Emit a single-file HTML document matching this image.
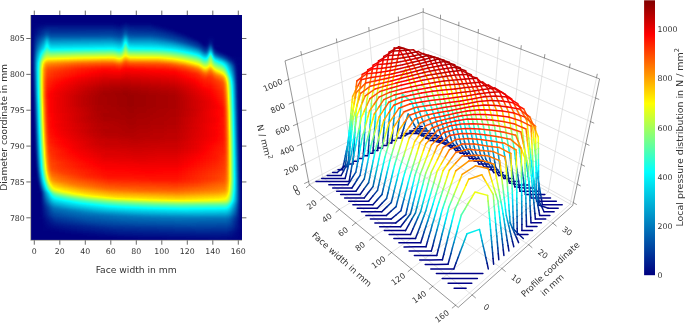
<!DOCTYPE html><html><head><meta charset="utf-8"><title>Local pressure distribution</title><style>html,body{margin:0;padding:0;background:#fff}svg{display:block}</style></head><body><svg width="685" height="324" viewBox="0 0 685 324" font-family="'DejaVu Sans','Liberation Sans',sans-serif"><defs><filter id="jet" filterUnits="userSpaceOnUse" x="25" y="9" width="223" height="237" color-interpolation-filters="sRGB"><feGaussianBlur stdDeviation="0.8 1.1"/><feComponentTransfer><feFuncR type="table" tableValues="0 0 0 0 .5 1 1 1 .5"/><feFuncG type="table" tableValues="0 .3333 .6667 1 1 1 .5 0 0"/><feFuncB type="table" tableValues=".5 .6667 .8333 1 .5 0 0 0 0"/><feFuncA type="linear" slope="0" intercept="1"/></feComponentTransfer></filter><clipPath id="hc"><rect x="31" y="15" width="211" height="225"/></clipPath><linearGradient id="h5"><stop offset="0" stop-color="#000000"/><stop offset="1" stop-color="#000000"/></linearGradient><linearGradient id="h6"><stop offset="0" stop-color="#000000"/><stop offset="0.09132" stop-color="#020202"/><stop offset="0.3881" stop-color="#020202"/><stop offset="0.4292" stop-color="#000000"/><stop offset="0.4521" stop-color="#060606"/><stop offset="0.4703" stop-color="#020202"/><stop offset="0.5616" stop-color="#020202"/><stop offset="0.5845" stop-color="#000000"/><stop offset="1" stop-color="#000000"/></linearGradient><linearGradient id="h7"><stop offset="0" stop-color="#000000"/><stop offset="0.02283" stop-color="#000000"/><stop offset="0.09132" stop-color="#070707"/><stop offset="0.3881" stop-color="#070707"/><stop offset="0.4247" stop-color="#040404"/><stop offset="0.4521" stop-color="#0b0b0b"/><stop offset="0.4703" stop-color="#070707"/><stop offset="0.5616" stop-color="#070707"/><stop offset="0.6164" stop-color="#000000"/><stop offset="1" stop-color="#000000"/></linearGradient><linearGradient id="h8"><stop offset="0" stop-color="#000000"/><stop offset="0.02283" stop-color="#000000"/><stop offset="0.09132" stop-color="#0c0c0c"/><stop offset="0.3881" stop-color="#0b0b0b"/><stop offset="0.4247" stop-color="#080808"/><stop offset="0.4521" stop-color="#101010"/><stop offset="0.4703" stop-color="#0c0c0c"/><stop offset="0.5616" stop-color="#0b0b0b"/><stop offset="0.6484" stop-color="#000000"/><stop offset="1" stop-color="#000000"/></linearGradient><linearGradient id="h9"><stop offset="0" stop-color="#000000"/><stop offset="0.02283" stop-color="#000000"/><stop offset="0.09132" stop-color="#121212"/><stop offset="0.1096" stop-color="#0f0f0f"/><stop offset="0.3881" stop-color="#101010"/><stop offset="0.4247" stop-color="#0d0d0d"/><stop offset="0.4521" stop-color="#161616"/><stop offset="0.4703" stop-color="#101010"/><stop offset="0.5799" stop-color="#0e0e0e"/><stop offset="0.6758" stop-color="#000000"/><stop offset="1" stop-color="#000000"/></linearGradient><linearGradient id="h10"><stop offset="0" stop-color="#000000"/><stop offset="0.02283" stop-color="#000000"/><stop offset="0.09132" stop-color="#181818"/><stop offset="0.1096" stop-color="#131313"/><stop offset="0.3881" stop-color="#151515"/><stop offset="0.4247" stop-color="#111111"/><stop offset="0.4338" stop-color="#131313"/><stop offset="0.4475" stop-color="#1d1d1d"/><stop offset="0.4521" stop-color="#1e1e1e"/><stop offset="0.4658" stop-color="#151515"/><stop offset="0.5799" stop-color="#131313"/><stop offset="0.6393" stop-color="#0c0c0c"/><stop offset="0.6986" stop-color="#000000"/><stop offset="1" stop-color="#000000"/></linearGradient><linearGradient id="h11"><stop offset="0" stop-color="#000000"/><stop offset="0.02283" stop-color="#000000"/><stop offset="0.07763" stop-color="#171717"/><stop offset="0.09132" stop-color="#202020"/><stop offset="0.1005" stop-color="#1a1a1a"/><stop offset="0.1096" stop-color="#181818"/><stop offset="0.3881" stop-color="#191919"/><stop offset="0.4247" stop-color="#161616"/><stop offset="0.4338" stop-color="#181818"/><stop offset="0.4384" stop-color="#1b1b1b"/><stop offset="0.4475" stop-color="#262626"/><stop offset="0.4521" stop-color="#262626"/><stop offset="0.4612" stop-color="#1c1c1c"/><stop offset="0.4658" stop-color="#1a1a1a"/><stop offset="0.5616" stop-color="#191919"/><stop offset="0.6027" stop-color="#161616"/><stop offset="0.6667" stop-color="#0d0d0d"/><stop offset="0.7215" stop-color="#000000"/><stop offset="1" stop-color="#000000"/></linearGradient><linearGradient id="h12"><stop offset="0" stop-color="#000000"/><stop offset="0.02283" stop-color="#000000"/><stop offset="0.04566" stop-color="#0e0e0e"/><stop offset="0.07763" stop-color="#1d1d1d"/><stop offset="0.09132" stop-color="#2b2b2b"/><stop offset="0.1005" stop-color="#212121"/><stop offset="0.1096" stop-color="#1e1e1e"/><stop offset="0.3836" stop-color="#1f1f1f"/><stop offset="0.4247" stop-color="#1a1a1a"/><stop offset="0.4338" stop-color="#1d1d1d"/><stop offset="0.4384" stop-color="#222222"/><stop offset="0.4475" stop-color="#353535"/><stop offset="0.4521" stop-color="#363636"/><stop offset="0.4612" stop-color="#252525"/><stop offset="0.4703" stop-color="#202020"/><stop offset="0.5616" stop-color="#1f1f1f"/><stop offset="0.6256" stop-color="#181818"/><stop offset="0.6849" stop-color="#0f0f0f"/><stop offset="0.7443" stop-color="#000000"/><stop offset="1" stop-color="#000000"/></linearGradient><linearGradient id="h13"><stop offset="0" stop-color="#000000"/><stop offset="0.02283" stop-color="#000000"/><stop offset="0.04566" stop-color="#121212"/><stop offset="0.07763" stop-color="#262626"/><stop offset="0.09132" stop-color="#3a3a3a"/><stop offset="0.09589" stop-color="#353535"/><stop offset="0.1005" stop-color="#2d2d2d"/><stop offset="0.105" stop-color="#282828"/><stop offset="0.1096" stop-color="#272727"/><stop offset="0.3881" stop-color="#292929"/><stop offset="0.4247" stop-color="#222222"/><stop offset="0.4338" stop-color="#272727"/><stop offset="0.4384" stop-color="#2d2d2d"/><stop offset="0.4475" stop-color="#464646"/><stop offset="0.4521" stop-color="#464646"/><stop offset="0.4612" stop-color="#303030"/><stop offset="0.4658" stop-color="#2b2b2b"/><stop offset="0.4703" stop-color="#2a2a2a"/><stop offset="0.5616" stop-color="#2a2a2a"/><stop offset="0.5845" stop-color="#272727"/><stop offset="0.6986" stop-color="#121212"/><stop offset="0.7626" stop-color="#000000"/><stop offset="0.8219" stop-color="#000000"/><stop offset="0.8402" stop-color="#030303"/><stop offset="0.8584" stop-color="#000000"/><stop offset="1" stop-color="#000000"/></linearGradient><linearGradient id="h14"><stop offset="0" stop-color="#000000"/><stop offset="0.02283" stop-color="#000000"/><stop offset="0.0274" stop-color="#040404"/><stop offset="0.04566" stop-color="#161616"/><stop offset="0.07763" stop-color="#2f2f2f"/><stop offset="0.08219" stop-color="#363636"/><stop offset="0.08676" stop-color="#424242"/><stop offset="0.09132" stop-color="#494949"/><stop offset="0.09589" stop-color="#424242"/><stop offset="0.1005" stop-color="#383838"/><stop offset="0.105" stop-color="#323232"/><stop offset="0.1096" stop-color="#313131"/><stop offset="0.3881" stop-color="#343434"/><stop offset="0.4247" stop-color="#2c2c2c"/><stop offset="0.4338" stop-color="#313131"/><stop offset="0.4384" stop-color="#383838"/><stop offset="0.4475" stop-color="#565656"/><stop offset="0.4521" stop-color="#565656"/><stop offset="0.4612" stop-color="#3b3b3b"/><stop offset="0.4658" stop-color="#353535"/><stop offset="0.4703" stop-color="#343434"/><stop offset="0.5616" stop-color="#343434"/><stop offset="0.6073" stop-color="#2e2e2e"/><stop offset="0.7306" stop-color="#111111"/><stop offset="0.7808" stop-color="#000000"/><stop offset="0.8219" stop-color="#000000"/><stop offset="0.8402" stop-color="#050505"/><stop offset="0.8584" stop-color="#000000"/><stop offset="1" stop-color="#000000"/></linearGradient><linearGradient id="h15"><stop offset="0" stop-color="#000000"/><stop offset="0.02283" stop-color="#000000"/><stop offset="0.0274" stop-color="#040404"/><stop offset="0.04566" stop-color="#1a1a1a"/><stop offset="0.07763" stop-color="#383838"/><stop offset="0.08219" stop-color="#404040"/><stop offset="0.08676" stop-color="#4e4e4e"/><stop offset="0.09132" stop-color="#565656"/><stop offset="0.09589" stop-color="#4f4f4f"/><stop offset="0.1005" stop-color="#424242"/><stop offset="0.105" stop-color="#3c3c3c"/><stop offset="0.1096" stop-color="#3a3a3a"/><stop offset="0.3881" stop-color="#3e3e3e"/><stop offset="0.4247" stop-color="#363636"/><stop offset="0.4338" stop-color="#3b3b3b"/><stop offset="0.4384" stop-color="#434343"/><stop offset="0.4475" stop-color="#656565"/><stop offset="0.4521" stop-color="#656565"/><stop offset="0.4612" stop-color="#464646"/><stop offset="0.4658" stop-color="#404040"/><stop offset="0.4703" stop-color="#3e3e3e"/><stop offset="0.5616" stop-color="#3e3e3e"/><stop offset="0.6301" stop-color="#353535"/><stop offset="0.6667" stop-color="#2d2d2d"/><stop offset="0.7123" stop-color="#1c1c1c"/><stop offset="0.7626" stop-color="#0f0f0f"/><stop offset="0.7808" stop-color="#080808"/><stop offset="0.7945" stop-color="#000000"/><stop offset="0.8265" stop-color="#010101"/><stop offset="0.8356" stop-color="#080808"/><stop offset="0.8402" stop-color="#0a0a0a"/><stop offset="0.8493" stop-color="#020202"/><stop offset="0.8584" stop-color="#000000"/><stop offset="1" stop-color="#000000"/></linearGradient><linearGradient id="h16"><stop offset="0" stop-color="#000000"/><stop offset="0.02283" stop-color="#000000"/><stop offset="0.0274" stop-color="#040404"/><stop offset="0.04566" stop-color="#1e1e1e"/><stop offset="0.07763" stop-color="#414141"/><stop offset="0.08219" stop-color="#494949"/><stop offset="0.08676" stop-color="#595959"/><stop offset="0.09132" stop-color="#616161"/><stop offset="0.09589" stop-color="#595959"/><stop offset="0.1005" stop-color="#4c4c4c"/><stop offset="0.105" stop-color="#454545"/><stop offset="0.1096" stop-color="#444444"/><stop offset="0.3836" stop-color="#484848"/><stop offset="0.4018" stop-color="#464646"/><stop offset="0.4247" stop-color="#404040"/><stop offset="0.4338" stop-color="#454545"/><stop offset="0.4384" stop-color="#4d4d4d"/><stop offset="0.4475" stop-color="#707070"/><stop offset="0.4521" stop-color="#717171"/><stop offset="0.4612" stop-color="#505050"/><stop offset="0.4658" stop-color="#4a4a4a"/><stop offset="0.4703" stop-color="#484848"/><stop offset="0.5753" stop-color="#474747"/><stop offset="0.653" stop-color="#3d3d3d"/><stop offset="0.6941" stop-color="#313131"/><stop offset="0.7397" stop-color="#1d1d1d"/><stop offset="0.7808" stop-color="#101010"/><stop offset="0.79" stop-color="#0b0b0b"/><stop offset="0.8037" stop-color="#000000"/><stop offset="0.8265" stop-color="#020202"/><stop offset="0.8356" stop-color="#0e0e0e"/><stop offset="0.8402" stop-color="#101010"/><stop offset="0.8493" stop-color="#030303"/><stop offset="0.8584" stop-color="#000000"/><stop offset="1" stop-color="#000000"/></linearGradient><linearGradient id="h17"><stop offset="0" stop-color="#000000"/><stop offset="0.02283" stop-color="#000000"/><stop offset="0.0274" stop-color="#040404"/><stop offset="0.04566" stop-color="#222222"/><stop offset="0.06393" stop-color="#3a3a3a"/><stop offset="0.07763" stop-color="#4a4a4a"/><stop offset="0.08219" stop-color="#525252"/><stop offset="0.08676" stop-color="#616161"/><stop offset="0.09132" stop-color="#696969"/><stop offset="0.09589" stop-color="#616161"/><stop offset="0.1005" stop-color="#555555"/><stop offset="0.105" stop-color="#4f4f4f"/><stop offset="0.1096" stop-color="#4d4d4d"/><stop offset="0.3836" stop-color="#525252"/><stop offset="0.4018" stop-color="#515151"/><stop offset="0.4247" stop-color="#4b4b4b"/><stop offset="0.4338" stop-color="#4f4f4f"/><stop offset="0.4384" stop-color="#575757"/><stop offset="0.4475" stop-color="#797979"/><stop offset="0.4521" stop-color="#797979"/><stop offset="0.4612" stop-color="#5a5a5a"/><stop offset="0.4658" stop-color="#545454"/><stop offset="0.5936" stop-color="#515151"/><stop offset="0.6667" stop-color="#464646"/><stop offset="0.6986" stop-color="#3d3d3d"/><stop offset="0.7306" stop-color="#303030"/><stop offset="0.7671" stop-color="#1c1c1c"/><stop offset="0.79" stop-color="#131313"/><stop offset="0.8128" stop-color="#030303"/><stop offset="0.8219" stop-color="#030303"/><stop offset="0.8265" stop-color="#080808"/><stop offset="0.8356" stop-color="#1f1f1f"/><stop offset="0.8402" stop-color="#202020"/><stop offset="0.8493" stop-color="#050505"/><stop offset="0.8539" stop-color="#010101"/><stop offset="1" stop-color="#000000"/></linearGradient><linearGradient id="h18"><stop offset="0" stop-color="#000000"/><stop offset="0.02283" stop-color="#000000"/><stop offset="0.0274" stop-color="#040404"/><stop offset="0.04566" stop-color="#262626"/><stop offset="0.06393" stop-color="#414141"/><stop offset="0.07763" stop-color="#525252"/><stop offset="0.08219" stop-color="#5a5a5a"/><stop offset="0.08676" stop-color="#676767"/><stop offset="0.09132" stop-color="#6e6e6e"/><stop offset="0.09589" stop-color="#686868"/><stop offset="0.1005" stop-color="#5d5d5d"/><stop offset="0.105" stop-color="#585858"/><stop offset="0.1096" stop-color="#575757"/><stop offset="0.3836" stop-color="#5c5c5c"/><stop offset="0.4018" stop-color="#5b5b5b"/><stop offset="0.4247" stop-color="#555555"/><stop offset="0.4338" stop-color="#595959"/><stop offset="0.4384" stop-color="#606060"/><stop offset="0.4475" stop-color="#818181"/><stop offset="0.4521" stop-color="#828282"/><stop offset="0.4612" stop-color="#646464"/><stop offset="0.4658" stop-color="#5e5e5e"/><stop offset="0.6027" stop-color="#5b5b5b"/><stop offset="0.6758" stop-color="#515151"/><stop offset="0.7123" stop-color="#464646"/><stop offset="0.7489" stop-color="#373737"/><stop offset="0.7763" stop-color="#272727"/><stop offset="0.8037" stop-color="#111111"/><stop offset="0.8128" stop-color="#0c0c0c"/><stop offset="0.8219" stop-color="#0c0c0c"/><stop offset="0.8265" stop-color="#111111"/><stop offset="0.8311" stop-color="#1e1e1e"/><stop offset="0.8356" stop-color="#2f2f2f"/><stop offset="0.8402" stop-color="#313131"/><stop offset="0.8493" stop-color="#0d0d0d"/><stop offset="0.8539" stop-color="#020202"/><stop offset="0.8584" stop-color="#000000"/><stop offset="1" stop-color="#000000"/></linearGradient><linearGradient id="h19"><stop offset="0" stop-color="#000000"/><stop offset="0.02283" stop-color="#000000"/><stop offset="0.0274" stop-color="#040404"/><stop offset="0.04566" stop-color="#2b2b2b"/><stop offset="0.06393" stop-color="#4b4b4b"/><stop offset="0.08219" stop-color="#656565"/><stop offset="0.08676" stop-color="#717171"/><stop offset="0.09132" stop-color="#767676"/><stop offset="0.09589" stop-color="#727272"/><stop offset="0.1005" stop-color="#696969"/><stop offset="0.105" stop-color="#656565"/><stop offset="0.1096" stop-color="#646464"/><stop offset="0.3836" stop-color="#6b6b6b"/><stop offset="0.4018" stop-color="#686868"/><stop offset="0.4155" stop-color="#616161"/><stop offset="0.4247" stop-color="#606060"/><stop offset="0.4338" stop-color="#666666"/><stop offset="0.4384" stop-color="#6e6e6e"/><stop offset="0.4475" stop-color="#8a8a8a"/><stop offset="0.4521" stop-color="#8b8b8b"/><stop offset="0.4612" stop-color="#727272"/><stop offset="0.4658" stop-color="#6d6d6d"/><stop offset="0.4703" stop-color="#6b6b6b"/><stop offset="0.6119" stop-color="#686868"/><stop offset="0.6667" stop-color="#606060"/><stop offset="0.7169" stop-color="#535353"/><stop offset="0.7489" stop-color="#464646"/><stop offset="0.7763" stop-color="#383838"/><stop offset="0.79" stop-color="#2c2c2c"/><stop offset="0.8037" stop-color="#191919"/><stop offset="0.8128" stop-color="#141414"/><stop offset="0.8219" stop-color="#151515"/><stop offset="0.8265" stop-color="#1b1b1b"/><stop offset="0.8311" stop-color="#2a2a2a"/><stop offset="0.8356" stop-color="#404040"/><stop offset="0.8402" stop-color="#434343"/><stop offset="0.8493" stop-color="#181818"/><stop offset="0.8539" stop-color="#0d0d0d"/><stop offset="0.8676" stop-color="#000000"/><stop offset="1" stop-color="#000000"/></linearGradient><linearGradient id="h20"><stop offset="0" stop-color="#000000"/><stop offset="0.02283" stop-color="#000000"/><stop offset="0.0274" stop-color="#040404"/><stop offset="0.04566" stop-color="#313131"/><stop offset="0.06393" stop-color="#555555"/><stop offset="0.07306" stop-color="#656565"/><stop offset="0.08219" stop-color="#717171"/><stop offset="0.08676" stop-color="#7a7a7a"/><stop offset="0.09132" stop-color="#7f7f7f"/><stop offset="0.1005" stop-color="#767676"/><stop offset="0.1096" stop-color="#737373"/><stop offset="0.3836" stop-color="#7a7a7a"/><stop offset="0.4018" stop-color="#787878"/><stop offset="0.4155" stop-color="#707070"/><stop offset="0.4247" stop-color="#6f6f6f"/><stop offset="0.4338" stop-color="#757575"/><stop offset="0.4384" stop-color="#7c7c7c"/><stop offset="0.4475" stop-color="#939393"/><stop offset="0.4521" stop-color="#939393"/><stop offset="0.4612" stop-color="#808080"/><stop offset="0.4703" stop-color="#7a7a7a"/><stop offset="0.5753" stop-color="#7a7a7a"/><stop offset="0.6164" stop-color="#777777"/><stop offset="0.6667" stop-color="#6f6f6f"/><stop offset="0.7215" stop-color="#606060"/><stop offset="0.7534" stop-color="#545454"/><stop offset="0.7808" stop-color="#464646"/><stop offset="0.79" stop-color="#3e3e3e"/><stop offset="0.8082" stop-color="#222222"/><stop offset="0.8128" stop-color="#1f1f1f"/><stop offset="0.8174" stop-color="#1e1e1e"/><stop offset="0.8219" stop-color="#212121"/><stop offset="0.8265" stop-color="#2b2b2b"/><stop offset="0.8311" stop-color="#3f3f3f"/><stop offset="0.8356" stop-color="#585858"/><stop offset="0.8402" stop-color="#5c5c5c"/><stop offset="0.8447" stop-color="#414141"/><stop offset="0.8493" stop-color="#232323"/><stop offset="0.8539" stop-color="#171717"/><stop offset="0.8584" stop-color="#111111"/><stop offset="0.8813" stop-color="#020202"/><stop offset="0.8858" stop-color="#000000"/><stop offset="1" stop-color="#000000"/></linearGradient><linearGradient id="h21"><stop offset="0" stop-color="#000000"/><stop offset="0.02283" stop-color="#000000"/><stop offset="0.0274" stop-color="#040404"/><stop offset="0.04566" stop-color="#363636"/><stop offset="0.06393" stop-color="#5e5e5e"/><stop offset="0.07306" stop-color="#707070"/><stop offset="0.08676" stop-color="#848484"/><stop offset="0.09132" stop-color="#878787"/><stop offset="0.1005" stop-color="#828282"/><stop offset="0.1096" stop-color="#808080"/><stop offset="0.2329" stop-color="#858585"/><stop offset="0.3881" stop-color="#888888"/><stop offset="0.4018" stop-color="#868686"/><stop offset="0.4201" stop-color="#7e7e7e"/><stop offset="0.4247" stop-color="#7e7e7e"/><stop offset="0.4338" stop-color="#848484"/><stop offset="0.4384" stop-color="#8a8a8a"/><stop offset="0.4475" stop-color="#9b9b9b"/><stop offset="0.4521" stop-color="#9b9b9b"/><stop offset="0.4612" stop-color="#8d8d8d"/><stop offset="0.4703" stop-color="#898989"/><stop offset="0.6073" stop-color="#868686"/><stop offset="0.653" stop-color="#818181"/><stop offset="0.6986" stop-color="#767676"/><stop offset="0.7489" stop-color="#656565"/><stop offset="0.7808" stop-color="#575757"/><stop offset="0.79" stop-color="#4f4f4f"/><stop offset="0.8082" stop-color="#353535"/><stop offset="0.8128" stop-color="#323232"/><stop offset="0.8174" stop-color="#323232"/><stop offset="0.8219" stop-color="#353535"/><stop offset="0.8265" stop-color="#3f3f3f"/><stop offset="0.8311" stop-color="#545454"/><stop offset="0.8356" stop-color="#6d6d6d"/><stop offset="0.8402" stop-color="#717171"/><stop offset="0.8447" stop-color="#575757"/><stop offset="0.8493" stop-color="#393939"/><stop offset="0.8539" stop-color="#262626"/><stop offset="0.8584" stop-color="#1c1c1c"/><stop offset="0.863" stop-color="#181818"/><stop offset="0.8813" stop-color="#0d0d0d"/><stop offset="0.9087" stop-color="#000000"/><stop offset="1" stop-color="#000000"/></linearGradient><linearGradient id="h22"><stop offset="0" stop-color="#000000"/><stop offset="0.02283" stop-color="#000000"/><stop offset="0.0274" stop-color="#040404"/><stop offset="0.04566" stop-color="#3b3b3b"/><stop offset="0.06849" stop-color="#717171"/><stop offset="0.07763" stop-color="#828282"/><stop offset="0.08676" stop-color="#8d8d8d"/><stop offset="0.09132" stop-color="#909090"/><stop offset="0.105" stop-color="#8c8c8c"/><stop offset="0.2329" stop-color="#929292"/><stop offset="0.3836" stop-color="#969696"/><stop offset="0.4018" stop-color="#949494"/><stop offset="0.4155" stop-color="#8d8d8d"/><stop offset="0.4247" stop-color="#8c8c8c"/><stop offset="0.4338" stop-color="#919191"/><stop offset="0.4475" stop-color="#a4a4a4"/><stop offset="0.4521" stop-color="#a4a4a4"/><stop offset="0.4612" stop-color="#9a9a9a"/><stop offset="0.4703" stop-color="#969696"/><stop offset="0.6073" stop-color="#949494"/><stop offset="0.6621" stop-color="#8d8d8d"/><stop offset="0.7032" stop-color="#848484"/><stop offset="0.7443" stop-color="#767676"/><stop offset="0.7808" stop-color="#676767"/><stop offset="0.7945" stop-color="#5b5b5b"/><stop offset="0.8082" stop-color="#484848"/><stop offset="0.8128" stop-color="#454545"/><stop offset="0.8174" stop-color="#454545"/><stop offset="0.8219" stop-color="#494949"/><stop offset="0.8265" stop-color="#525252"/><stop offset="0.8356" stop-color="#7d7d7d"/><stop offset="0.8402" stop-color="#818181"/><stop offset="0.8447" stop-color="#6a6a6a"/><stop offset="0.8493" stop-color="#4e4e4e"/><stop offset="0.8539" stop-color="#3c3c3c"/><stop offset="0.8584" stop-color="#333333"/><stop offset="0.8767" stop-color="#1c1c1c"/><stop offset="0.9178" stop-color="#050505"/><stop offset="0.9315" stop-color="#000000"/><stop offset="1" stop-color="#000000"/></linearGradient><linearGradient id="h23"><stop offset="0" stop-color="#000000"/><stop offset="0.02283" stop-color="#000000"/><stop offset="0.0274" stop-color="#030303"/><stop offset="0.04566" stop-color="#3f3f3f"/><stop offset="0.06849" stop-color="#7a7a7a"/><stop offset="0.07763" stop-color="#8d8d8d"/><stop offset="0.08676" stop-color="#979797"/><stop offset="0.09132" stop-color="#9a9a9a"/><stop offset="0.105" stop-color="#999999"/><stop offset="0.2329" stop-color="#9f9f9f"/><stop offset="0.379" stop-color="#a3a3a3"/><stop offset="0.3973" stop-color="#a2a2a2"/><stop offset="0.4247" stop-color="#999999"/><stop offset="0.4338" stop-color="#9f9f9f"/><stop offset="0.4475" stop-color="#afafaf"/><stop offset="0.4521" stop-color="#b0b0b0"/><stop offset="0.4612" stop-color="#a7a7a7"/><stop offset="0.4703" stop-color="#a3a3a3"/><stop offset="0.5982" stop-color="#a2a2a2"/><stop offset="0.6438" stop-color="#9d9d9d"/><stop offset="0.6849" stop-color="#959595"/><stop offset="0.7397" stop-color="#868686"/><stop offset="0.7763" stop-color="#787878"/><stop offset="0.79" stop-color="#6f6f6f"/><stop offset="0.8037" stop-color="#5f5f5f"/><stop offset="0.8128" stop-color="#585858"/><stop offset="0.8219" stop-color="#5c5c5c"/><stop offset="0.8265" stop-color="#636363"/><stop offset="0.8356" stop-color="#868686"/><stop offset="0.8402" stop-color="#898989"/><stop offset="0.8493" stop-color="#616161"/><stop offset="0.8539" stop-color="#525252"/><stop offset="0.8584" stop-color="#494949"/><stop offset="0.8995" stop-color="#1a1a1a"/><stop offset="0.9224" stop-color="#0a0a0a"/><stop offset="0.9406" stop-color="#020202"/><stop offset="1" stop-color="#000000"/></linearGradient><linearGradient id="h24"><stop offset="0" stop-color="#000000"/><stop offset="0.02283" stop-color="#000000"/><stop offset="0.0274" stop-color="#020202"/><stop offset="0.04566" stop-color="#444444"/><stop offset="0.06849" stop-color="#858585"/><stop offset="0.07763" stop-color="#999999"/><stop offset="0.09132" stop-color="#a6a6a6"/><stop offset="0.3516" stop-color="#b2b2b2"/><stop offset="0.3973" stop-color="#b1b1b1"/><stop offset="0.4155" stop-color="#a9a9a9"/><stop offset="0.4247" stop-color="#a7a7a7"/><stop offset="0.4338" stop-color="#adadad"/><stop offset="0.4475" stop-color="#bdbdbd"/><stop offset="0.4521" stop-color="#bebebe"/><stop offset="0.4612" stop-color="#b6b6b6"/><stop offset="0.4703" stop-color="#b2b2b2"/><stop offset="0.5982" stop-color="#b1b1b1"/><stop offset="0.6393" stop-color="#acacac"/><stop offset="0.6804" stop-color="#a4a4a4"/><stop offset="0.7306" stop-color="#969696"/><stop offset="0.7763" stop-color="#868686"/><stop offset="0.79" stop-color="#7e7e7e"/><stop offset="0.8037" stop-color="#6e6e6e"/><stop offset="0.8128" stop-color="#676767"/><stop offset="0.8219" stop-color="#6a6a6a"/><stop offset="0.8265" stop-color="#717171"/><stop offset="0.8356" stop-color="#8e8e8e"/><stop offset="0.8402" stop-color="#909090"/><stop offset="0.8493" stop-color="#6e6e6e"/><stop offset="0.8539" stop-color="#636363"/><stop offset="0.8904" stop-color="#3e3e3e"/><stop offset="0.9224" stop-color="#111111"/><stop offset="0.9406" stop-color="#060606"/><stop offset="0.9543" stop-color="#010101"/><stop offset="1" stop-color="#000000"/></linearGradient><linearGradient id="h25"><stop offset="0" stop-color="#000000"/><stop offset="0.0274" stop-color="#020202"/><stop offset="0.04566" stop-color="#484848"/><stop offset="0.06849" stop-color="#8f8f8f"/><stop offset="0.07763" stop-color="#a6a6a6"/><stop offset="0.09132" stop-color="#b3b3b3"/><stop offset="0.2329" stop-color="#bdbdbd"/><stop offset="0.3516" stop-color="#c1c1c1"/><stop offset="0.3973" stop-color="#c0c0c0"/><stop offset="0.4155" stop-color="#b8b8b8"/><stop offset="0.4247" stop-color="#b6b6b6"/><stop offset="0.4338" stop-color="#bcbcbc"/><stop offset="0.4429" stop-color="#c8c8c8"/><stop offset="0.4521" stop-color="#cbcbcb"/><stop offset="0.4703" stop-color="#c2c2c2"/><stop offset="0.5936" stop-color="#c0c0c0"/><stop offset="0.6712" stop-color="#b5b5b5"/><stop offset="0.7123" stop-color="#aaaaaa"/><stop offset="0.7763" stop-color="#939393"/><stop offset="0.79" stop-color="#8b8b8b"/><stop offset="0.8082" stop-color="#787878"/><stop offset="0.8128" stop-color="#767676"/><stop offset="0.8219" stop-color="#797979"/><stop offset="0.8265" stop-color="#7f7f7f"/><stop offset="0.8356" stop-color="#949494"/><stop offset="0.8402" stop-color="#959595"/><stop offset="0.8493" stop-color="#7b7b7b"/><stop offset="0.8539" stop-color="#727272"/><stop offset="0.863" stop-color="#696969"/><stop offset="0.8904" stop-color="#575757"/><stop offset="0.9041" stop-color="#434343"/><stop offset="0.9224" stop-color="#222222"/><stop offset="0.9406" stop-color="#0b0b0b"/><stop offset="0.9498" stop-color="#040404"/><stop offset="0.9589" stop-color="#000000"/><stop offset="1" stop-color="#000000"/></linearGradient><linearGradient id="h26"><stop offset="0" stop-color="#000000"/><stop offset="0.0274" stop-color="#010101"/><stop offset="0.04566" stop-color="#4b4b4b"/><stop offset="0.06849" stop-color="#969696"/><stop offset="0.07763" stop-color="#afafaf"/><stop offset="0.09132" stop-color="#bdbdbd"/><stop offset="0.2329" stop-color="#c8c8c8"/><stop offset="0.347" stop-color="#cccccc"/><stop offset="0.3973" stop-color="#cccccc"/><stop offset="0.4247" stop-color="#c6c6c6"/><stop offset="0.4429" stop-color="#cfcfcf"/><stop offset="0.4521" stop-color="#d1d1d1"/><stop offset="0.4703" stop-color="#cdcdcd"/><stop offset="0.6027" stop-color="#cccccc"/><stop offset="0.6484" stop-color="#c9c9c9"/><stop offset="0.6667" stop-color="#c6c6c6"/><stop offset="0.7215" stop-color="#b6b6b6"/><stop offset="0.7763" stop-color="#a0a0a0"/><stop offset="0.79" stop-color="#989898"/><stop offset="0.8037" stop-color="#8a8a8a"/><stop offset="0.8128" stop-color="#848484"/><stop offset="0.8219" stop-color="#868686"/><stop offset="0.8265" stop-color="#8b8b8b"/><stop offset="0.8356" stop-color="#9b9b9b"/><stop offset="0.8402" stop-color="#9c9c9c"/><stop offset="0.8493" stop-color="#878787"/><stop offset="0.8539" stop-color="#7f7f7f"/><stop offset="0.863" stop-color="#777777"/><stop offset="0.8904" stop-color="#656565"/><stop offset="0.9041" stop-color="#565656"/><stop offset="0.9132" stop-color="#464646"/><stop offset="0.9269" stop-color="#292929"/><stop offset="0.9498" stop-color="#070707"/><stop offset="0.9589" stop-color="#010101"/><stop offset="1" stop-color="#000000"/></linearGradient><linearGradient id="h27"><stop offset="0" stop-color="#000000"/><stop offset="0.0274" stop-color="#000000"/><stop offset="0.04566" stop-color="#4c4c4c"/><stop offset="0.05936" stop-color="#797979"/><stop offset="0.06849" stop-color="#9a9a9a"/><stop offset="0.07763" stop-color="#b4b4b4"/><stop offset="0.09132" stop-color="#c3c3c3"/><stop offset="0.2329" stop-color="#cecece"/><stop offset="0.347" stop-color="#d3d3d3"/><stop offset="0.3973" stop-color="#d3d3d3"/><stop offset="0.4247" stop-color="#cfcfcf"/><stop offset="0.4521" stop-color="#d8d8d8"/><stop offset="0.4703" stop-color="#d4d4d4"/><stop offset="0.6347" stop-color="#d1d1d1"/><stop offset="0.7123" stop-color="#c8c8c8"/><stop offset="0.7489" stop-color="#bbbbbb"/><stop offset="0.7808" stop-color="#acacac"/><stop offset="0.79" stop-color="#a5a5a5"/><stop offset="0.8082" stop-color="#939393"/><stop offset="0.8128" stop-color="#919191"/><stop offset="0.8219" stop-color="#939393"/><stop offset="0.8356" stop-color="#a5a5a5"/><stop offset="0.8402" stop-color="#a4a4a4"/><stop offset="0.8539" stop-color="#8c8c8c"/><stop offset="0.863" stop-color="#848484"/><stop offset="0.8904" stop-color="#747474"/><stop offset="0.9041" stop-color="#646464"/><stop offset="0.9269" stop-color="#363636"/><stop offset="0.9498" stop-color="#0c0c0c"/><stop offset="0.9543" stop-color="#060606"/><stop offset="0.9589" stop-color="#010101"/><stop offset="0.9635" stop-color="#000000"/><stop offset="1" stop-color="#000000"/></linearGradient><linearGradient id="h28"><stop offset="0" stop-color="#000000"/><stop offset="0.0274" stop-color="#000000"/><stop offset="0.04566" stop-color="#4d4d4d"/><stop offset="0.05936" stop-color="#7c7c7c"/><stop offset="0.06849" stop-color="#9e9e9e"/><stop offset="0.07763" stop-color="#b9b9b9"/><stop offset="0.09132" stop-color="#c9c9c9"/><stop offset="0.2329" stop-color="#d5d5d5"/><stop offset="0.347" stop-color="#dadada"/><stop offset="0.3973" stop-color="#dadada"/><stop offset="0.4247" stop-color="#d6d6d6"/><stop offset="0.4429" stop-color="#dddddd"/><stop offset="0.4521" stop-color="#dddddd"/><stop offset="0.4749" stop-color="#dbdbdb"/><stop offset="0.6256" stop-color="#d8d8d8"/><stop offset="0.6712" stop-color="#d5d5d5"/><stop offset="0.7169" stop-color="#cecece"/><stop offset="0.758" stop-color="#c6c6c6"/><stop offset="0.7763" stop-color="#bebebe"/><stop offset="0.79" stop-color="#b4b4b4"/><stop offset="0.8037" stop-color="#a4a4a4"/><stop offset="0.8128" stop-color="#9e9e9e"/><stop offset="0.8219" stop-color="#a0a0a0"/><stop offset="0.8356" stop-color="#b1b1b1"/><stop offset="0.8402" stop-color="#b0b0b0"/><stop offset="0.8539" stop-color="#999999"/><stop offset="0.863" stop-color="#919191"/><stop offset="0.8904" stop-color="#818181"/><stop offset="0.9041" stop-color="#717171"/><stop offset="0.9269" stop-color="#3e3e3e"/><stop offset="0.9361" stop-color="#2d2d2d"/><stop offset="0.9498" stop-color="#101010"/><stop offset="0.9589" stop-color="#020202"/><stop offset="0.9635" stop-color="#000000"/><stop offset="1" stop-color="#000000"/></linearGradient><linearGradient id="h29"><stop offset="0" stop-color="#000000"/><stop offset="0.0274" stop-color="#000000"/><stop offset="0.03196" stop-color="#111111"/><stop offset="0.04566" stop-color="#4d4d4d"/><stop offset="0.05023" stop-color="#5f5f5f"/><stop offset="0.05936" stop-color="#7d7d7d"/><stop offset="0.06849" stop-color="#a0a0a0"/><stop offset="0.07763" stop-color="#bcbcbc"/><stop offset="0.09132" stop-color="#cccccc"/><stop offset="0.2374" stop-color="#d9d9d9"/><stop offset="0.3516" stop-color="#dedede"/><stop offset="0.4247" stop-color="#dddddd"/><stop offset="0.4521" stop-color="#e0e0e0"/><stop offset="0.6712" stop-color="#dcdcdc"/><stop offset="0.7397" stop-color="#d0d0d0"/><stop offset="0.7854" stop-color="#c5c5c5"/><stop offset="0.79" stop-color="#c4c4c4"/><stop offset="0.8037" stop-color="#b3b3b3"/><stop offset="0.8128" stop-color="#acacac"/><stop offset="0.8219" stop-color="#afafaf"/><stop offset="0.8356" stop-color="#bebebe"/><stop offset="0.8402" stop-color="#bebebe"/><stop offset="0.8539" stop-color="#a6a6a6"/><stop offset="0.8584" stop-color="#a1a1a1"/><stop offset="0.8904" stop-color="#8d8d8d"/><stop offset="0.9041" stop-color="#7d7d7d"/><stop offset="0.9269" stop-color="#474747"/><stop offset="0.9361" stop-color="#343434"/><stop offset="0.9498" stop-color="#131313"/><stop offset="0.9589" stop-color="#030303"/><stop offset="0.9635" stop-color="#000000"/><stop offset="1" stop-color="#000000"/></linearGradient><linearGradient id="h30"><stop offset="0" stop-color="#000000"/><stop offset="0.0274" stop-color="#000000"/><stop offset="0.03196" stop-color="#101010"/><stop offset="0.05023" stop-color="#5f5f5f"/><stop offset="0.05936" stop-color="#7d7d7d"/><stop offset="0.06849" stop-color="#a0a0a0"/><stop offset="0.07763" stop-color="#bcbcbc"/><stop offset="0.09132" stop-color="#cecece"/><stop offset="0.1279" stop-color="#d3d3d3"/><stop offset="0.2374" stop-color="#dbdbdb"/><stop offset="0.3516" stop-color="#e1e1e1"/><stop offset="0.4247" stop-color="#e0e0e0"/><stop offset="0.4521" stop-color="#e2e2e2"/><stop offset="0.6712" stop-color="#dfdfdf"/><stop offset="0.7215" stop-color="#dadada"/><stop offset="0.7717" stop-color="#d0d0d0"/><stop offset="0.7945" stop-color="#c8c8c8"/><stop offset="0.8128" stop-color="#bbbbbb"/><stop offset="0.8174" stop-color="#bbbbbb"/><stop offset="0.8356" stop-color="#c6c6c6"/><stop offset="0.8402" stop-color="#c5c5c5"/><stop offset="0.8447" stop-color="#c2c2c2"/><stop offset="0.8584" stop-color="#b0b0b0"/><stop offset="0.895" stop-color="#969696"/><stop offset="0.9041" stop-color="#898989"/><stop offset="0.9132" stop-color="#737373"/><stop offset="0.9269" stop-color="#4f4f4f"/><stop offset="0.9361" stop-color="#3b3b3b"/><stop offset="0.9498" stop-color="#161616"/><stop offset="0.9589" stop-color="#030303"/><stop offset="0.9635" stop-color="#000000"/><stop offset="1" stop-color="#000000"/></linearGradient><linearGradient id="h31"><stop offset="0" stop-color="#000000"/><stop offset="0.0274" stop-color="#000000"/><stop offset="0.03196" stop-color="#0f0f0f"/><stop offset="0.05023" stop-color="#5f5f5f"/><stop offset="0.05936" stop-color="#7d7d7d"/><stop offset="0.06849" stop-color="#a1a1a1"/><stop offset="0.07763" stop-color="#bdbdbd"/><stop offset="0.09132" stop-color="#cfcfcf"/><stop offset="0.1279" stop-color="#d4d4d4"/><stop offset="0.2374" stop-color="#dddddd"/><stop offset="0.3516" stop-color="#e3e3e3"/><stop offset="0.4247" stop-color="#e3e3e3"/><stop offset="0.4521" stop-color="#e5e5e5"/><stop offset="0.6712" stop-color="#e1e1e1"/><stop offset="0.7671" stop-color="#d8d8d8"/><stop offset="0.7854" stop-color="#d3d3d3"/><stop offset="0.8128" stop-color="#c6c6c6"/><stop offset="0.8402" stop-color="#cbcbcb"/><stop offset="0.8904" stop-color="#a8a8a8"/><stop offset="0.895" stop-color="#a3a3a3"/><stop offset="0.9041" stop-color="#959595"/><stop offset="0.9178" stop-color="#727272"/><stop offset="0.9269" stop-color="#575757"/><stop offset="0.9361" stop-color="#414141"/><stop offset="0.9498" stop-color="#191919"/><stop offset="0.9589" stop-color="#040404"/><stop offset="0.9635" stop-color="#000000"/><stop offset="1" stop-color="#000000"/></linearGradient><linearGradient id="h32"><stop offset="0" stop-color="#000000"/><stop offset="0.0274" stop-color="#000000"/><stop offset="0.03196" stop-color="#0e0e0e"/><stop offset="0.05023" stop-color="#5f5f5f"/><stop offset="0.05936" stop-color="#7d7d7d"/><stop offset="0.06849" stop-color="#a1a1a1"/><stop offset="0.07763" stop-color="#bebebe"/><stop offset="0.09132" stop-color="#d1d1d1"/><stop offset="0.1279" stop-color="#d6d6d6"/><stop offset="0.2374" stop-color="#dfdfdf"/><stop offset="0.3516" stop-color="#e6e6e6"/><stop offset="0.4247" stop-color="#e5e5e5"/><stop offset="0.4521" stop-color="#e8e8e8"/><stop offset="0.6712" stop-color="#e3e3e3"/><stop offset="0.7854" stop-color="#d7d7d7"/><stop offset="0.8128" stop-color="#cdcdcd"/><stop offset="0.8402" stop-color="#d2d2d2"/><stop offset="0.8539" stop-color="#c8c8c8"/><stop offset="0.8813" stop-color="#bdbdbd"/><stop offset="0.8904" stop-color="#b6b6b6"/><stop offset="0.895" stop-color="#b2b2b2"/><stop offset="0.9041" stop-color="#a3a3a3"/><stop offset="0.9087" stop-color="#989898"/><stop offset="0.9178" stop-color="#7d7d7d"/><stop offset="0.9269" stop-color="#5f5f5f"/><stop offset="0.9361" stop-color="#474747"/><stop offset="0.9498" stop-color="#1c1c1c"/><stop offset="0.9589" stop-color="#050505"/><stop offset="0.9635" stop-color="#000000"/><stop offset="1" stop-color="#000000"/></linearGradient><linearGradient id="h33"><stop offset="0" stop-color="#000000"/><stop offset="0.0274" stop-color="#000000"/><stop offset="0.03196" stop-color="#0d0d0d"/><stop offset="0.05023" stop-color="#5f5f5f"/><stop offset="0.05936" stop-color="#7d7d7d"/><stop offset="0.06849" stop-color="#a2a2a2"/><stop offset="0.07763" stop-color="#bfbfbf"/><stop offset="0.08219" stop-color="#c7c7c7"/><stop offset="0.09132" stop-color="#d3d3d3"/><stop offset="0.1279" stop-color="#d8d8d8"/><stop offset="0.2374" stop-color="#e1e1e1"/><stop offset="0.3516" stop-color="#e8e8e8"/><stop offset="0.4247" stop-color="#e8e8e8"/><stop offset="0.4521" stop-color="#eaeaea"/><stop offset="0.6712" stop-color="#e6e6e6"/><stop offset="0.7717" stop-color="#dbdbdb"/><stop offset="0.8128" stop-color="#d3d3d3"/><stop offset="0.8356" stop-color="#d4d4d4"/><stop offset="0.8493" stop-color="#d1d1d1"/><stop offset="0.8584" stop-color="#cccccc"/><stop offset="0.8904" stop-color="#c0c0c0"/><stop offset="0.895" stop-color="#bdbdbd"/><stop offset="0.9041" stop-color="#b0b0b0"/><stop offset="0.9087" stop-color="#a5a5a5"/><stop offset="0.9178" stop-color="#888888"/><stop offset="0.9269" stop-color="#686868"/><stop offset="0.9361" stop-color="#4e4e4e"/><stop offset="0.9498" stop-color="#1f1f1f"/><stop offset="0.9589" stop-color="#060606"/><stop offset="0.9635" stop-color="#000000"/><stop offset="1" stop-color="#000000"/></linearGradient><linearGradient id="h34"><stop offset="0" stop-color="#000000"/><stop offset="0.0274" stop-color="#000000"/><stop offset="0.03196" stop-color="#0b0b0b"/><stop offset="0.05023" stop-color="#5f5f5f"/><stop offset="0.05936" stop-color="#7d7d7d"/><stop offset="0.06849" stop-color="#a2a2a2"/><stop offset="0.07763" stop-color="#bfbfbf"/><stop offset="0.08219" stop-color="#c8c8c8"/><stop offset="0.09132" stop-color="#d4d4d4"/><stop offset="0.1279" stop-color="#dadada"/><stop offset="0.2374" stop-color="#e4e4e4"/><stop offset="0.3516" stop-color="#ebebeb"/><stop offset="0.4521" stop-color="#ededed"/><stop offset="0.6712" stop-color="#e8e8e8"/><stop offset="0.7626" stop-color="#dfdfdf"/><stop offset="0.8128" stop-color="#d7d7d7"/><stop offset="0.8402" stop-color="#d6d6d6"/><stop offset="0.8584" stop-color="#d2d2d2"/><stop offset="0.8904" stop-color="#c6c6c6"/><stop offset="0.895" stop-color="#c3c3c3"/><stop offset="0.9041" stop-color="#b6b6b6"/><stop offset="0.9087" stop-color="#acacac"/><stop offset="0.9178" stop-color="#919191"/><stop offset="0.9269" stop-color="#717171"/><stop offset="0.9361" stop-color="#555555"/><stop offset="0.9498" stop-color="#232323"/><stop offset="0.9543" stop-color="#131313"/><stop offset="0.9589" stop-color="#070707"/><stop offset="0.9635" stop-color="#000000"/><stop offset="1" stop-color="#000000"/></linearGradient><linearGradient id="h35"><stop offset="0" stop-color="#000000"/><stop offset="0.0274" stop-color="#000000"/><stop offset="0.03196" stop-color="#0a0a0a"/><stop offset="0.05023" stop-color="#5e5e5e"/><stop offset="0.05936" stop-color="#7d7d7d"/><stop offset="0.06849" stop-color="#a2a2a2"/><stop offset="0.07763" stop-color="#c0c0c0"/><stop offset="0.08219" stop-color="#c9c9c9"/><stop offset="0.09132" stop-color="#d5d5d5"/><stop offset="0.1279" stop-color="#dbdbdb"/><stop offset="0.2374" stop-color="#e5e5e5"/><stop offset="0.3516" stop-color="#ededed"/><stop offset="0.4521" stop-color="#efefef"/><stop offset="0.6712" stop-color="#eaeaea"/><stop offset="0.7626" stop-color="#e1e1e1"/><stop offset="0.8128" stop-color="#d9d9d9"/><stop offset="0.8402" stop-color="#d8d8d8"/><stop offset="0.8904" stop-color="#cccccc"/><stop offset="0.895" stop-color="#cacaca"/><stop offset="0.9041" stop-color="#bcbcbc"/><stop offset="0.9087" stop-color="#b2b2b2"/><stop offset="0.9178" stop-color="#969696"/><stop offset="0.9269" stop-color="#757575"/><stop offset="0.9361" stop-color="#5a5a5a"/><stop offset="0.9406" stop-color="#4b4b4b"/><stop offset="0.9543" stop-color="#151515"/><stop offset="0.9589" stop-color="#080808"/><stop offset="0.9635" stop-color="#000000"/><stop offset="1" stop-color="#000000"/></linearGradient><linearGradient id="h36"><stop offset="0" stop-color="#000000"/><stop offset="0.0274" stop-color="#000000"/><stop offset="0.03196" stop-color="#090909"/><stop offset="0.05023" stop-color="#5e5e5e"/><stop offset="0.05936" stop-color="#7d7d7d"/><stop offset="0.06849" stop-color="#a2a2a2"/><stop offset="0.07763" stop-color="#c0c0c0"/><stop offset="0.08219" stop-color="#cacaca"/><stop offset="0.09132" stop-color="#d6d6d6"/><stop offset="0.1279" stop-color="#dddddd"/><stop offset="0.2374" stop-color="#e7e7e7"/><stop offset="0.3516" stop-color="#efefef"/><stop offset="0.4521" stop-color="#f1f1f1"/><stop offset="0.6712" stop-color="#ececec"/><stop offset="0.7626" stop-color="#e3e3e3"/><stop offset="0.8128" stop-color="#dadada"/><stop offset="0.8402" stop-color="#dadada"/><stop offset="0.895" stop-color="#cdcdcd"/><stop offset="0.9041" stop-color="#c1c1c1"/><stop offset="0.9087" stop-color="#b8b8b8"/><stop offset="0.9178" stop-color="#9c9c9c"/><stop offset="0.9269" stop-color="#7a7a7a"/><stop offset="0.9406" stop-color="#4e4e4e"/><stop offset="0.9543" stop-color="#171717"/><stop offset="0.9589" stop-color="#0a0a0a"/><stop offset="0.9635" stop-color="#000000"/><stop offset="1" stop-color="#000000"/></linearGradient><linearGradient id="h37"><stop offset="0" stop-color="#000000"/><stop offset="0.0274" stop-color="#000000"/><stop offset="0.03196" stop-color="#080808"/><stop offset="0.05023" stop-color="#5d5d5d"/><stop offset="0.05936" stop-color="#7c7c7c"/><stop offset="0.06849" stop-color="#a2a2a2"/><stop offset="0.07763" stop-color="#c0c0c0"/><stop offset="0.08219" stop-color="#cbcbcb"/><stop offset="0.09132" stop-color="#d7d7d7"/><stop offset="0.1279" stop-color="#dedede"/><stop offset="0.2374" stop-color="#e9e9e9"/><stop offset="0.3516" stop-color="#f1f1f1"/><stop offset="0.4521" stop-color="#f3f3f3"/><stop offset="0.6712" stop-color="#eeeeee"/><stop offset="0.7671" stop-color="#e4e4e4"/><stop offset="0.8128" stop-color="#dcdcdc"/><stop offset="0.8402" stop-color="#dbdbdb"/><stop offset="0.895" stop-color="#cfcfcf"/><stop offset="0.9041" stop-color="#c3c3c3"/><stop offset="0.9087" stop-color="#bababa"/><stop offset="0.9178" stop-color="#9f9f9f"/><stop offset="0.9269" stop-color="#7e7e7e"/><stop offset="0.9406" stop-color="#525252"/><stop offset="0.9543" stop-color="#181818"/><stop offset="0.9589" stop-color="#0b0b0b"/><stop offset="0.9635" stop-color="#000000"/><stop offset="1" stop-color="#000000"/></linearGradient><linearGradient id="h38"><stop offset="0" stop-color="#000000"/><stop offset="0.0274" stop-color="#000000"/><stop offset="0.03196" stop-color="#070707"/><stop offset="0.05023" stop-color="#5c5c5c"/><stop offset="0.05936" stop-color="#7c7c7c"/><stop offset="0.06849" stop-color="#a1a1a1"/><stop offset="0.07306" stop-color="#b1b1b1"/><stop offset="0.07763" stop-color="#c0c0c0"/><stop offset="0.08219" stop-color="#cccccc"/><stop offset="0.09132" stop-color="#d8d8d8"/><stop offset="0.1279" stop-color="#dfdfdf"/><stop offset="0.242" stop-color="#eaeaea"/><stop offset="0.3516" stop-color="#f2f2f2"/><stop offset="0.4521" stop-color="#f4f4f4"/><stop offset="0.6712" stop-color="#efefef"/><stop offset="0.7626" stop-color="#e6e6e6"/><stop offset="0.8128" stop-color="#dedede"/><stop offset="0.8402" stop-color="#dddddd"/><stop offset="0.895" stop-color="#d1d1d1"/><stop offset="0.9087" stop-color="#bcbcbc"/><stop offset="0.9178" stop-color="#a1a1a1"/><stop offset="0.9269" stop-color="#808080"/><stop offset="0.9406" stop-color="#545454"/><stop offset="0.9543" stop-color="#1a1a1a"/><stop offset="0.9635" stop-color="#000000"/><stop offset="1" stop-color="#000000"/></linearGradient><linearGradient id="h39"><stop offset="0" stop-color="#000000"/><stop offset="0.0274" stop-color="#000000"/><stop offset="0.03196" stop-color="#050505"/><stop offset="0.05023" stop-color="#5b5b5b"/><stop offset="0.05936" stop-color="#7c7c7c"/><stop offset="0.07306" stop-color="#b1b1b1"/><stop offset="0.08219" stop-color="#cccccc"/><stop offset="0.09132" stop-color="#d9d9d9"/><stop offset="0.09589" stop-color="#dbdbdb"/><stop offset="0.1324" stop-color="#e1e1e1"/><stop offset="0.2694" stop-color="#eeeeee"/><stop offset="0.3516" stop-color="#f4f4f4"/><stop offset="0.4521" stop-color="#f6f6f6"/><stop offset="0.6758" stop-color="#f1f1f1"/><stop offset="0.8402" stop-color="#dedede"/><stop offset="0.895" stop-color="#d3d3d3"/><stop offset="0.9087" stop-color="#bfbfbf"/><stop offset="0.9178" stop-color="#a3a3a3"/><stop offset="0.9269" stop-color="#818181"/><stop offset="0.9406" stop-color="#565656"/><stop offset="0.9543" stop-color="#1b1b1b"/><stop offset="0.9635" stop-color="#000000"/><stop offset="1" stop-color="#000000"/></linearGradient><linearGradient id="h40"><stop offset="0" stop-color="#000000"/><stop offset="0.0274" stop-color="#000000"/><stop offset="0.03196" stop-color="#040404"/><stop offset="0.05023" stop-color="#5b5b5b"/><stop offset="0.05936" stop-color="#7b7b7b"/><stop offset="0.07306" stop-color="#b1b1b1"/><stop offset="0.08219" stop-color="#cdcdcd"/><stop offset="0.09132" stop-color="#d9d9d9"/><stop offset="0.09589" stop-color="#dcdcdc"/><stop offset="0.1324" stop-color="#e2e2e2"/><stop offset="0.2694" stop-color="#efefef"/><stop offset="0.3516" stop-color="#f5f5f5"/><stop offset="0.4521" stop-color="#f7f7f7"/><stop offset="0.6758" stop-color="#f2f2f2"/><stop offset="0.8402" stop-color="#dfdfdf"/><stop offset="0.895" stop-color="#d4d4d4"/><stop offset="0.9087" stop-color="#c1c1c1"/><stop offset="0.9178" stop-color="#a5a5a5"/><stop offset="0.9269" stop-color="#838383"/><stop offset="0.9406" stop-color="#575757"/><stop offset="0.9543" stop-color="#1c1c1c"/><stop offset="0.9635" stop-color="#000000"/><stop offset="1" stop-color="#000000"/></linearGradient><linearGradient id="h41"><stop offset="0" stop-color="#000000"/><stop offset="0.0274" stop-color="#000000"/><stop offset="0.03196" stop-color="#030303"/><stop offset="0.05023" stop-color="#5a5a5a"/><stop offset="0.06393" stop-color="#8c8c8c"/><stop offset="0.07306" stop-color="#b1b1b1"/><stop offset="0.08219" stop-color="#cdcdcd"/><stop offset="0.09132" stop-color="#dadada"/><stop offset="0.09589" stop-color="#dddddd"/><stop offset="0.1324" stop-color="#e3e3e3"/><stop offset="0.2877" stop-color="#f1f1f1"/><stop offset="0.3562" stop-color="#f6f6f6"/><stop offset="0.4566" stop-color="#f8f8f8"/><stop offset="0.6758" stop-color="#f3f3f3"/><stop offset="0.8402" stop-color="#e0e0e0"/><stop offset="0.895" stop-color="#d5d5d5"/><stop offset="0.9087" stop-color="#c3c3c3"/><stop offset="0.9178" stop-color="#a6a6a6"/><stop offset="0.9269" stop-color="#858585"/><stop offset="0.9406" stop-color="#595959"/><stop offset="0.9543" stop-color="#1d1d1d"/><stop offset="0.9635" stop-color="#000000"/><stop offset="1" stop-color="#000000"/></linearGradient><linearGradient id="h42"><stop offset="0" stop-color="#000000"/><stop offset="0.03196" stop-color="#010101"/><stop offset="0.05023" stop-color="#595959"/><stop offset="0.06393" stop-color="#8c8c8c"/><stop offset="0.07306" stop-color="#b1b1b1"/><stop offset="0.08219" stop-color="#cdcdcd"/><stop offset="0.09132" stop-color="#dadada"/><stop offset="0.09589" stop-color="#dedede"/><stop offset="0.2374" stop-color="#eeeeee"/><stop offset="0.3333" stop-color="#f5f5f5"/><stop offset="0.4749" stop-color="#f8f8f8"/><stop offset="0.6758" stop-color="#f4f4f4"/><stop offset="0.8402" stop-color="#e1e1e1"/><stop offset="0.895" stop-color="#d6d6d6"/><stop offset="0.9087" stop-color="#c4c4c4"/><stop offset="0.9178" stop-color="#a8a8a8"/><stop offset="0.9269" stop-color="#878787"/><stop offset="0.9406" stop-color="#5a5a5a"/><stop offset="0.9543" stop-color="#1e1e1e"/><stop offset="0.9635" stop-color="#000000"/><stop offset="1" stop-color="#000000"/></linearGradient><linearGradient id="h43"><stop offset="0" stop-color="#000000"/><stop offset="0.03196" stop-color="#000000"/><stop offset="0.05023" stop-color="#575757"/><stop offset="0.06393" stop-color="#8a8a8a"/><stop offset="0.07306" stop-color="#b0b0b0"/><stop offset="0.08219" stop-color="#cdcdcd"/><stop offset="0.09589" stop-color="#dedede"/><stop offset="0.1324" stop-color="#e3e3e3"/><stop offset="0.2374" stop-color="#eeeeee"/><stop offset="0.3288" stop-color="#f5f5f5"/><stop offset="0.4749" stop-color="#f8f8f8"/><stop offset="0.6758" stop-color="#f4f4f4"/><stop offset="0.8402" stop-color="#e2e2e2"/><stop offset="0.895" stop-color="#d7d7d7"/><stop offset="0.9087" stop-color="#c6c6c6"/><stop offset="0.9178" stop-color="#a9a9a9"/><stop offset="0.9315" stop-color="#787878"/><stop offset="0.9406" stop-color="#5c5c5c"/><stop offset="0.9543" stop-color="#1f1f1f"/><stop offset="0.9635" stop-color="#010101"/><stop offset="1" stop-color="#000000"/></linearGradient><linearGradient id="h44"><stop offset="0" stop-color="#000000"/><stop offset="0.03196" stop-color="#000000"/><stop offset="0.05023" stop-color="#565656"/><stop offset="0.06393" stop-color="#898989"/><stop offset="0.07306" stop-color="#afafaf"/><stop offset="0.08219" stop-color="#cccccc"/><stop offset="0.09589" stop-color="#dddddd"/><stop offset="0.1324" stop-color="#e3e3e3"/><stop offset="0.2374" stop-color="#eeeeee"/><stop offset="0.3288" stop-color="#f5f5f5"/><stop offset="0.4749" stop-color="#f8f8f8"/><stop offset="0.6758" stop-color="#f4f4f4"/><stop offset="0.8402" stop-color="#e3e3e3"/><stop offset="0.895" stop-color="#d8d8d8"/><stop offset="0.9087" stop-color="#c7c7c7"/><stop offset="0.9178" stop-color="#ababab"/><stop offset="0.9315" stop-color="#7a7a7a"/><stop offset="0.9406" stop-color="#5d5d5d"/><stop offset="0.9543" stop-color="#212121"/><stop offset="0.9635" stop-color="#020202"/><stop offset="0.968" stop-color="#000000"/><stop offset="1" stop-color="#000000"/></linearGradient><linearGradient id="h45"><stop offset="0" stop-color="#000000"/><stop offset="0.03196" stop-color="#000000"/><stop offset="0.03653" stop-color="#131313"/><stop offset="0.05023" stop-color="#555555"/><stop offset="0.05479" stop-color="#676767"/><stop offset="0.06393" stop-color="#888888"/><stop offset="0.07306" stop-color="#aeaeae"/><stop offset="0.08219" stop-color="#cccccc"/><stop offset="0.09589" stop-color="#dddddd"/><stop offset="0.1324" stop-color="#e3e3e3"/><stop offset="0.2374" stop-color="#eeeeee"/><stop offset="0.3288" stop-color="#f5f5f5"/><stop offset="0.4749" stop-color="#f8f8f8"/><stop offset="0.6758" stop-color="#f4f4f4"/><stop offset="0.8402" stop-color="#e4e4e4"/><stop offset="0.895" stop-color="#d9d9d9"/><stop offset="0.9087" stop-color="#c8c8c8"/><stop offset="0.9178" stop-color="#acacac"/><stop offset="0.9315" stop-color="#7b7b7b"/><stop offset="0.9406" stop-color="#5e5e5e"/><stop offset="0.9543" stop-color="#222222"/><stop offset="0.9635" stop-color="#030303"/><stop offset="0.968" stop-color="#000000"/><stop offset="1" stop-color="#000000"/></linearGradient><linearGradient id="h46"><stop offset="0" stop-color="#000000"/><stop offset="0.03196" stop-color="#000000"/><stop offset="0.03653" stop-color="#121212"/><stop offset="0.05023" stop-color="#535353"/><stop offset="0.05479" stop-color="#666666"/><stop offset="0.06393" stop-color="#878787"/><stop offset="0.07306" stop-color="#adadad"/><stop offset="0.08219" stop-color="#cbcbcb"/><stop offset="0.09589" stop-color="#dddddd"/><stop offset="0.1324" stop-color="#e3e3e3"/><stop offset="0.2374" stop-color="#eeeeee"/><stop offset="0.3288" stop-color="#f5f5f5"/><stop offset="0.4749" stop-color="#f8f8f8"/><stop offset="0.6758" stop-color="#f4f4f4"/><stop offset="0.8447" stop-color="#e3e3e3"/><stop offset="0.895" stop-color="#dadada"/><stop offset="0.9087" stop-color="#c9c9c9"/><stop offset="0.9178" stop-color="#aeaeae"/><stop offset="0.9315" stop-color="#7c7c7c"/><stop offset="0.9406" stop-color="#5f5f5f"/><stop offset="0.9543" stop-color="#232323"/><stop offset="0.9635" stop-color="#030303"/><stop offset="0.968" stop-color="#000000"/><stop offset="1" stop-color="#000000"/></linearGradient><linearGradient id="h47"><stop offset="0" stop-color="#000000"/><stop offset="0.03196" stop-color="#000000"/><stop offset="0.03653" stop-color="#111111"/><stop offset="0.05479" stop-color="#656565"/><stop offset="0.06393" stop-color="#858585"/><stop offset="0.07306" stop-color="#acacac"/><stop offset="0.08219" stop-color="#cacaca"/><stop offset="0.09589" stop-color="#dddddd"/><stop offset="0.1324" stop-color="#e3e3e3"/><stop offset="0.2374" stop-color="#eeeeee"/><stop offset="0.3288" stop-color="#f4f4f4"/><stop offset="0.4749" stop-color="#f8f8f8"/><stop offset="0.6758" stop-color="#f4f4f4"/><stop offset="0.8584" stop-color="#e2e2e2"/><stop offset="0.895" stop-color="#dbdbdb"/><stop offset="0.8995" stop-color="#d7d7d7"/><stop offset="0.9087" stop-color="#cacaca"/><stop offset="0.9132" stop-color="#bdbdbd"/><stop offset="0.9224" stop-color="#9f9f9f"/><stop offset="0.9315" stop-color="#7d7d7d"/><stop offset="0.9406" stop-color="#606060"/><stop offset="0.9543" stop-color="#242424"/><stop offset="0.9635" stop-color="#040404"/><stop offset="0.968" stop-color="#000000"/><stop offset="1" stop-color="#000000"/></linearGradient><linearGradient id="h48"><stop offset="0" stop-color="#000000"/><stop offset="0.03196" stop-color="#000000"/><stop offset="0.03653" stop-color="#0f0f0f"/><stop offset="0.05479" stop-color="#646464"/><stop offset="0.06393" stop-color="#848484"/><stop offset="0.07306" stop-color="#ababab"/><stop offset="0.08219" stop-color="#c9c9c9"/><stop offset="0.09589" stop-color="#dddddd"/><stop offset="0.1324" stop-color="#e3e3e3"/><stop offset="0.3242" stop-color="#f4f4f4"/><stop offset="0.4749" stop-color="#f7f7f7"/><stop offset="0.6758" stop-color="#f4f4f4"/><stop offset="0.8584" stop-color="#e2e2e2"/><stop offset="0.895" stop-color="#dcdcdc"/><stop offset="0.8995" stop-color="#d8d8d8"/><stop offset="0.9087" stop-color="#cbcbcb"/><stop offset="0.9132" stop-color="#bfbfbf"/><stop offset="0.9224" stop-color="#a1a1a1"/><stop offset="0.9315" stop-color="#7e7e7e"/><stop offset="0.9406" stop-color="#616161"/><stop offset="0.9543" stop-color="#252525"/><stop offset="0.9635" stop-color="#050505"/><stop offset="0.968" stop-color="#000000"/><stop offset="1" stop-color="#000000"/></linearGradient><linearGradient id="h49"><stop offset="0" stop-color="#000000"/><stop offset="0.03196" stop-color="#000000"/><stop offset="0.03653" stop-color="#0e0e0e"/><stop offset="0.05479" stop-color="#636363"/><stop offset="0.06393" stop-color="#838383"/><stop offset="0.07306" stop-color="#aaaaaa"/><stop offset="0.08219" stop-color="#c8c8c8"/><stop offset="0.09589" stop-color="#dddddd"/><stop offset="0.1324" stop-color="#e3e3e3"/><stop offset="0.3242" stop-color="#f4f4f4"/><stop offset="0.4749" stop-color="#f7f7f7"/><stop offset="0.6758" stop-color="#f3f3f3"/><stop offset="0.7671" stop-color="#ececec"/><stop offset="0.895" stop-color="#dcdcdc"/><stop offset="0.8995" stop-color="#d9d9d9"/><stop offset="0.9087" stop-color="#cccccc"/><stop offset="0.9132" stop-color="#c0c0c0"/><stop offset="0.9224" stop-color="#a2a2a2"/><stop offset="0.9315" stop-color="#808080"/><stop offset="0.9406" stop-color="#636363"/><stop offset="0.9543" stop-color="#262626"/><stop offset="0.9635" stop-color="#060606"/><stop offset="0.968" stop-color="#000000"/><stop offset="1" stop-color="#000000"/></linearGradient><linearGradient id="h50"><stop offset="0" stop-color="#000000"/><stop offset="0.03196" stop-color="#000000"/><stop offset="0.03653" stop-color="#0d0d0d"/><stop offset="0.05479" stop-color="#626262"/><stop offset="0.06393" stop-color="#828282"/><stop offset="0.07306" stop-color="#a9a9a9"/><stop offset="0.08219" stop-color="#c7c7c7"/><stop offset="0.08676" stop-color="#d0d0d0"/><stop offset="0.09589" stop-color="#dddddd"/><stop offset="0.1324" stop-color="#e3e3e3"/><stop offset="0.3196" stop-color="#f3f3f3"/><stop offset="0.4749" stop-color="#f7f7f7"/><stop offset="0.6758" stop-color="#f3f3f3"/><stop offset="0.7671" stop-color="#ebebeb"/><stop offset="0.895" stop-color="#dcdcdc"/><stop offset="0.8995" stop-color="#d9d9d9"/><stop offset="0.9087" stop-color="#cdcdcd"/><stop offset="0.9132" stop-color="#c1c1c1"/><stop offset="0.9224" stop-color="#a4a4a4"/><stop offset="0.9315" stop-color="#818181"/><stop offset="0.9406" stop-color="#646464"/><stop offset="0.9543" stop-color="#282828"/><stop offset="0.9635" stop-color="#060606"/><stop offset="0.968" stop-color="#000000"/><stop offset="1" stop-color="#000000"/></linearGradient><linearGradient id="h51"><stop offset="0" stop-color="#000000"/><stop offset="0.03196" stop-color="#000000"/><stop offset="0.03653" stop-color="#0b0b0b"/><stop offset="0.05479" stop-color="#616161"/><stop offset="0.06393" stop-color="#818181"/><stop offset="0.07306" stop-color="#a7a7a7"/><stop offset="0.08219" stop-color="#c6c6c6"/><stop offset="0.08676" stop-color="#d0d0d0"/><stop offset="0.09589" stop-color="#dcdcdc"/><stop offset="0.1324" stop-color="#e2e2e2"/><stop offset="0.3105" stop-color="#f2f2f2"/><stop offset="0.3562" stop-color="#f5f5f5"/><stop offset="0.4749" stop-color="#f6f6f6"/><stop offset="0.6758" stop-color="#f3f3f3"/><stop offset="0.7671" stop-color="#ebebeb"/><stop offset="0.895" stop-color="#dcdcdc"/><stop offset="0.8995" stop-color="#d9d9d9"/><stop offset="0.9087" stop-color="#cdcdcd"/><stop offset="0.9132" stop-color="#c2c2c2"/><stop offset="0.9224" stop-color="#a4a4a4"/><stop offset="0.9315" stop-color="#828282"/><stop offset="0.9406" stop-color="#656565"/><stop offset="0.9543" stop-color="#292929"/><stop offset="0.9635" stop-color="#070707"/><stop offset="0.968" stop-color="#000000"/><stop offset="1" stop-color="#000000"/></linearGradient><linearGradient id="h52"><stop offset="0" stop-color="#000000"/><stop offset="0.03196" stop-color="#000000"/><stop offset="0.03653" stop-color="#0a0a0a"/><stop offset="0.05479" stop-color="#606060"/><stop offset="0.06393" stop-color="#808080"/><stop offset="0.07306" stop-color="#a6a6a6"/><stop offset="0.08219" stop-color="#c5c5c5"/><stop offset="0.08676" stop-color="#cfcfcf"/><stop offset="0.09589" stop-color="#dcdcdc"/><stop offset="0.1324" stop-color="#e2e2e2"/><stop offset="0.2968" stop-color="#f1f1f1"/><stop offset="0.3562" stop-color="#f5f5f5"/><stop offset="0.4749" stop-color="#f6f6f6"/><stop offset="0.6758" stop-color="#f3f3f3"/><stop offset="0.7671" stop-color="#ebebeb"/><stop offset="0.895" stop-color="#dcdcdc"/><stop offset="0.8995" stop-color="#dadada"/><stop offset="0.9087" stop-color="#cdcdcd"/><stop offset="0.9132" stop-color="#c2c2c2"/><stop offset="0.9224" stop-color="#a5a5a5"/><stop offset="0.9315" stop-color="#828282"/><stop offset="0.9406" stop-color="#656565"/><stop offset="0.9452" stop-color="#535353"/><stop offset="0.9543" stop-color="#2a2a2a"/><stop offset="0.9589" stop-color="#171717"/><stop offset="0.9635" stop-color="#080808"/><stop offset="0.968" stop-color="#000000"/><stop offset="1" stop-color="#000000"/></linearGradient><linearGradient id="h53"><stop offset="0" stop-color="#000000"/><stop offset="0.03196" stop-color="#000000"/><stop offset="0.03653" stop-color="#080808"/><stop offset="0.05479" stop-color="#5f5f5f"/><stop offset="0.06393" stop-color="#7f7f7f"/><stop offset="0.07306" stop-color="#a5a5a5"/><stop offset="0.08219" stop-color="#c4c4c4"/><stop offset="0.08676" stop-color="#cfcfcf"/><stop offset="0.09589" stop-color="#dbdbdb"/><stop offset="0.1324" stop-color="#e2e2e2"/><stop offset="0.2831" stop-color="#f0f0f0"/><stop offset="0.3562" stop-color="#f4f4f4"/><stop offset="0.4749" stop-color="#f6f6f6"/><stop offset="0.6758" stop-color="#f2f2f2"/><stop offset="0.863" stop-color="#e1e1e1"/><stop offset="0.8995" stop-color="#dadada"/><stop offset="0.9087" stop-color="#cdcdcd"/><stop offset="0.9132" stop-color="#c3c3c3"/><stop offset="0.9224" stop-color="#a6a6a6"/><stop offset="0.9315" stop-color="#838383"/><stop offset="0.9406" stop-color="#666666"/><stop offset="0.9452" stop-color="#545454"/><stop offset="0.9589" stop-color="#181818"/><stop offset="0.9635" stop-color="#090909"/><stop offset="0.968" stop-color="#000000"/><stop offset="1" stop-color="#000000"/></linearGradient><linearGradient id="h54"><stop offset="0" stop-color="#000000"/><stop offset="0.03196" stop-color="#000000"/><stop offset="0.03653" stop-color="#070707"/><stop offset="0.05479" stop-color="#5e5e5e"/><stop offset="0.06393" stop-color="#7e7e7e"/><stop offset="0.07306" stop-color="#a4a4a4"/><stop offset="0.08219" stop-color="#c3c3c3"/><stop offset="0.08676" stop-color="#cecece"/><stop offset="0.09589" stop-color="#dbdbdb"/><stop offset="0.1324" stop-color="#e2e2e2"/><stop offset="0.2648" stop-color="#eeeeee"/><stop offset="0.3562" stop-color="#f4f4f4"/><stop offset="0.4749" stop-color="#f5f5f5"/><stop offset="0.6758" stop-color="#f2f2f2"/><stop offset="0.863" stop-color="#e1e1e1"/><stop offset="0.8995" stop-color="#dadada"/><stop offset="0.9087" stop-color="#cecece"/><stop offset="0.9132" stop-color="#c4c4c4"/><stop offset="0.9224" stop-color="#a7a7a7"/><stop offset="0.9315" stop-color="#848484"/><stop offset="0.9406" stop-color="#676767"/><stop offset="0.9452" stop-color="#555555"/><stop offset="0.9589" stop-color="#191919"/><stop offset="0.9635" stop-color="#090909"/><stop offset="0.968" stop-color="#000000"/><stop offset="1" stop-color="#000000"/></linearGradient><linearGradient id="h55"><stop offset="0" stop-color="#000000"/><stop offset="0.03196" stop-color="#000000"/><stop offset="0.03653" stop-color="#060606"/><stop offset="0.05479" stop-color="#5c5c5c"/><stop offset="0.06393" stop-color="#7d7d7d"/><stop offset="0.07763" stop-color="#b3b3b3"/><stop offset="0.08676" stop-color="#cecece"/><stop offset="0.09589" stop-color="#dadada"/><stop offset="0.1005" stop-color="#dddddd"/><stop offset="0.242" stop-color="#ececec"/><stop offset="0.3288" stop-color="#f2f2f2"/><stop offset="0.4749" stop-color="#f5f5f5"/><stop offset="0.6758" stop-color="#f2f2f2"/><stop offset="0.863" stop-color="#e1e1e1"/><stop offset="0.8995" stop-color="#dadada"/><stop offset="0.9087" stop-color="#cecece"/><stop offset="0.9132" stop-color="#c4c4c4"/><stop offset="0.9224" stop-color="#a8a8a8"/><stop offset="0.9315" stop-color="#858585"/><stop offset="0.9406" stop-color="#676767"/><stop offset="0.9452" stop-color="#565656"/><stop offset="0.9589" stop-color="#191919"/><stop offset="0.9635" stop-color="#0a0a0a"/><stop offset="0.968" stop-color="#000000"/><stop offset="1" stop-color="#000000"/></linearGradient><linearGradient id="h56"><stop offset="0" stop-color="#000000"/><stop offset="0.03196" stop-color="#000000"/><stop offset="0.03653" stop-color="#040404"/><stop offset="0.05479" stop-color="#5b5b5b"/><stop offset="0.06393" stop-color="#7c7c7c"/><stop offset="0.07763" stop-color="#b2b2b2"/><stop offset="0.08676" stop-color="#cdcdcd"/><stop offset="0.09589" stop-color="#d9d9d9"/><stop offset="0.1005" stop-color="#dcdcdc"/><stop offset="0.137" stop-color="#e2e2e2"/><stop offset="0.3242" stop-color="#f1f1f1"/><stop offset="0.4749" stop-color="#f5f5f5"/><stop offset="0.6758" stop-color="#f2f2f2"/><stop offset="0.863" stop-color="#e0e0e0"/><stop offset="0.8995" stop-color="#dadada"/><stop offset="0.9087" stop-color="#cecece"/><stop offset="0.9132" stop-color="#c5c5c5"/><stop offset="0.9224" stop-color="#a8a8a8"/><stop offset="0.9315" stop-color="#858585"/><stop offset="0.9452" stop-color="#575757"/><stop offset="0.9589" stop-color="#1a1a1a"/><stop offset="0.9635" stop-color="#0b0b0b"/><stop offset="0.968" stop-color="#000000"/><stop offset="1" stop-color="#000000"/></linearGradient><linearGradient id="h57"><stop offset="0" stop-color="#000000"/><stop offset="0.03196" stop-color="#000000"/><stop offset="0.03653" stop-color="#030303"/><stop offset="0.05479" stop-color="#5a5a5a"/><stop offset="0.06849" stop-color="#8c8c8c"/><stop offset="0.07763" stop-color="#b1b1b1"/><stop offset="0.08676" stop-color="#cccccc"/><stop offset="0.09589" stop-color="#d9d9d9"/><stop offset="0.1005" stop-color="#dcdcdc"/><stop offset="0.137" stop-color="#e2e2e2"/><stop offset="0.3242" stop-color="#f1f1f1"/><stop offset="0.4749" stop-color="#f4f4f4"/><stop offset="0.6758" stop-color="#f1f1f1"/><stop offset="0.863" stop-color="#e0e0e0"/><stop offset="0.8995" stop-color="#dbdbdb"/><stop offset="0.9087" stop-color="#cecece"/><stop offset="0.9132" stop-color="#c5c5c5"/><stop offset="0.9224" stop-color="#a9a9a9"/><stop offset="0.9315" stop-color="#868686"/><stop offset="0.9452" stop-color="#585858"/><stop offset="0.9589" stop-color="#1b1b1b"/><stop offset="0.9635" stop-color="#0c0c0c"/><stop offset="0.968" stop-color="#000000"/><stop offset="1" stop-color="#000000"/></linearGradient><linearGradient id="h58"><stop offset="0" stop-color="#000000"/><stop offset="0.03653" stop-color="#010101"/><stop offset="0.05479" stop-color="#585858"/><stop offset="0.06849" stop-color="#8b8b8b"/><stop offset="0.07763" stop-color="#afafaf"/><stop offset="0.08676" stop-color="#cccccc"/><stop offset="0.09589" stop-color="#d8d8d8"/><stop offset="0.1005" stop-color="#dcdcdc"/><stop offset="0.137" stop-color="#e1e1e1"/><stop offset="0.3196" stop-color="#f0f0f0"/><stop offset="0.4749" stop-color="#f4f4f4"/><stop offset="0.6758" stop-color="#f1f1f1"/><stop offset="0.7717" stop-color="#e9e9e9"/><stop offset="0.8995" stop-color="#dbdbdb"/><stop offset="0.9132" stop-color="#c6c6c6"/><stop offset="0.9224" stop-color="#a9a9a9"/><stop offset="0.9315" stop-color="#878787"/><stop offset="0.9452" stop-color="#595959"/><stop offset="0.9589" stop-color="#1c1c1c"/><stop offset="0.968" stop-color="#000000"/><stop offset="1" stop-color="#000000"/></linearGradient><linearGradient id="h59"><stop offset="0" stop-color="#000000"/><stop offset="0.03653" stop-color="#000000"/><stop offset="0.05479" stop-color="#565656"/><stop offset="0.06849" stop-color="#898989"/><stop offset="0.07763" stop-color="#aeaeae"/><stop offset="0.08676" stop-color="#cbcbcb"/><stop offset="0.1005" stop-color="#dbdbdb"/><stop offset="0.1553" stop-color="#e3e3e3"/><stop offset="0.3014" stop-color="#efefef"/><stop offset="0.3607" stop-color="#f2f2f2"/><stop offset="0.4749" stop-color="#f3f3f3"/><stop offset="0.6804" stop-color="#f0f0f0"/><stop offset="0.863" stop-color="#e0e0e0"/><stop offset="0.8995" stop-color="#dadada"/><stop offset="0.9132" stop-color="#c7c7c7"/><stop offset="0.9224" stop-color="#aaaaaa"/><stop offset="0.9315" stop-color="#888888"/><stop offset="0.9452" stop-color="#5a5a5a"/><stop offset="0.9589" stop-color="#1c1c1c"/><stop offset="0.968" stop-color="#000000"/><stop offset="1" stop-color="#000000"/></linearGradient><linearGradient id="h60"><stop offset="0" stop-color="#000000"/><stop offset="0.03653" stop-color="#000000"/><stop offset="0.05479" stop-color="#555555"/><stop offset="0.06849" stop-color="#878787"/><stop offset="0.07763" stop-color="#acacac"/><stop offset="0.08676" stop-color="#cacaca"/><stop offset="0.1005" stop-color="#dbdbdb"/><stop offset="0.137" stop-color="#e0e0e0"/><stop offset="0.2785" stop-color="#ededed"/><stop offset="0.3607" stop-color="#f2f2f2"/><stop offset="0.4749" stop-color="#f3f3f3"/><stop offset="0.6804" stop-color="#f0f0f0"/><stop offset="0.863" stop-color="#e0e0e0"/><stop offset="0.8995" stop-color="#dadada"/><stop offset="0.9132" stop-color="#c7c7c7"/><stop offset="0.9224" stop-color="#ababab"/><stop offset="0.9315" stop-color="#898989"/><stop offset="0.9452" stop-color="#5b5b5b"/><stop offset="0.9589" stop-color="#1d1d1d"/><stop offset="0.968" stop-color="#000000"/><stop offset="1" stop-color="#000000"/></linearGradient><linearGradient id="h61"><stop offset="0" stop-color="#000000"/><stop offset="0.03653" stop-color="#000000"/><stop offset="0.0411" stop-color="#131313"/><stop offset="0.05479" stop-color="#535353"/><stop offset="0.05936" stop-color="#666666"/><stop offset="0.06849" stop-color="#868686"/><stop offset="0.07763" stop-color="#ababab"/><stop offset="0.08676" stop-color="#c9c9c9"/><stop offset="0.1005" stop-color="#dadada"/><stop offset="0.137" stop-color="#e0e0e0"/><stop offset="0.2922" stop-color="#ededed"/><stop offset="0.3607" stop-color="#f1f1f1"/><stop offset="0.4749" stop-color="#f2f2f2"/><stop offset="0.6804" stop-color="#efefef"/><stop offset="0.863" stop-color="#e0e0e0"/><stop offset="0.8995" stop-color="#dadada"/><stop offset="0.9132" stop-color="#c8c8c8"/><stop offset="0.9224" stop-color="#ababab"/><stop offset="0.9315" stop-color="#898989"/><stop offset="0.9452" stop-color="#5c5c5c"/><stop offset="0.9589" stop-color="#1e1e1e"/><stop offset="0.968" stop-color="#000000"/><stop offset="1" stop-color="#000000"/></linearGradient><linearGradient id="h62"><stop offset="0" stop-color="#000000"/><stop offset="0.03653" stop-color="#000000"/><stop offset="0.0411" stop-color="#111111"/><stop offset="0.05479" stop-color="#515151"/><stop offset="0.05936" stop-color="#646464"/><stop offset="0.06849" stop-color="#848484"/><stop offset="0.07763" stop-color="#a9a9a9"/><stop offset="0.08676" stop-color="#c7c7c7"/><stop offset="0.1005" stop-color="#d9d9d9"/><stop offset="0.137" stop-color="#dfdfdf"/><stop offset="0.3105" stop-color="#eeeeee"/><stop offset="0.3607" stop-color="#f1f1f1"/><stop offset="0.4749" stop-color="#f2f2f2"/><stop offset="0.6804" stop-color="#efefef"/><stop offset="0.863" stop-color="#e0e0e0"/><stop offset="0.8995" stop-color="#dadada"/><stop offset="0.9132" stop-color="#c8c8c8"/><stop offset="0.9224" stop-color="#acacac"/><stop offset="0.9315" stop-color="#8a8a8a"/><stop offset="0.9452" stop-color="#5d5d5d"/><stop offset="0.9589" stop-color="#1f1f1f"/><stop offset="0.968" stop-color="#000000"/><stop offset="1" stop-color="#000000"/></linearGradient><linearGradient id="h63"><stop offset="0" stop-color="#000000"/><stop offset="0.03653" stop-color="#000000"/><stop offset="0.0411" stop-color="#0f0f0f"/><stop offset="0.05936" stop-color="#636363"/><stop offset="0.06849" stop-color="#828282"/><stop offset="0.07763" stop-color="#a8a8a8"/><stop offset="0.08676" stop-color="#c5c5c5"/><stop offset="0.1005" stop-color="#d9d9d9"/><stop offset="0.137" stop-color="#dedede"/><stop offset="0.2237" stop-color="#e6e6e6"/><stop offset="0.3333" stop-color="#eeeeee"/><stop offset="0.4932" stop-color="#f1f1f1"/><stop offset="0.6804" stop-color="#efefef"/><stop offset="0.863" stop-color="#dfdfdf"/><stop offset="0.8995" stop-color="#dadada"/><stop offset="0.9132" stop-color="#c9c9c9"/><stop offset="0.9224" stop-color="#adadad"/><stop offset="0.9361" stop-color="#7b7b7b"/><stop offset="0.9452" stop-color="#5e5e5e"/><stop offset="0.9589" stop-color="#202020"/><stop offset="0.968" stop-color="#010101"/><stop offset="1" stop-color="#000000"/></linearGradient><linearGradient id="h64"><stop offset="0" stop-color="#000000"/><stop offset="0.03653" stop-color="#000000"/><stop offset="0.0411" stop-color="#0e0e0e"/><stop offset="0.05936" stop-color="#626262"/><stop offset="0.06849" stop-color="#818181"/><stop offset="0.07763" stop-color="#a6a6a6"/><stop offset="0.08676" stop-color="#c4c4c4"/><stop offset="0.1005" stop-color="#d8d8d8"/><stop offset="0.2192" stop-color="#e5e5e5"/><stop offset="0.3333" stop-color="#ededed"/><stop offset="0.4932" stop-color="#f0f0f0"/><stop offset="0.6804" stop-color="#eeeeee"/><stop offset="0.863" stop-color="#dfdfdf"/><stop offset="0.8995" stop-color="#dadada"/><stop offset="0.9132" stop-color="#c9c9c9"/><stop offset="0.9224" stop-color="#adadad"/><stop offset="0.9361" stop-color="#7c7c7c"/><stop offset="0.9452" stop-color="#5f5f5f"/><stop offset="0.9589" stop-color="#212121"/><stop offset="0.968" stop-color="#020202"/><stop offset="0.9726" stop-color="#000000"/><stop offset="1" stop-color="#000000"/></linearGradient><linearGradient id="h65"><stop offset="0" stop-color="#000000"/><stop offset="0.03653" stop-color="#000000"/><stop offset="0.0411" stop-color="#0c0c0c"/><stop offset="0.05936" stop-color="#606060"/><stop offset="0.06849" stop-color="#7f7f7f"/><stop offset="0.07763" stop-color="#a5a5a5"/><stop offset="0.08676" stop-color="#c2c2c2"/><stop offset="0.09132" stop-color="#cbcbcb"/><stop offset="0.1005" stop-color="#d7d7d7"/><stop offset="0.137" stop-color="#dddddd"/><stop offset="0.3242" stop-color="#ececec"/><stop offset="0.4932" stop-color="#efefef"/><stop offset="0.6804" stop-color="#ededed"/><stop offset="0.863" stop-color="#dedede"/><stop offset="0.8995" stop-color="#d9d9d9"/><stop offset="0.9132" stop-color="#c9c9c9"/><stop offset="0.9224" stop-color="#adadad"/><stop offset="0.9361" stop-color="#7c7c7c"/><stop offset="0.9452" stop-color="#5f5f5f"/><stop offset="0.9589" stop-color="#222222"/><stop offset="0.968" stop-color="#030303"/><stop offset="0.9726" stop-color="#000000"/><stop offset="1" stop-color="#000000"/></linearGradient><linearGradient id="h66"><stop offset="0" stop-color="#000000"/><stop offset="0.03653" stop-color="#000000"/><stop offset="0.0411" stop-color="#0a0a0a"/><stop offset="0.05936" stop-color="#5f5f5f"/><stop offset="0.06849" stop-color="#7d7d7d"/><stop offset="0.07763" stop-color="#a3a3a3"/><stop offset="0.08676" stop-color="#c0c0c0"/><stop offset="0.09132" stop-color="#cacaca"/><stop offset="0.1005" stop-color="#d6d6d6"/><stop offset="0.137" stop-color="#dcdcdc"/><stop offset="0.3014" stop-color="#eaeaea"/><stop offset="0.3607" stop-color="#ededed"/><stop offset="0.4932" stop-color="#eeeeee"/><stop offset="0.6804" stop-color="#ececec"/><stop offset="0.7717" stop-color="#e6e6e6"/><stop offset="0.8995" stop-color="#d9d9d9"/><stop offset="0.9132" stop-color="#c9c9c9"/><stop offset="0.9224" stop-color="#adadad"/><stop offset="0.9361" stop-color="#7c7c7c"/><stop offset="0.9452" stop-color="#606060"/><stop offset="0.9589" stop-color="#232323"/><stop offset="0.968" stop-color="#030303"/><stop offset="0.9726" stop-color="#000000"/><stop offset="1" stop-color="#000000"/></linearGradient><linearGradient id="h67"><stop offset="0" stop-color="#000000"/><stop offset="0.03653" stop-color="#000000"/><stop offset="0.0411" stop-color="#090909"/><stop offset="0.05936" stop-color="#5d5d5d"/><stop offset="0.06849" stop-color="#7c7c7c"/><stop offset="0.07763" stop-color="#a0a0a0"/><stop offset="0.08676" stop-color="#bebebe"/><stop offset="0.09132" stop-color="#c8c8c8"/><stop offset="0.1005" stop-color="#d4d4d4"/><stop offset="0.137" stop-color="#dbdbdb"/><stop offset="0.2831" stop-color="#e8e8e8"/><stop offset="0.3607" stop-color="#ececec"/><stop offset="0.4977" stop-color="#ededed"/><stop offset="0.6804" stop-color="#ececec"/><stop offset="0.7717" stop-color="#e5e5e5"/><stop offset="0.8995" stop-color="#d8d8d8"/><stop offset="0.9041" stop-color="#d4d4d4"/><stop offset="0.9132" stop-color="#c8c8c8"/><stop offset="0.9224" stop-color="#aeaeae"/><stop offset="0.9361" stop-color="#7d7d7d"/><stop offset="0.9452" stop-color="#606060"/><stop offset="0.9589" stop-color="#242424"/><stop offset="0.968" stop-color="#040404"/><stop offset="0.9726" stop-color="#000000"/><stop offset="1" stop-color="#000000"/></linearGradient><linearGradient id="h68"><stop offset="0" stop-color="#000000"/><stop offset="0.03653" stop-color="#000000"/><stop offset="0.0411" stop-color="#070707"/><stop offset="0.05936" stop-color="#5b5b5b"/><stop offset="0.06849" stop-color="#7a7a7a"/><stop offset="0.07763" stop-color="#9e9e9e"/><stop offset="0.08676" stop-color="#bcbcbc"/><stop offset="0.09132" stop-color="#c7c7c7"/><stop offset="0.1005" stop-color="#d3d3d3"/><stop offset="0.137" stop-color="#dadada"/><stop offset="0.2511" stop-color="#e5e5e5"/><stop offset="0.3607" stop-color="#ebebeb"/><stop offset="0.4977" stop-color="#ececec"/><stop offset="0.6804" stop-color="#ebebeb"/><stop offset="0.7717" stop-color="#e5e5e5"/><stop offset="0.8995" stop-color="#d7d7d7"/><stop offset="0.9041" stop-color="#d4d4d4"/><stop offset="0.9132" stop-color="#c8c8c8"/><stop offset="0.9224" stop-color="#aeaeae"/><stop offset="0.9361" stop-color="#7d7d7d"/><stop offset="0.9452" stop-color="#616161"/><stop offset="0.9589" stop-color="#252525"/><stop offset="0.968" stop-color="#050505"/><stop offset="0.9726" stop-color="#000000"/><stop offset="1" stop-color="#000000"/></linearGradient><linearGradient id="h69"><stop offset="0" stop-color="#000000"/><stop offset="0.03653" stop-color="#000000"/><stop offset="0.0411" stop-color="#050505"/><stop offset="0.05936" stop-color="#595959"/><stop offset="0.06849" stop-color="#787878"/><stop offset="0.08219" stop-color="#acacac"/><stop offset="0.09132" stop-color="#c6c6c6"/><stop offset="0.1005" stop-color="#d2d2d2"/><stop offset="0.105" stop-color="#d4d4d4"/><stop offset="0.2283" stop-color="#e2e2e2"/><stop offset="0.3379" stop-color="#e9e9e9"/><stop offset="0.4977" stop-color="#ebebeb"/><stop offset="0.6804" stop-color="#eaeaea"/><stop offset="0.7717" stop-color="#e4e4e4"/><stop offset="0.8995" stop-color="#d7d7d7"/><stop offset="0.9041" stop-color="#d4d4d4"/><stop offset="0.9132" stop-color="#c8c8c8"/><stop offset="0.9178" stop-color="#bcbcbc"/><stop offset="0.9269" stop-color="#9f9f9f"/><stop offset="0.9361" stop-color="#7e7e7e"/><stop offset="0.9452" stop-color="#616161"/><stop offset="0.9589" stop-color="#262626"/><stop offset="0.968" stop-color="#060606"/><stop offset="0.9726" stop-color="#000000"/><stop offset="1" stop-color="#000000"/></linearGradient><linearGradient id="h70"><stop offset="0" stop-color="#000000"/><stop offset="0.03653" stop-color="#000000"/><stop offset="0.0411" stop-color="#030303"/><stop offset="0.05936" stop-color="#565656"/><stop offset="0.08219" stop-color="#aaaaaa"/><stop offset="0.09132" stop-color="#c4c4c4"/><stop offset="0.1005" stop-color="#d0d0d0"/><stop offset="0.105" stop-color="#d3d3d3"/><stop offset="0.1963" stop-color="#dedede"/><stop offset="0.3288" stop-color="#e7e7e7"/><stop offset="0.4977" stop-color="#eaeaea"/><stop offset="0.6804" stop-color="#e9e9e9"/><stop offset="0.7717" stop-color="#e3e3e3"/><stop offset="0.8995" stop-color="#d6d6d6"/><stop offset="0.9041" stop-color="#d4d4d4"/><stop offset="0.9132" stop-color="#c8c8c8"/><stop offset="0.9178" stop-color="#bcbcbc"/><stop offset="0.9269" stop-color="#a0a0a0"/><stop offset="0.9361" stop-color="#7e7e7e"/><stop offset="0.9452" stop-color="#626262"/><stop offset="0.9589" stop-color="#272727"/><stop offset="0.968" stop-color="#060606"/><stop offset="0.9726" stop-color="#000000"/><stop offset="1" stop-color="#000000"/></linearGradient><linearGradient id="h71"><stop offset="0" stop-color="#000000"/><stop offset="0.0411" stop-color="#010101"/><stop offset="0.05936" stop-color="#545454"/><stop offset="0.07306" stop-color="#858585"/><stop offset="0.08219" stop-color="#a8a8a8"/><stop offset="0.09132" stop-color="#c3c3c3"/><stop offset="0.1005" stop-color="#cfcfcf"/><stop offset="0.105" stop-color="#d2d2d2"/><stop offset="0.1416" stop-color="#d8d8d8"/><stop offset="0.2466" stop-color="#e1e1e1"/><stop offset="0.3607" stop-color="#e8e8e8"/><stop offset="0.516" stop-color="#e9e9e9"/><stop offset="0.6804" stop-color="#e8e8e8"/><stop offset="0.7717" stop-color="#e2e2e2"/><stop offset="0.8995" stop-color="#d6d6d6"/><stop offset="0.9041" stop-color="#d3d3d3"/><stop offset="0.9132" stop-color="#c7c7c7"/><stop offset="0.9178" stop-color="#bdbdbd"/><stop offset="0.9269" stop-color="#a0a0a0"/><stop offset="0.9361" stop-color="#7e7e7e"/><stop offset="0.9452" stop-color="#626262"/><stop offset="0.9589" stop-color="#282828"/><stop offset="0.968" stop-color="#070707"/><stop offset="0.9726" stop-color="#000000"/><stop offset="1" stop-color="#000000"/></linearGradient><linearGradient id="h72"><stop offset="0" stop-color="#000000"/><stop offset="0.0411" stop-color="#000000"/><stop offset="0.05936" stop-color="#525252"/><stop offset="0.07306" stop-color="#828282"/><stop offset="0.08219" stop-color="#a6a6a6"/><stop offset="0.09132" stop-color="#c2c2c2"/><stop offset="0.105" stop-color="#d1d1d1"/><stop offset="0.1416" stop-color="#d7d7d7"/><stop offset="0.2466" stop-color="#e0e0e0"/><stop offset="0.3562" stop-color="#e7e7e7"/><stop offset="0.516" stop-color="#e8e8e8"/><stop offset="0.6804" stop-color="#e7e7e7"/><stop offset="0.8676" stop-color="#d9d9d9"/><stop offset="0.9041" stop-color="#d3d3d3"/><stop offset="0.9132" stop-color="#c7c7c7"/><stop offset="0.9178" stop-color="#bcbcbc"/><stop offset="0.9269" stop-color="#a0a0a0"/><stop offset="0.9361" stop-color="#7f7f7f"/><stop offset="0.9452" stop-color="#626262"/><stop offset="0.9498" stop-color="#515151"/><stop offset="0.9589" stop-color="#292929"/><stop offset="0.9635" stop-color="#171717"/><stop offset="0.968" stop-color="#080808"/><stop offset="0.9726" stop-color="#000000"/><stop offset="1" stop-color="#000000"/></linearGradient><linearGradient id="h73"><stop offset="0" stop-color="#000000"/><stop offset="0.0411" stop-color="#000000"/><stop offset="0.04566" stop-color="#111111"/><stop offset="0.05936" stop-color="#4f4f4f"/><stop offset="0.06393" stop-color="#616161"/><stop offset="0.07306" stop-color="#808080"/><stop offset="0.08219" stop-color="#a3a3a3"/><stop offset="0.09132" stop-color="#c0c0c0"/><stop offset="0.105" stop-color="#d0d0d0"/><stop offset="0.1416" stop-color="#d6d6d6"/><stop offset="0.2466" stop-color="#dfdfdf"/><stop offset="0.3607" stop-color="#e6e6e6"/><stop offset="0.5205" stop-color="#e7e7e7"/><stop offset="0.6804" stop-color="#e6e6e6"/><stop offset="0.8676" stop-color="#d9d9d9"/><stop offset="0.9041" stop-color="#d2d2d2"/><stop offset="0.9132" stop-color="#c6c6c6"/><stop offset="0.9178" stop-color="#bcbcbc"/><stop offset="0.9269" stop-color="#a0a0a0"/><stop offset="0.9361" stop-color="#7f7f7f"/><stop offset="0.9452" stop-color="#636363"/><stop offset="0.9498" stop-color="#525252"/><stop offset="0.9635" stop-color="#171717"/><stop offset="0.968" stop-color="#080808"/><stop offset="0.9726" stop-color="#000000"/><stop offset="1" stop-color="#000000"/></linearGradient><linearGradient id="h74"><stop offset="0" stop-color="#000000"/><stop offset="0.0411" stop-color="#000000"/><stop offset="0.04566" stop-color="#0f0f0f"/><stop offset="0.06393" stop-color="#5f5f5f"/><stop offset="0.07306" stop-color="#7d7d7d"/><stop offset="0.08219" stop-color="#a1a1a1"/><stop offset="0.09132" stop-color="#bdbdbd"/><stop offset="0.105" stop-color="#cfcfcf"/><stop offset="0.1416" stop-color="#d5d5d5"/><stop offset="0.2283" stop-color="#dcdcdc"/><stop offset="0.3516" stop-color="#e4e4e4"/><stop offset="0.5205" stop-color="#e6e6e6"/><stop offset="0.6804" stop-color="#e5e5e5"/><stop offset="0.8676" stop-color="#d8d8d8"/><stop offset="0.9041" stop-color="#d2d2d2"/><stop offset="0.9132" stop-color="#c6c6c6"/><stop offset="0.9178" stop-color="#bcbcbc"/><stop offset="0.9269" stop-color="#a1a1a1"/><stop offset="0.9361" stop-color="#7f7f7f"/><stop offset="0.9452" stop-color="#636363"/><stop offset="0.9498" stop-color="#525252"/><stop offset="0.9635" stop-color="#181818"/><stop offset="0.968" stop-color="#090909"/><stop offset="0.9726" stop-color="#000000"/><stop offset="1" stop-color="#000000"/></linearGradient><linearGradient id="h75"><stop offset="0" stop-color="#000000"/><stop offset="0.0411" stop-color="#000000"/><stop offset="0.04566" stop-color="#0c0c0c"/><stop offset="0.06393" stop-color="#5d5d5d"/><stop offset="0.07306" stop-color="#7a7a7a"/><stop offset="0.08219" stop-color="#9e9e9e"/><stop offset="0.09132" stop-color="#bababa"/><stop offset="0.09589" stop-color="#c3c3c3"/><stop offset="0.105" stop-color="#cecece"/><stop offset="0.2146" stop-color="#dadada"/><stop offset="0.3516" stop-color="#e3e3e3"/><stop offset="0.5251" stop-color="#e5e5e5"/><stop offset="0.6849" stop-color="#e4e4e4"/><stop offset="0.8676" stop-color="#d7d7d7"/><stop offset="0.9041" stop-color="#d1d1d1"/><stop offset="0.9132" stop-color="#c5c5c5"/><stop offset="0.9178" stop-color="#bcbcbc"/><stop offset="0.9269" stop-color="#a1a1a1"/><stop offset="0.9361" stop-color="#7f7f7f"/><stop offset="0.9452" stop-color="#636363"/><stop offset="0.9498" stop-color="#535353"/><stop offset="0.9635" stop-color="#181818"/><stop offset="0.968" stop-color="#0a0a0a"/><stop offset="0.9726" stop-color="#000000"/><stop offset="1" stop-color="#000000"/></linearGradient><linearGradient id="h76"><stop offset="0" stop-color="#000000"/><stop offset="0.0411" stop-color="#000000"/><stop offset="0.04566" stop-color="#0a0a0a"/><stop offset="0.06393" stop-color="#5a5a5a"/><stop offset="0.07306" stop-color="#787878"/><stop offset="0.08219" stop-color="#9b9b9b"/><stop offset="0.09132" stop-color="#b8b8b8"/><stop offset="0.09589" stop-color="#c1c1c1"/><stop offset="0.105" stop-color="#cccccc"/><stop offset="0.1461" stop-color="#d3d3d3"/><stop offset="0.3288" stop-color="#e1e1e1"/><stop offset="0.5297" stop-color="#e3e3e3"/><stop offset="0.6849" stop-color="#e3e3e3"/><stop offset="0.8676" stop-color="#d6d6d6"/><stop offset="0.9041" stop-color="#d1d1d1"/><stop offset="0.9132" stop-color="#c5c5c5"/><stop offset="0.9178" stop-color="#bcbcbc"/><stop offset="0.9269" stop-color="#a1a1a1"/><stop offset="0.9361" stop-color="#808080"/><stop offset="0.9498" stop-color="#545454"/><stop offset="0.9635" stop-color="#191919"/><stop offset="0.968" stop-color="#0b0b0b"/><stop offset="0.9726" stop-color="#000000"/><stop offset="1" stop-color="#000000"/></linearGradient><linearGradient id="h77"><stop offset="0" stop-color="#000000"/><stop offset="0.0411" stop-color="#000000"/><stop offset="0.04566" stop-color="#070707"/><stop offset="0.06393" stop-color="#575757"/><stop offset="0.07306" stop-color="#757575"/><stop offset="0.08219" stop-color="#989898"/><stop offset="0.08676" stop-color="#a7a7a7"/><stop offset="0.09132" stop-color="#b5b5b5"/><stop offset="0.09589" stop-color="#bfbfbf"/><stop offset="0.105" stop-color="#cbcbcb"/><stop offset="0.1096" stop-color="#cdcdcd"/><stop offset="0.1416" stop-color="#d2d2d2"/><stop offset="0.2511" stop-color="#dbdbdb"/><stop offset="0.3653" stop-color="#e1e1e1"/><stop offset="0.5342" stop-color="#e2e2e2"/><stop offset="0.6849" stop-color="#e2e2e2"/><stop offset="0.8676" stop-color="#d5d5d5"/><stop offset="0.9041" stop-color="#d0d0d0"/><stop offset="0.9132" stop-color="#c5c5c5"/><stop offset="0.9178" stop-color="#bcbcbc"/><stop offset="0.9269" stop-color="#a1a1a1"/><stop offset="0.9361" stop-color="#808080"/><stop offset="0.9498" stop-color="#545454"/><stop offset="0.9635" stop-color="#1a1a1a"/><stop offset="0.968" stop-color="#0b0b0b"/><stop offset="0.9726" stop-color="#000000"/><stop offset="1" stop-color="#000000"/></linearGradient><linearGradient id="h78"><stop offset="0" stop-color="#000000"/><stop offset="0.0411" stop-color="#000000"/><stop offset="0.04566" stop-color="#030303"/><stop offset="0.06393" stop-color="#545454"/><stop offset="0.08676" stop-color="#a4a4a4"/><stop offset="0.09589" stop-color="#bdbdbd"/><stop offset="0.105" stop-color="#c9c9c9"/><stop offset="0.1096" stop-color="#cccccc"/><stop offset="0.1461" stop-color="#d1d1d1"/><stop offset="0.2511" stop-color="#dadada"/><stop offset="0.3653" stop-color="#e0e0e0"/><stop offset="0.5479" stop-color="#e1e1e1"/><stop offset="0.6849" stop-color="#e1e1e1"/><stop offset="0.8676" stop-color="#d4d4d4"/><stop offset="0.9041" stop-color="#d0d0d0"/><stop offset="0.9178" stop-color="#bcbcbc"/><stop offset="0.9269" stop-color="#a1a1a1"/><stop offset="0.9361" stop-color="#808080"/><stop offset="0.9498" stop-color="#555555"/><stop offset="0.9635" stop-color="#1a1a1a"/><stop offset="0.9726" stop-color="#000000"/><stop offset="1" stop-color="#000000"/></linearGradient><linearGradient id="h79"><stop offset="0" stop-color="#000000"/><stop offset="0.04566" stop-color="#000000"/><stop offset="0.06393" stop-color="#505050"/><stop offset="0.07763" stop-color="#7f7f7f"/><stop offset="0.08676" stop-color="#a1a1a1"/><stop offset="0.09589" stop-color="#bbbbbb"/><stop offset="0.1096" stop-color="#cbcbcb"/><stop offset="0.1461" stop-color="#d0d0d0"/><stop offset="0.2511" stop-color="#d8d8d8"/><stop offset="0.3653" stop-color="#dfdfdf"/><stop offset="0.5525" stop-color="#e0e0e0"/><stop offset="0.6849" stop-color="#dfdfdf"/><stop offset="0.8676" stop-color="#d3d3d3"/><stop offset="0.9041" stop-color="#cfcfcf"/><stop offset="0.9178" stop-color="#bcbcbc"/><stop offset="0.9269" stop-color="#a1a1a1"/><stop offset="0.9361" stop-color="#818181"/><stop offset="0.9498" stop-color="#555555"/><stop offset="0.9635" stop-color="#1b1b1b"/><stop offset="0.9726" stop-color="#000000"/><stop offset="1" stop-color="#000000"/></linearGradient><linearGradient id="h80"><stop offset="0" stop-color="#000000"/><stop offset="0.04566" stop-color="#000000"/><stop offset="0.05023" stop-color="#101010"/><stop offset="0.06393" stop-color="#4b4b4b"/><stop offset="0.06849" stop-color="#5c5c5c"/><stop offset="0.07763" stop-color="#797979"/><stop offset="0.08676" stop-color="#9c9c9c"/><stop offset="0.09589" stop-color="#b7b7b7"/><stop offset="0.1096" stop-color="#c7c7c7"/><stop offset="0.1507" stop-color="#cfcfcf"/><stop offset="0.3425" stop-color="#dcdcdc"/><stop offset="0.5571" stop-color="#dfdfdf"/><stop offset="0.6849" stop-color="#dedede"/><stop offset="0.8676" stop-color="#d2d2d2"/><stop offset="0.9041" stop-color="#cecece"/><stop offset="0.9178" stop-color="#bcbcbc"/><stop offset="0.9269" stop-color="#a1a1a1"/><stop offset="0.9361" stop-color="#818181"/><stop offset="0.9498" stop-color="#565656"/><stop offset="0.9635" stop-color="#1c1c1c"/><stop offset="0.9726" stop-color="#000000"/><stop offset="1" stop-color="#000000"/></linearGradient><linearGradient id="h81"><stop offset="0" stop-color="#000000"/><stop offset="0.04566" stop-color="#000000"/><stop offset="0.05023" stop-color="#0b0b0b"/><stop offset="0.06849" stop-color="#585858"/><stop offset="0.07763" stop-color="#747474"/><stop offset="0.08676" stop-color="#969696"/><stop offset="0.09589" stop-color="#b1b1b1"/><stop offset="0.1096" stop-color="#c4c4c4"/><stop offset="0.1735" stop-color="#cfcfcf"/><stop offset="0.2557" stop-color="#d6d6d6"/><stop offset="0.3699" stop-color="#dddddd"/><stop offset="0.5616" stop-color="#dedede"/><stop offset="0.6849" stop-color="#dddddd"/><stop offset="0.8676" stop-color="#d1d1d1"/><stop offset="0.9041" stop-color="#cdcdcd"/><stop offset="0.9178" stop-color="#bcbcbc"/><stop offset="0.9269" stop-color="#a1a1a1"/><stop offset="0.9361" stop-color="#818181"/><stop offset="0.9498" stop-color="#575757"/><stop offset="0.9635" stop-color="#1d1d1d"/><stop offset="0.9726" stop-color="#000000"/><stop offset="1" stop-color="#000000"/></linearGradient><linearGradient id="h82"><stop offset="0" stop-color="#000000"/><stop offset="0.04566" stop-color="#000000"/><stop offset="0.05023" stop-color="#070707"/><stop offset="0.06849" stop-color="#535353"/><stop offset="0.07763" stop-color="#6f6f6f"/><stop offset="0.08676" stop-color="#909090"/><stop offset="0.09132" stop-color="#9e9e9e"/><stop offset="0.09589" stop-color="#ababab"/><stop offset="0.1005" stop-color="#b4b4b4"/><stop offset="0.1096" stop-color="#bfbfbf"/><stop offset="0.1142" stop-color="#c2c2c2"/><stop offset="0.1507" stop-color="#c8c8c8"/><stop offset="0.274" stop-color="#d6d6d6"/><stop offset="0.3699" stop-color="#dbdbdb"/><stop offset="0.5662" stop-color="#dcdcdc"/><stop offset="0.6849" stop-color="#dcdcdc"/><stop offset="0.8676" stop-color="#d0d0d0"/><stop offset="0.9041" stop-color="#cccccc"/><stop offset="0.9178" stop-color="#bbbbbb"/><stop offset="0.9269" stop-color="#a1a1a1"/><stop offset="0.9361" stop-color="#818181"/><stop offset="0.9498" stop-color="#575757"/><stop offset="0.9635" stop-color="#1d1d1d"/><stop offset="0.9726" stop-color="#000000"/><stop offset="1" stop-color="#000000"/></linearGradient><linearGradient id="h83"><stop offset="0" stop-color="#000000"/><stop offset="0.05023" stop-color="#020202"/><stop offset="0.06849" stop-color="#4d4d4d"/><stop offset="0.09132" stop-color="#989898"/><stop offset="0.1005" stop-color="#b0b0b0"/><stop offset="0.1142" stop-color="#bebebe"/><stop offset="0.1507" stop-color="#c5c5c5"/><stop offset="0.242" stop-color="#d0d0d0"/><stop offset="0.3699" stop-color="#dadada"/><stop offset="0.5753" stop-color="#dbdbdb"/><stop offset="0.6849" stop-color="#dbdbdb"/><stop offset="0.8676" stop-color="#d0d0d0"/><stop offset="0.9041" stop-color="#cbcbcb"/><stop offset="0.9178" stop-color="#bbbbbb"/><stop offset="0.9269" stop-color="#a1a1a1"/><stop offset="0.9406" stop-color="#737373"/><stop offset="0.9498" stop-color="#585858"/><stop offset="0.9635" stop-color="#1e1e1e"/><stop offset="0.9726" stop-color="#010101"/><stop offset="1" stop-color="#000000"/></linearGradient><linearGradient id="h84"><stop offset="0" stop-color="#000000"/><stop offset="0.05023" stop-color="#000000"/><stop offset="0.05479" stop-color="#0f0f0f"/><stop offset="0.07306" stop-color="#565656"/><stop offset="0.08219" stop-color="#717171"/><stop offset="0.09132" stop-color="#919191"/><stop offset="0.1005" stop-color="#ababab"/><stop offset="0.1142" stop-color="#bbbbbb"/><stop offset="0.1507" stop-color="#c2c2c2"/><stop offset="0.242" stop-color="#cccccc"/><stop offset="0.3699" stop-color="#d6d6d6"/><stop offset="0.5799" stop-color="#dadada"/><stop offset="0.6849" stop-color="#dadada"/><stop offset="0.8676" stop-color="#cfcfcf"/><stop offset="0.9041" stop-color="#cacaca"/><stop offset="0.9178" stop-color="#bbbbbb"/><stop offset="0.9269" stop-color="#a1a1a1"/><stop offset="0.9406" stop-color="#737373"/><stop offset="0.9498" stop-color="#585858"/><stop offset="0.9635" stop-color="#1f1f1f"/><stop offset="0.9726" stop-color="#020202"/><stop offset="1" stop-color="#000000"/></linearGradient><linearGradient id="h85"><stop offset="0" stop-color="#000000"/><stop offset="0.05023" stop-color="#000000"/><stop offset="0.05479" stop-color="#080808"/><stop offset="0.07306" stop-color="#4f4f4f"/><stop offset="0.08219" stop-color="#696969"/><stop offset="0.09132" stop-color="#888888"/><stop offset="0.1005" stop-color="#a1a1a1"/><stop offset="0.1142" stop-color="#b4b4b4"/><stop offset="0.1187" stop-color="#b6b6b6"/><stop offset="0.1507" stop-color="#bebebe"/><stop offset="0.21" stop-color="#c5c5c5"/><stop offset="0.3744" stop-color="#d3d3d3"/><stop offset="0.6804" stop-color="#d7d7d7"/><stop offset="0.7763" stop-color="#d3d3d3"/><stop offset="0.9041" stop-color="#c8c8c8"/><stop offset="0.9178" stop-color="#b9b9b9"/><stop offset="0.9269" stop-color="#a0a0a0"/><stop offset="0.9406" stop-color="#737373"/><stop offset="0.9498" stop-color="#585858"/><stop offset="0.9635" stop-color="#202020"/><stop offset="0.9726" stop-color="#020202"/><stop offset="0.9772" stop-color="#000000"/><stop offset="1" stop-color="#000000"/></linearGradient><linearGradient id="h86"><stop offset="0" stop-color="#000000"/><stop offset="0.05023" stop-color="#000000"/><stop offset="0.05479" stop-color="#020202"/><stop offset="0.07306" stop-color="#464646"/><stop offset="0.09589" stop-color="#8b8b8b"/><stop offset="0.105" stop-color="#a1a1a1"/><stop offset="0.1187" stop-color="#afafaf"/><stop offset="0.1963" stop-color="#c0c0c0"/><stop offset="0.3744" stop-color="#cfcfcf"/><stop offset="0.6804" stop-color="#d3d3d3"/><stop offset="0.7763" stop-color="#cfcfcf"/><stop offset="0.9041" stop-color="#c5c5c5"/><stop offset="0.9178" stop-color="#b7b7b7"/><stop offset="0.9269" stop-color="#9e9e9e"/><stop offset="0.9406" stop-color="#717171"/><stop offset="0.9498" stop-color="#575757"/><stop offset="0.9635" stop-color="#202020"/><stop offset="0.9726" stop-color="#030303"/><stop offset="0.9772" stop-color="#000000"/><stop offset="1" stop-color="#000000"/></linearGradient><linearGradient id="h87"><stop offset="0" stop-color="#000000"/><stop offset="0.05479" stop-color="#000000"/><stop offset="0.05936" stop-color="#0b0b0b"/><stop offset="0.07763" stop-color="#4c4c4c"/><stop offset="0.08676" stop-color="#646464"/><stop offset="0.09589" stop-color="#818181"/><stop offset="0.105" stop-color="#979797"/><stop offset="0.1187" stop-color="#a8a8a8"/><stop offset="0.1553" stop-color="#b2b2b2"/><stop offset="0.2374" stop-color="#c0c0c0"/><stop offset="0.3242" stop-color="#c8c8c8"/><stop offset="0.4292" stop-color="#cdcdcd"/><stop offset="0.6804" stop-color="#d0d0d0"/><stop offset="0.7763" stop-color="#cccccc"/><stop offset="0.9041" stop-color="#c2c2c2"/><stop offset="0.9178" stop-color="#b4b4b4"/><stop offset="0.9269" stop-color="#9c9c9c"/><stop offset="0.9406" stop-color="#707070"/><stop offset="0.9498" stop-color="#575757"/><stop offset="0.9635" stop-color="#202020"/><stop offset="0.9726" stop-color="#040404"/><stop offset="0.9772" stop-color="#000000"/><stop offset="1" stop-color="#000000"/></linearGradient><linearGradient id="h88"><stop offset="0" stop-color="#000000"/><stop offset="0.05479" stop-color="#000000"/><stop offset="0.05936" stop-color="#030303"/><stop offset="0.07763" stop-color="#424242"/><stop offset="0.1005" stop-color="#818181"/><stop offset="0.1096" stop-color="#959595"/><stop offset="0.1187" stop-color="#a0a0a0"/><stop offset="0.1233" stop-color="#a2a2a2"/><stop offset="0.1598" stop-color="#ababab"/><stop offset="0.2374" stop-color="#b8b8b8"/><stop offset="0.3653" stop-color="#c7c7c7"/><stop offset="0.6804" stop-color="#cccccc"/><stop offset="0.8676" stop-color="#c3c3c3"/><stop offset="0.9041" stop-color="#bfbfbf"/><stop offset="0.9087" stop-color="#bcbcbc"/><stop offset="0.9178" stop-color="#b1b1b1"/><stop offset="0.9269" stop-color="#9a9a9a"/><stop offset="0.9406" stop-color="#6f6f6f"/><stop offset="0.9498" stop-color="#565656"/><stop offset="0.9635" stop-color="#212121"/><stop offset="0.9726" stop-color="#040404"/><stop offset="0.9772" stop-color="#000000"/><stop offset="1" stop-color="#000000"/></linearGradient><linearGradient id="h89"><stop offset="0" stop-color="#000000"/><stop offset="0.05936" stop-color="#000000"/><stop offset="0.06393" stop-color="#0a0a0a"/><stop offset="0.08219" stop-color="#444444"/><stop offset="0.09132" stop-color="#5a5a5a"/><stop offset="0.1005" stop-color="#747474"/><stop offset="0.1096" stop-color="#8a8a8a"/><stop offset="0.1142" stop-color="#929292"/><stop offset="0.1233" stop-color="#9b9b9b"/><stop offset="0.1598" stop-color="#a4a4a4"/><stop offset="0.2466" stop-color="#b3b3b3"/><stop offset="0.3836" stop-color="#c2c2c2"/><stop offset="0.5388" stop-color="#c8c8c8"/><stop offset="0.6804" stop-color="#c9c9c9"/><stop offset="0.8721" stop-color="#bfbfbf"/><stop offset="0.9041" stop-color="#bbbbbb"/><stop offset="0.9087" stop-color="#b9b9b9"/><stop offset="0.9178" stop-color="#afafaf"/><stop offset="0.9269" stop-color="#989898"/><stop offset="0.9406" stop-color="#6e6e6e"/><stop offset="0.9498" stop-color="#555555"/><stop offset="0.9635" stop-color="#212121"/><stop offset="0.9726" stop-color="#050505"/><stop offset="0.9772" stop-color="#000000"/><stop offset="1" stop-color="#000000"/></linearGradient><linearGradient id="h90"><stop offset="0" stop-color="#000000"/><stop offset="0.06393" stop-color="#010101"/><stop offset="0.08219" stop-color="#353535"/><stop offset="0.1142" stop-color="#7e7e7e"/><stop offset="0.1279" stop-color="#8d8d8d"/><stop offset="0.1598" stop-color="#9d9d9d"/><stop offset="0.2694" stop-color="#afafaf"/><stop offset="0.3836" stop-color="#bababa"/><stop offset="0.516" stop-color="#c0c0c0"/><stop offset="0.6849" stop-color="#c3c3c3"/><stop offset="0.8721" stop-color="#bbbbbb"/><stop offset="0.9087" stop-color="#b5b5b5"/><stop offset="0.9178" stop-color="#ababab"/><stop offset="0.9269" stop-color="#959595"/><stop offset="0.9406" stop-color="#6c6c6c"/><stop offset="0.9498" stop-color="#545454"/><stop offset="0.9635" stop-color="#212121"/><stop offset="0.9726" stop-color="#050505"/><stop offset="0.9772" stop-color="#000000"/><stop offset="1" stop-color="#000000"/></linearGradient><linearGradient id="h91"><stop offset="0" stop-color="#000000"/><stop offset="0.06393" stop-color="#000000"/><stop offset="0.08219" stop-color="#2e2e2e"/><stop offset="0.1142" stop-color="#6d6d6d"/><stop offset="0.1279" stop-color="#7b7b7b"/><stop offset="0.1324" stop-color="#7d7d7d"/><stop offset="0.1644" stop-color="#8c8c8c"/><stop offset="0.2146" stop-color="#9f9f9f"/><stop offset="0.274" stop-color="#a8a8a8"/><stop offset="0.3881" stop-color="#b3b3b3"/><stop offset="0.6849" stop-color="#bcbcbc"/><stop offset="0.8721" stop-color="#b4b4b4"/><stop offset="0.9087" stop-color="#aeaeae"/><stop offset="0.9178" stop-color="#a5a5a5"/><stop offset="0.9224" stop-color="#9c9c9c"/><stop offset="0.9315" stop-color="#848484"/><stop offset="0.9406" stop-color="#686868"/><stop offset="0.9498" stop-color="#515151"/><stop offset="0.9635" stop-color="#212121"/><stop offset="0.9726" stop-color="#060606"/><stop offset="0.9772" stop-color="#000000"/><stop offset="1" stop-color="#000000"/></linearGradient><linearGradient id="h92"><stop offset="0" stop-color="#000000"/><stop offset="0.06393" stop-color="#000000"/><stop offset="0.08676" stop-color="#313131"/><stop offset="0.1142" stop-color="#626262"/><stop offset="0.1233" stop-color="#6a6a6a"/><stop offset="0.1279" stop-color="#6e6e6e"/><stop offset="0.2146" stop-color="#8c8c8c"/><stop offset="0.274" stop-color="#9e9e9e"/><stop offset="0.2968" stop-color="#a3a3a3"/><stop offset="0.3881" stop-color="#acacac"/><stop offset="0.6849" stop-color="#b4b4b4"/><stop offset="0.8721" stop-color="#adadad"/><stop offset="0.9087" stop-color="#a8a8a8"/><stop offset="0.9178" stop-color="#9f9f9f"/><stop offset="0.9224" stop-color="#969696"/><stop offset="0.9315" stop-color="#808080"/><stop offset="0.9406" stop-color="#656565"/><stop offset="0.9498" stop-color="#4f4f4f"/><stop offset="0.9635" stop-color="#202020"/><stop offset="0.9726" stop-color="#060606"/><stop offset="0.9772" stop-color="#000000"/><stop offset="1" stop-color="#000000"/></linearGradient><linearGradient id="h93"><stop offset="0" stop-color="#000000"/><stop offset="0.06393" stop-color="#000000"/><stop offset="0.08219" stop-color="#232323"/><stop offset="0.1142" stop-color="#575757"/><stop offset="0.1279" stop-color="#626262"/><stop offset="0.2831" stop-color="#8d8d8d"/><stop offset="0.3516" stop-color="#9c9c9c"/><stop offset="0.411" stop-color="#a6a6a6"/><stop offset="0.6849" stop-color="#adadad"/><stop offset="0.8721" stop-color="#a6a6a6"/><stop offset="0.9087" stop-color="#a2a2a2"/><stop offset="0.9178" stop-color="#999999"/><stop offset="0.9224" stop-color="#919191"/><stop offset="0.9315" stop-color="#7b7b7b"/><stop offset="0.9406" stop-color="#626262"/><stop offset="0.9498" stop-color="#4c4c4c"/><stop offset="0.968" stop-color="#121212"/><stop offset="0.9726" stop-color="#070707"/><stop offset="0.9772" stop-color="#000000"/><stop offset="1" stop-color="#000000"/></linearGradient><linearGradient id="h94"><stop offset="0" stop-color="#000000"/><stop offset="0.06393" stop-color="#000000"/><stop offset="0.08676" stop-color="#252525"/><stop offset="0.1142" stop-color="#4c4c4c"/><stop offset="0.1279" stop-color="#565656"/><stop offset="0.1918" stop-color="#686868"/><stop offset="0.2694" stop-color="#797979"/><stop offset="0.4201" stop-color="#939393"/><stop offset="0.5479" stop-color="#9f9f9f"/><stop offset="0.6849" stop-color="#a6a6a6"/><stop offset="0.8721" stop-color="#9f9f9f"/><stop offset="0.9087" stop-color="#9b9b9b"/><stop offset="0.9178" stop-color="#929292"/><stop offset="0.9224" stop-color="#8b8b8b"/><stop offset="0.9315" stop-color="#777777"/><stop offset="0.9406" stop-color="#5e5e5e"/><stop offset="0.9543" stop-color="#3d3d3d"/><stop offset="0.968" stop-color="#121212"/><stop offset="0.9726" stop-color="#070707"/><stop offset="0.9772" stop-color="#000000"/><stop offset="1" stop-color="#000000"/></linearGradient><linearGradient id="h95"><stop offset="0" stop-color="#000000"/><stop offset="0.06393" stop-color="#000000"/><stop offset="0.08676" stop-color="#202020"/><stop offset="0.1142" stop-color="#424242"/><stop offset="0.1279" stop-color="#4b4b4b"/><stop offset="0.242" stop-color="#676767"/><stop offset="0.3607" stop-color="#7a7a7a"/><stop offset="0.4932" stop-color="#878787"/><stop offset="0.6164" stop-color="#8f8f8f"/><stop offset="0.7215" stop-color="#939393"/><stop offset="0.8676" stop-color="#909090"/><stop offset="0.9087" stop-color="#8d8d8d"/><stop offset="0.9224" stop-color="#7f7f7f"/><stop offset="0.9315" stop-color="#6c6c6c"/><stop offset="0.9543" stop-color="#383838"/><stop offset="0.968" stop-color="#111111"/><stop offset="0.9726" stop-color="#070707"/><stop offset="0.9772" stop-color="#000000"/><stop offset="1" stop-color="#000000"/></linearGradient><linearGradient id="h96"><stop offset="0" stop-color="#000000"/><stop offset="0.06393" stop-color="#000000"/><stop offset="0.1142" stop-color="#383838"/><stop offset="0.1279" stop-color="#414141"/><stop offset="0.2283" stop-color="#585858"/><stop offset="0.3151" stop-color="#666666"/><stop offset="0.4064" stop-color="#727272"/><stop offset="0.5342" stop-color="#7a7a7a"/><stop offset="0.6895" stop-color="#7f7f7f"/><stop offset="0.9087" stop-color="#7a7a7a"/><stop offset="0.9224" stop-color="#6e6e6e"/><stop offset="0.9315" stop-color="#5f5f5f"/><stop offset="0.9543" stop-color="#313131"/><stop offset="0.968" stop-color="#0f0f0f"/><stop offset="0.9772" stop-color="#000000"/><stop offset="1" stop-color="#000000"/></linearGradient><linearGradient id="h97"><stop offset="0" stop-color="#000000"/><stop offset="0.06393" stop-color="#000000"/><stop offset="0.1142" stop-color="#2e2e2e"/><stop offset="0.1279" stop-color="#363636"/><stop offset="0.1826" stop-color="#444444"/><stop offset="0.2557" stop-color="#515151"/><stop offset="0.3699" stop-color="#616161"/><stop offset="0.4384" stop-color="#676767"/><stop offset="0.5525" stop-color="#6e6e6e"/><stop offset="0.6895" stop-color="#727272"/><stop offset="0.9087" stop-color="#6e6e6e"/><stop offset="0.9224" stop-color="#636363"/><stop offset="0.9315" stop-color="#555555"/><stop offset="0.9543" stop-color="#2d2d2d"/><stop offset="0.968" stop-color="#0e0e0e"/><stop offset="0.9772" stop-color="#000000"/><stop offset="1" stop-color="#000000"/></linearGradient><linearGradient id="h98"><stop offset="0" stop-color="#000000"/><stop offset="0.06393" stop-color="#000000"/><stop offset="0.1142" stop-color="#262626"/><stop offset="0.1279" stop-color="#2c2c2c"/><stop offset="0.1963" stop-color="#3c3c3c"/><stop offset="0.2785" stop-color="#4a4a4a"/><stop offset="0.3699" stop-color="#555555"/><stop offset="0.4429" stop-color="#5b5b5b"/><stop offset="0.5799" stop-color="#626262"/><stop offset="0.7078" stop-color="#656565"/><stop offset="0.9087" stop-color="#626262"/><stop offset="0.9224" stop-color="#595959"/><stop offset="0.9315" stop-color="#4c4c4c"/><stop offset="0.9543" stop-color="#282828"/><stop offset="0.968" stop-color="#0c0c0c"/><stop offset="0.9772" stop-color="#000000"/><stop offset="1" stop-color="#000000"/></linearGradient><linearGradient id="h99"><stop offset="0" stop-color="#000000"/><stop offset="0.06393" stop-color="#000000"/><stop offset="0.1142" stop-color="#222222"/><stop offset="0.1279" stop-color="#272727"/><stop offset="0.1735" stop-color="#2c2c2c"/><stop offset="0.3105" stop-color="#434343"/><stop offset="0.3881" stop-color="#4c4c4c"/><stop offset="0.4749" stop-color="#515151"/><stop offset="0.7078" stop-color="#595959"/><stop offset="0.9087" stop-color="#565656"/><stop offset="0.9224" stop-color="#4e4e4e"/><stop offset="0.9315" stop-color="#434343"/><stop offset="0.9543" stop-color="#242424"/><stop offset="0.968" stop-color="#0b0b0b"/><stop offset="0.9772" stop-color="#000000"/><stop offset="1" stop-color="#000000"/></linearGradient><linearGradient id="h100"><stop offset="0" stop-color="#000000"/><stop offset="0.06393" stop-color="#000000"/><stop offset="0.1142" stop-color="#1e1e1e"/><stop offset="0.1279" stop-color="#232323"/><stop offset="0.2329" stop-color="#2d2d2d"/><stop offset="0.3516" stop-color="#3d3d3d"/><stop offset="0.5251" stop-color="#494949"/><stop offset="0.7352" stop-color="#4e4e4e"/><stop offset="0.9087" stop-color="#4b4b4b"/><stop offset="0.9224" stop-color="#454545"/><stop offset="0.9315" stop-color="#3b3b3b"/><stop offset="0.9543" stop-color="#202020"/><stop offset="0.968" stop-color="#0a0a0a"/><stop offset="0.9772" stop-color="#000000"/><stop offset="1" stop-color="#000000"/></linearGradient><linearGradient id="h101"><stop offset="0" stop-color="#000000"/><stop offset="0.06393" stop-color="#000000"/><stop offset="0.1187" stop-color="#1c1c1c"/><stop offset="0.1781" stop-color="#242424"/><stop offset="0.4886" stop-color="#3c3c3c"/><stop offset="0.6484" stop-color="#424242"/><stop offset="0.7671" stop-color="#434343"/><stop offset="0.9087" stop-color="#414141"/><stop offset="0.9224" stop-color="#3b3b3b"/><stop offset="0.9315" stop-color="#333333"/><stop offset="0.9543" stop-color="#1c1c1c"/><stop offset="0.968" stop-color="#090909"/><stop offset="0.9772" stop-color="#000000"/><stop offset="1" stop-color="#000000"/></linearGradient><linearGradient id="h102"><stop offset="0" stop-color="#000000"/><stop offset="0.06393" stop-color="#000000"/><stop offset="0.1142" stop-color="#171717"/><stop offset="0.1279" stop-color="#1b1b1b"/><stop offset="0.2329" stop-color="#242424"/><stop offset="0.5753" stop-color="#343434"/><stop offset="0.7763" stop-color="#383838"/><stop offset="0.9087" stop-color="#363636"/><stop offset="0.9224" stop-color="#323232"/><stop offset="0.9315" stop-color="#2b2b2b"/><stop offset="0.9543" stop-color="#171717"/><stop offset="0.9772" stop-color="#000000"/><stop offset="1" stop-color="#000000"/></linearGradient><linearGradient id="h103"><stop offset="0" stop-color="#000000"/><stop offset="0.06849" stop-color="#010101"/><stop offset="0.1279" stop-color="#161616"/><stop offset="0.2557" stop-color="#212121"/><stop offset="0.4247" stop-color="#292929"/><stop offset="0.6895" stop-color="#2d2d2d"/><stop offset="0.9087" stop-color="#2c2c2c"/><stop offset="0.9224" stop-color="#292929"/><stop offset="0.9315" stop-color="#232323"/><stop offset="0.9772" stop-color="#000000"/><stop offset="1" stop-color="#000000"/></linearGradient><linearGradient id="h104"><stop offset="0" stop-color="#000000"/><stop offset="0.06849" stop-color="#000000"/><stop offset="0.1279" stop-color="#121212"/><stop offset="0.274" stop-color="#1e1e1e"/><stop offset="0.4384" stop-color="#252525"/><stop offset="0.6895" stop-color="#292929"/><stop offset="0.9087" stop-color="#272727"/><stop offset="0.9224" stop-color="#242424"/><stop offset="0.9315" stop-color="#1f1f1f"/><stop offset="0.9772" stop-color="#000000"/><stop offset="1" stop-color="#000000"/></linearGradient><linearGradient id="h105"><stop offset="0" stop-color="#000000"/><stop offset="0.06849" stop-color="#000000"/><stop offset="0.1324" stop-color="#0f0f0f"/><stop offset="0.2968" stop-color="#1b1b1b"/><stop offset="0.4612" stop-color="#212121"/><stop offset="0.7032" stop-color="#242424"/><stop offset="0.9087" stop-color="#232323"/><stop offset="0.9224" stop-color="#202020"/><stop offset="0.9315" stop-color="#1c1c1c"/><stop offset="0.9772" stop-color="#000000"/><stop offset="1" stop-color="#000000"/></linearGradient><linearGradient id="h106"><stop offset="0" stop-color="#000000"/><stop offset="0.06849" stop-color="#000000"/><stop offset="0.1187" stop-color="#090909"/><stop offset="0.1598" stop-color="#0d0d0d"/><stop offset="0.3379" stop-color="#191919"/><stop offset="0.5068" stop-color="#1e1e1e"/><stop offset="0.7306" stop-color="#202020"/><stop offset="0.9132" stop-color="#1e1e1e"/><stop offset="0.9315" stop-color="#191919"/><stop offset="0.9772" stop-color="#000000"/><stop offset="1" stop-color="#000000"/></linearGradient><linearGradient id="h107"><stop offset="0" stop-color="#000000"/><stop offset="0.06849" stop-color="#000000"/><stop offset="0.1324" stop-color="#080808"/><stop offset="0.3881" stop-color="#161616"/><stop offset="0.7626" stop-color="#1c1c1c"/><stop offset="0.9132" stop-color="#1a1a1a"/><stop offset="0.9315" stop-color="#161616"/><stop offset="0.9772" stop-color="#010101"/><stop offset="1" stop-color="#000000"/></linearGradient><linearGradient id="h108"><stop offset="0" stop-color="#000000"/><stop offset="0.06849" stop-color="#000000"/><stop offset="0.1689" stop-color="#070707"/><stop offset="0.4064" stop-color="#121212"/><stop offset="0.7808" stop-color="#171717"/><stop offset="0.9132" stop-color="#161616"/><stop offset="0.9315" stop-color="#121212"/><stop offset="0.9772" stop-color="#010101"/><stop offset="1" stop-color="#000000"/></linearGradient><linearGradient id="h109"><stop offset="0" stop-color="#000000"/><stop offset="0.105" stop-color="#010101"/><stop offset="0.2374" stop-color="#080808"/><stop offset="0.4521" stop-color="#0f0f0f"/><stop offset="0.7808" stop-color="#131313"/><stop offset="0.9132" stop-color="#121212"/><stop offset="0.9315" stop-color="#0f0f0f"/><stop offset="0.9772" stop-color="#000000"/><stop offset="1" stop-color="#000000"/></linearGradient><linearGradient id="h110"><stop offset="0" stop-color="#000000"/><stop offset="0.1324" stop-color="#000000"/><stop offset="0.4247" stop-color="#0b0b0b"/><stop offset="0.8174" stop-color="#0f0f0f"/><stop offset="0.9132" stop-color="#0e0e0e"/><stop offset="0.9772" stop-color="#000000"/><stop offset="1" stop-color="#000000"/></linearGradient><linearGradient id="h111"><stop offset="0" stop-color="#000000"/><stop offset="0.1826" stop-color="#000000"/><stop offset="0.4292" stop-color="#080808"/><stop offset="0.7945" stop-color="#0b0b0b"/><stop offset="0.9132" stop-color="#0a0a0a"/><stop offset="0.9772" stop-color="#000000"/><stop offset="1" stop-color="#000000"/></linearGradient><linearGradient id="h112"><stop offset="0" stop-color="#000000"/><stop offset="0.2466" stop-color="#000000"/><stop offset="0.5023" stop-color="#060606"/><stop offset="0.8584" stop-color="#080808"/><stop offset="0.9224" stop-color="#070707"/><stop offset="0.9772" stop-color="#000000"/><stop offset="1" stop-color="#000000"/></linearGradient><linearGradient id="h113"><stop offset="0" stop-color="#000000"/><stop offset="0.3379" stop-color="#000000"/><stop offset="0.8767" stop-color="#050505"/><stop offset="1" stop-color="#000000"/></linearGradient><linearGradient id="h114"><stop offset="0" stop-color="#000000"/><stop offset="0.9087" stop-color="#020202"/><stop offset="1" stop-color="#000000"/></linearGradient><linearGradient id="h115"><stop offset="0" stop-color="#000000"/><stop offset="0.9087" stop-color="#020202"/><stop offset="1" stop-color="#000000"/></linearGradient><linearGradient id="h116"><stop offset="0" stop-color="#000000"/><stop offset="0.9087" stop-color="#020202"/><stop offset="1" stop-color="#000000"/></linearGradient><linearGradient id="cb" x1="0" y1="0" x2="0" y2="1"><stop offset="0" stop-color="#800000"/><stop offset="0.03125" stop-color="#9f0000"/><stop offset="0.0625" stop-color="#bf0000"/><stop offset="0.09375" stop-color="#df0000"/><stop offset="0.125" stop-color="#ff0000"/><stop offset="0.1562" stop-color="#ff2000"/><stop offset="0.1875" stop-color="#ff4000"/><stop offset="0.2188" stop-color="#ff6000"/><stop offset="0.25" stop-color="#ff8000"/><stop offset="0.2812" stop-color="#ff9f00"/><stop offset="0.3125" stop-color="#ffbf00"/><stop offset="0.3438" stop-color="#ffdf00"/><stop offset="0.375" stop-color="#ffff00"/><stop offset="0.4062" stop-color="#dfff20"/><stop offset="0.4375" stop-color="#bfff40"/><stop offset="0.4688" stop-color="#9fff60"/><stop offset="0.5" stop-color="#80ff80"/><stop offset="0.5312" stop-color="#60ff9f"/><stop offset="0.5625" stop-color="#40ffbf"/><stop offset="0.5938" stop-color="#20ffdf"/><stop offset="0.625" stop-color="#00ffff"/><stop offset="0.6562" stop-color="#00eaf4"/><stop offset="0.6875" stop-color="#00d4ea"/><stop offset="0.7188" stop-color="#00bfdf"/><stop offset="0.75" stop-color="#00aad4"/><stop offset="0.7812" stop-color="#0095ca"/><stop offset="0.8125" stop-color="#0080bf"/><stop offset="0.8438" stop-color="#006ab5"/><stop offset="0.875" stop-color="#0055aa"/><stop offset="0.9062" stop-color="#00409f"/><stop offset="0.9375" stop-color="#002a95"/><stop offset="0.9688" stop-color="#00158a"/><stop offset="1" stop-color="#000080"/></linearGradient></defs><g clip-path="url(#hc)"><g filter="url(#jet)">
<rect x="25" y="9" width="223" height="237" fill="#000"/>
<rect x="27" y="21" width="219" height="2" fill="url(#h5)"/>
<rect x="27" y="23" width="219" height="2" fill="url(#h6)"/>
<rect x="27" y="25" width="219" height="2" fill="url(#h7)"/>
<rect x="27" y="27" width="219" height="2" fill="url(#h8)"/>
<rect x="27" y="29" width="219" height="2" fill="url(#h9)"/>
<rect x="27" y="31" width="219" height="2" fill="url(#h10)"/>
<rect x="27" y="33" width="219" height="2" fill="url(#h11)"/>
<rect x="27" y="35" width="219" height="2" fill="url(#h12)"/>
<rect x="27" y="37" width="219" height="2" fill="url(#h13)"/>
<rect x="27" y="39" width="219" height="2" fill="url(#h14)"/>
<rect x="27" y="41" width="219" height="2" fill="url(#h15)"/>
<rect x="27" y="43" width="219" height="2" fill="url(#h16)"/>
<rect x="27" y="45" width="219" height="2" fill="url(#h17)"/>
<rect x="27" y="47" width="219" height="2" fill="url(#h18)"/>
<rect x="27" y="49" width="219" height="2" fill="url(#h19)"/>
<rect x="27" y="51" width="219" height="2" fill="url(#h20)"/>
<rect x="27" y="53" width="219" height="2" fill="url(#h21)"/>
<rect x="27" y="55" width="219" height="2" fill="url(#h22)"/>
<rect x="27" y="57" width="219" height="2" fill="url(#h23)"/>
<rect x="27" y="59" width="219" height="2" fill="url(#h24)"/>
<rect x="27" y="61" width="219" height="2" fill="url(#h25)"/>
<rect x="27" y="63" width="219" height="2" fill="url(#h26)"/>
<rect x="27" y="65" width="219" height="2" fill="url(#h27)"/>
<rect x="27" y="67" width="219" height="2" fill="url(#h28)"/>
<rect x="27" y="69" width="219" height="2" fill="url(#h29)"/>
<rect x="27" y="71" width="219" height="2" fill="url(#h30)"/>
<rect x="27" y="73" width="219" height="2" fill="url(#h31)"/>
<rect x="27" y="75" width="219" height="2" fill="url(#h32)"/>
<rect x="27" y="77" width="219" height="2" fill="url(#h33)"/>
<rect x="27" y="79" width="219" height="2" fill="url(#h34)"/>
<rect x="27" y="81" width="219" height="2" fill="url(#h35)"/>
<rect x="27" y="83" width="219" height="2" fill="url(#h36)"/>
<rect x="27" y="85" width="219" height="2" fill="url(#h37)"/>
<rect x="27" y="87" width="219" height="2" fill="url(#h38)"/>
<rect x="27" y="89" width="219" height="2" fill="url(#h39)"/>
<rect x="27" y="91" width="219" height="2" fill="url(#h40)"/>
<rect x="27" y="93" width="219" height="2" fill="url(#h41)"/>
<rect x="27" y="95" width="219" height="2" fill="url(#h42)"/>
<rect x="27" y="97" width="219" height="2" fill="url(#h43)"/>
<rect x="27" y="99" width="219" height="2" fill="url(#h44)"/>
<rect x="27" y="101" width="219" height="2" fill="url(#h45)"/>
<rect x="27" y="103" width="219" height="2" fill="url(#h46)"/>
<rect x="27" y="105" width="219" height="2" fill="url(#h47)"/>
<rect x="27" y="107" width="219" height="2" fill="url(#h48)"/>
<rect x="27" y="109" width="219" height="2" fill="url(#h49)"/>
<rect x="27" y="111" width="219" height="2" fill="url(#h50)"/>
<rect x="27" y="113" width="219" height="2" fill="url(#h51)"/>
<rect x="27" y="115" width="219" height="2" fill="url(#h52)"/>
<rect x="27" y="117" width="219" height="2" fill="url(#h53)"/>
<rect x="27" y="119" width="219" height="2" fill="url(#h54)"/>
<rect x="27" y="121" width="219" height="2" fill="url(#h55)"/>
<rect x="27" y="123" width="219" height="2" fill="url(#h56)"/>
<rect x="27" y="125" width="219" height="2" fill="url(#h57)"/>
<rect x="27" y="127" width="219" height="2" fill="url(#h58)"/>
<rect x="27" y="129" width="219" height="2" fill="url(#h59)"/>
<rect x="27" y="131" width="219" height="2" fill="url(#h60)"/>
<rect x="27" y="133" width="219" height="2" fill="url(#h61)"/>
<rect x="27" y="135" width="219" height="2" fill="url(#h62)"/>
<rect x="27" y="137" width="219" height="2" fill="url(#h63)"/>
<rect x="27" y="139" width="219" height="2" fill="url(#h64)"/>
<rect x="27" y="141" width="219" height="2" fill="url(#h65)"/>
<rect x="27" y="143" width="219" height="2" fill="url(#h66)"/>
<rect x="27" y="145" width="219" height="2" fill="url(#h67)"/>
<rect x="27" y="147" width="219" height="2" fill="url(#h68)"/>
<rect x="27" y="149" width="219" height="2" fill="url(#h69)"/>
<rect x="27" y="151" width="219" height="2" fill="url(#h70)"/>
<rect x="27" y="153" width="219" height="2" fill="url(#h71)"/>
<rect x="27" y="155" width="219" height="2" fill="url(#h72)"/>
<rect x="27" y="157" width="219" height="2" fill="url(#h73)"/>
<rect x="27" y="159" width="219" height="2" fill="url(#h74)"/>
<rect x="27" y="161" width="219" height="2" fill="url(#h75)"/>
<rect x="27" y="163" width="219" height="2" fill="url(#h76)"/>
<rect x="27" y="165" width="219" height="2" fill="url(#h77)"/>
<rect x="27" y="167" width="219" height="2" fill="url(#h78)"/>
<rect x="27" y="169" width="219" height="2" fill="url(#h79)"/>
<rect x="27" y="171" width="219" height="2" fill="url(#h80)"/>
<rect x="27" y="173" width="219" height="2" fill="url(#h81)"/>
<rect x="27" y="175" width="219" height="2" fill="url(#h82)"/>
<rect x="27" y="177" width="219" height="2" fill="url(#h83)"/>
<rect x="27" y="179" width="219" height="2" fill="url(#h84)"/>
<rect x="27" y="181" width="219" height="2" fill="url(#h85)"/>
<rect x="27" y="183" width="219" height="2" fill="url(#h86)"/>
<rect x="27" y="185" width="219" height="2" fill="url(#h87)"/>
<rect x="27" y="187" width="219" height="2" fill="url(#h88)"/>
<rect x="27" y="189" width="219" height="2" fill="url(#h89)"/>
<rect x="27" y="191" width="219" height="2" fill="url(#h90)"/>
<rect x="27" y="193" width="219" height="2" fill="url(#h91)"/>
<rect x="27" y="195" width="219" height="2" fill="url(#h92)"/>
<rect x="27" y="197" width="219" height="2" fill="url(#h93)"/>
<rect x="27" y="199" width="219" height="2" fill="url(#h94)"/>
<rect x="27" y="201" width="219" height="2" fill="url(#h95)"/>
<rect x="27" y="203" width="219" height="2" fill="url(#h96)"/>
<rect x="27" y="205" width="219" height="2" fill="url(#h97)"/>
<rect x="27" y="207" width="219" height="2" fill="url(#h98)"/>
<rect x="27" y="209" width="219" height="2" fill="url(#h99)"/>
<rect x="27" y="211" width="219" height="2" fill="url(#h100)"/>
<rect x="27" y="213" width="219" height="2" fill="url(#h101)"/>
<rect x="27" y="215" width="219" height="2" fill="url(#h102)"/>
<rect x="27" y="217" width="219" height="2" fill="url(#h103)"/>
<rect x="27" y="219" width="219" height="2" fill="url(#h104)"/>
<rect x="27" y="221" width="219" height="2" fill="url(#h105)"/>
<rect x="27" y="223" width="219" height="2" fill="url(#h106)"/>
<rect x="27" y="225" width="219" height="2" fill="url(#h107)"/>
<rect x="27" y="227" width="219" height="2" fill="url(#h108)"/>
<rect x="27" y="229" width="219" height="2" fill="url(#h109)"/>
<rect x="27" y="231" width="219" height="2" fill="url(#h110)"/>
<rect x="27" y="233" width="219" height="2" fill="url(#h111)"/>
<rect x="27" y="235" width="219" height="2" fill="url(#h112)"/>
<rect x="27" y="237" width="219" height="2" fill="url(#h113)"/>
<rect x="27" y="239" width="219" height="2" fill="url(#h114)"/>
<rect x="27" y="241" width="219" height="2" fill="url(#h115)"/>
<rect x="27" y="243" width="219" height="2" fill="url(#h116)"/>
</g></g>
<path d="M30.7 15V240.3H242" stroke="#8a8a80" stroke-width="0.7" fill="none"/>
<g stroke="#444" stroke-width="0.8" fill="none">
<path d="M34.3 240.3v4.4M34.3 15v-4.4"/>
<path d="M59.8 240.3v4.4M59.8 15v-4.4"/>
<path d="M85.3 240.3v4.4M85.3 15v-4.4"/>
<path d="M110.8 240.3v4.4M110.8 15v-4.4"/>
<path d="M136.3 240.3v4.4M136.3 15v-4.4"/>
<path d="M161.8 240.3v4.4M161.8 15v-4.4"/>
<path d="M187.3 240.3v4.4M187.3 15v-4.4"/>
<path d="M212.8 240.3v4.4M212.8 15v-4.4"/>
<path d="M238.3 240.3v4.4M238.3 15v-4.4"/>
<path d="M30.7 217.8h-4.4M242 217.8h4.4"/>
<path d="M30.7 181.94h-4.4M242 181.94h4.4"/>
<path d="M30.7 146.08h-4.4M242 146.08h4.4"/>
<path d="M30.7 110.22h-4.4M242 110.22h4.4"/>
<path d="M30.7 74.36h-4.4M242 74.36h4.4"/>
<path d="M30.7 38.5h-4.4M242 38.5h4.4"/>
</g>
<text x="34.3" y="253.8" font-size="7.8" text-anchor="middle" fill="#333">0</text>
<text x="59.8" y="253.8" font-size="7.8" text-anchor="middle" fill="#333">20</text>
<text x="85.3" y="253.8" font-size="7.8" text-anchor="middle" fill="#333">40</text>
<text x="110.8" y="253.8" font-size="7.8" text-anchor="middle" fill="#333">60</text>
<text x="136.3" y="253.8" font-size="7.8" text-anchor="middle" fill="#333">80</text>
<text x="161.8" y="253.8" font-size="7.8" text-anchor="middle" fill="#333">100</text>
<text x="187.3" y="253.8" font-size="7.8" text-anchor="middle" fill="#333">120</text>
<text x="212.8" y="253.8" font-size="7.8" text-anchor="middle" fill="#333">140</text>
<text x="238.3" y="253.8" font-size="7.8" text-anchor="middle" fill="#333">160</text>
<text x="24.8" y="220.65" font-size="7.8" text-anchor="end" fill="#333">780</text>
<text x="24.8" y="184.79" font-size="7.8" text-anchor="end" fill="#333">785</text>
<text x="24.8" y="148.93" font-size="7.8" text-anchor="end" fill="#333">790</text>
<text x="24.8" y="113.07" font-size="7.8" text-anchor="end" fill="#333">795</text>
<text x="24.8" y="77.21" font-size="7.8" text-anchor="end" fill="#333">800</text>
<text x="24.8" y="41.35" font-size="7.8" text-anchor="end" fill="#333">805</text>
<text x="136.2" y="273" font-size="9.2" text-anchor="middle" fill="#333">Face width in mm</text>
<text x="7.2" y="127.4" font-size="9.2" text-anchor="middle" fill="#333" transform="rotate(-90 7.2 127.4)">Diameter coordinate in mm</text>
<rect x="644.1" y="0.3" width="10.9" height="274.9" fill="url(#cb)"/>
<text x="657.6" y="278.05" font-size="7.8" text-anchor="start" fill="#333">0</text>
<text x="657.6" y="228.873" font-size="7.8" text-anchor="start" fill="#333">200</text>
<text x="657.6" y="179.696" font-size="7.8" text-anchor="start" fill="#333">400</text>
<text x="657.6" y="130.519" font-size="7.8" text-anchor="start" fill="#333">600</text>
<text x="657.6" y="81.3416" font-size="7.8" text-anchor="start" fill="#333">800</text>
<text x="657.6" y="32.1645" font-size="7.8" text-anchor="start" fill="#333">1000</text>
<text x="682.6" y="137.3" font-size="9.45" text-anchor="middle" fill="#333" transform="rotate(-90 682.6 137.3)">Local pressure distribution in N / mm<tspan dy="-3.3" font-size="6.6">2</tspan></text>
<path d="M309.7 184.9L425.2 122.7M425.2 122.7L423.3 12.2M324.1 196.8L440.1 131.1M440.1 131.1L440.5 18.7M339.4 209.4L455.8 139.9M455.8 139.9L458.8 25.7M355.7 222.8L472.4 149.2M472.4 149.2L478.2 33.0M373.1 237.1L489.8 159.0M489.8 159.0L498.9 40.8M391.6 252.4L508.3 169.3M508.3 169.3L520.9 49.1M411.5 268.8L527.7 180.3M527.7 180.3L544.4 58.0M432.7 286.3L548.3 191.8M548.3 191.8L569.5 67.5M455.6 305.2L570.2 204.1M570.2 204.1L596.5 77.7M322.6 177.2L472.2 295.0M322.6 177.2L301.5 55.1M351.9 161.5L501.9 268.5M351.9 161.5L336.9 42.5M378.9 147.0L528.6 244.7M378.9 147.0L369.1 31.0M403.8 133.6L552.8 223.2M403.8 133.6L398.5 20.6M308.6 181.6L424.6 119.8M424.6 119.8L573.3 202.6M305.1 163.4L424.3 103.1M424.3 103.1L577.2 184.1M301.3 144.2L424.0 85.7M424.0 85.7L581.4 164.5M297.4 123.9L423.7 67.4M423.7 67.4L585.8 143.7M293.1 102.3L423.3 48.3M423.3 48.3L590.5 121.6M288.7 79.4L423.0 28.1M423.0 28.1L595.5 98.0" stroke="#d2d2d2" stroke-width="0.6" fill="none"/>
<path d="M424.7 122.4L422.7 12.0M309.2 184.5L424.7 122.4M424.7 122.4L572.7 205.5" stroke="#cfcfcf" stroke-width="0.6" fill="none"/>
<g fill="none" stroke-width="1.5" stroke-linecap="round" stroke-linejoin="round"><path d="M418.1 126.5L422.2 126.5" stroke="#008"/><path d="M413.9 128.8L418 128.8L426.2 128.8" stroke="#008"/><path d="M409.7 131.1L413.8 131.1L422 131.1L430.2 131.1" stroke="#008"/><path d="M405.4 133.4L409.5 133.4L417.8 133.4L426 133.4L434.3 133.4" stroke="#008"/><path d="M401 135.7L405.1 135.7" stroke="#008"/><path d="M405.1 135.7L413.3 130.7L421.8 135.8" stroke="#018"/><path d="M421.8 135.8L430.1 135.8L438.4 135.8" stroke="#008"/><path d="M396.6 138.1L400.7 138.1" stroke="#008"/><path d="M400.7 138.1L402.2 133.2" stroke="#018"/><path d="M402.2 133.2L403.7 128.3" stroke="#039"/><path d="M403.7 128.3L405.2 123.4" stroke="#05a"/><path d="M405.2 123.4L406.7 118.6" stroke="#07b"/><path d="M406.7 118.6L408.1 113.7L411.2 119.2" stroke="#09c"/><path d="M411.2 119.2L414.2 124.8" stroke="#07b"/><path d="M414.2 124.8L417.3 130.3" stroke="#05a"/><path d="M417.3 130.3L421.6 134.2" stroke="#039"/><path d="M421.6 134.2L425.9 138.2" stroke="#018"/><path d="M425.9 138.2L434.2 138.2L442.6 138.2" stroke="#008"/><path d="M392.1 140.5L396.3 140.6" stroke="#008"/><path d="M396.3 140.6L397 135.4" stroke="#018"/><path d="M397 135.4L397.7 130.3" stroke="#039"/><path d="M397.7 130.3L398.4 125.2" stroke="#05a"/><path d="M398.4 125.2L399.1 120" stroke="#07b"/><path d="M399.1 120L399.8 114.9" stroke="#09c"/><path d="M399.8 114.9L400.5 109.8" stroke="#0bd"/><path d="M400.5 109.8L401.2 104.7" stroke="#0ee"/><path d="M401.2 104.7L401.8 99.5" stroke="#1fe"/><path d="M401.8 99.5L402.5 94.4" stroke="#4fb"/><path d="M402.5 94.4L411.8 102.1" stroke="#3fc"/><path d="M411.8 102.1L413.4 107.2" stroke="#0ff"/><path d="M413.4 107.2L415 112.2" stroke="#0de"/><path d="M415 112.2L416.6 117.3" stroke="#0bd"/><path d="M416.6 117.3L418.2 122.4" stroke="#09c"/><path d="M418.2 122.4L419.8 127.5" stroke="#07b"/><path d="M419.8 127.5L421.4 132.6" stroke="#04a"/><path d="M421.4 132.6L425.7 136.6" stroke="#039"/><path d="M425.7 136.6L430 140.6" stroke="#018"/><path d="M430 140.6L438.4 140.6L446.9 140.6" stroke="#008"/><path d="M387.5 143L391.7 143" stroke="#008"/><path d="M391.7 143L392.2 138.1" stroke="#018"/><path d="M392.2 138.1L392.6 133.1" stroke="#039"/><path d="M392.6 133.1L393.1 128.2" stroke="#05a"/><path d="M393.1 128.2L393.5 123.3" stroke="#07b"/><path d="M393.5 123.3L394 118.3" stroke="#09c"/><path d="M394 118.3L394.4 113.4" stroke="#0bd"/><path d="M394.4 113.4L394.8 108.4" stroke="#0de"/><path d="M394.8 108.4L395.3 103.5" stroke="#0ff"/><path d="M395.3 103.5L395.7 98.6" stroke="#3fc"/><path d="M395.7 98.6L396.2 93.6" stroke="#5fa"/><path d="M396.2 93.6L396.6 88.7" stroke="#8f7"/><path d="M396.6 88.7L397.1 83.7" stroke="#bf4"/><path d="M397.1 83.7L399.9 78.9" stroke="#ef1"/><path d="M399.9 78.9L402.8 74" stroke="#fd0"/><path d="M402.8 74L405.7 69.1L407.4 74.8" stroke="#fb0"/><path d="M407.4 74.8L409.1 80.5" stroke="#fe0"/><path d="M409.1 80.5L410.9 86.3" stroke="#df2"/><path d="M410.9 86.3L412.6 92" stroke="#af5"/><path d="M412.6 92L414.3 97.7" stroke="#6f9"/><path d="M414.3 97.7L416.1 103.5" stroke="#3fc"/><path d="M416.1 103.5L418 108.3" stroke="#0ff"/><path d="M418 108.3L419.8 113.1" stroke="#0de"/><path d="M419.8 113.1L421.7 118" stroke="#0bd"/><path d="M421.7 118L423.6 122.8" stroke="#09c"/><path d="M423.6 122.8L425.5 127.7" stroke="#07b"/><path d="M425.5 127.7L428.4 132.2" stroke="#06a"/><path d="M428.4 132.2L431.3 136.8" stroke="#049"/><path d="M431.3 136.8L434.2 141.3" stroke="#028"/><path d="M434.2 141.3L442.7 143.1L451.2 143.1" stroke="#008"/><path d="M382.9 145.5L387.1 145.5" stroke="#008"/><path d="M387.1 145.5L387.5 140.4" stroke="#018"/><path d="M387.5 140.4L387.9 135.2" stroke="#039"/><path d="M387.9 135.2L388.4 130.1" stroke="#05a"/><path d="M388.4 130.1L388.8 124.9" stroke="#07b"/><path d="M388.8 124.9L389.2 119.8" stroke="#09c"/><path d="M389.2 119.8L389.6 114.7" stroke="#0bd"/><path d="M389.6 114.7L390 109.5" stroke="#0de"/><path d="M390 109.5L390.4 104.4" stroke="#0ff"/><path d="M390.4 104.4L390.8 99.3" stroke="#3fc"/><path d="M390.8 99.3L391.2 94.1" stroke="#6f9"/><path d="M391.2 94.1L391.6 89" stroke="#9f6"/><path d="M391.6 89L392 83.8" stroke="#cf3"/><path d="M392 83.8L393.3 78.1" stroke="#fe0"/><path d="M393.3 78.1L394.5 72.4" stroke="#fc0"/><path d="M394.5 72.4L395.8 66.7" stroke="#f90"/><path d="M395.8 66.7L397.1 60.9" stroke="#f60"/><path d="M397.1 60.9L398.4 55.2" stroke="#f30"/><path d="M398.4 55.2L399.7 49.5L403.1 56.1" stroke="#f00"/><path d="M403.1 56.1L406.6 62.6" stroke="#f30"/><path d="M406.6 62.6L410.1 69.2" stroke="#f60"/><path d="M410.1 69.2L412.1 74.9" stroke="#fa0"/><path d="M412.1 74.9L414.2 80.7" stroke="#fd0"/><path d="M414.2 80.7L416.2 86.4" stroke="#ef1"/><path d="M416.2 86.4L418.2 92.1" stroke="#bf4"/><path d="M418.2 92.1L420.3 97.9" stroke="#8f7"/><path d="M420.3 97.9L422.6 103.3" stroke="#5fa"/><path d="M422.6 103.3L424.9 108.7" stroke="#2fd"/><path d="M424.9 108.7L427.3 114.1" stroke="#0ee"/><path d="M427.3 114.1L429.6 119.6" stroke="#0cd"/><path d="M429.6 119.6L431.8 124.8" stroke="#0ac"/><path d="M431.8 124.8L434.1 130.1" stroke="#08b"/><path d="M434.1 130.1L436.3 135.3" stroke="#05a"/><path d="M436.3 135.3L438.5 140.6" stroke="#039"/><path d="M438.5 140.6L447 145.6" stroke="#018"/><path d="M447 145.6L455.6 145.6" stroke="#008"/><path d="M378.2 148L382.5 148" stroke="#008"/><path d="M382.5 148L382.9 143" stroke="#018"/><path d="M382.9 143L383.2 137.9" stroke="#039"/><path d="M383.2 137.9L383.6 132.9" stroke="#05a"/><path d="M383.6 132.9L384 127.8" stroke="#07b"/><path d="M384 127.8L384.4 122.7" stroke="#09c"/><path d="M384.4 122.7L384.8 117.7" stroke="#0bd"/><path d="M384.8 117.7L385.1 112.6" stroke="#0de"/><path d="M385.1 112.6L385.5 107.6" stroke="#0ff"/><path d="M385.5 107.6L385.9 102.5" stroke="#3fc"/><path d="M385.9 102.5L386.3 97.5" stroke="#6f9"/><path d="M386.3 97.5L386.6 92.4" stroke="#9f6"/><path d="M386.6 92.4L387 87.4" stroke="#cf3"/><path d="M387 87.4L388.1 81.7" stroke="#ff0"/><path d="M388.1 81.7L389.1 76.1" stroke="#fc0"/><path d="M389.1 76.1L390.1 70.5" stroke="#f90"/><path d="M390.1 70.5L391.2 64.8" stroke="#f60"/><path d="M391.2 64.8L392.2 59.2" stroke="#f40"/><path d="M392.2 59.2L393.2 53.5" stroke="#f10"/><path d="M393.2 53.5L394.2 47.9" stroke="#d00"/><path d="M394.2 47.9L404.1 48.5" stroke="#b00"/><path d="M404.1 48.5L407.6 54.7" stroke="#d00"/><path d="M407.6 54.7L411.1 60.8" stroke="#f10"/><path d="M411.1 60.8L414.5 67" stroke="#f40"/><path d="M414.5 67L417 72.3" stroke="#f70"/><path d="M417 72.3L419.5 77.6" stroke="#fa0"/><path d="M419.5 77.6L422 82.8" stroke="#fd0"/><path d="M422 82.8L424.5 88.1" stroke="#ef1"/><path d="M424.5 88.1L426.4 93.5" stroke="#bf4"/><path d="M426.4 93.5L428.3 98.9" stroke="#8f7"/><path d="M428.3 98.9L430.2 104.2" stroke="#5fa"/><path d="M430.2 104.2L432.1 109.6" stroke="#2fd"/><path d="M432.1 109.6L434 115" stroke="#0ff"/><path d="M434 115L435.8 120.2" stroke="#0ce"/><path d="M435.8 120.2L437.5 125.4" stroke="#0ad"/><path d="M437.5 125.4L439.3 130.6" stroke="#08c"/><path d="M439.3 130.6L441.1 135.8" stroke="#06b"/><path d="M441.1 135.8L442.8 141" stroke="#04a"/><path d="M442.8 141L447.1 144.5" stroke="#029"/><path d="M447.1 144.5L451.4 148.1" stroke="#018"/><path d="M451.4 148.1L460 148.1" stroke="#008"/><path d="M373.4 150.6L377.7 150.6" stroke="#008"/><path d="M377.7 150.6L378.1 145.6" stroke="#018"/><path d="M378.1 145.6L378.5 140.7" stroke="#039"/><path d="M378.5 140.7L378.8 135.7" stroke="#05a"/><path d="M378.8 135.7L379.2 130.7" stroke="#07b"/><path d="M379.2 130.7L379.5 125.7" stroke="#09c"/><path d="M379.5 125.7L379.9 120.8" stroke="#0bd"/><path d="M379.9 120.8L380.2 115.8" stroke="#0de"/><path d="M380.2 115.8L380.6 110.8" stroke="#0ff"/><path d="M380.6 110.8L380.9 105.8" stroke="#2fd"/><path d="M380.9 105.8L381.3 100.9" stroke="#5fa"/><path d="M381.3 100.9L381.7 95.9" stroke="#8f7"/><path d="M381.7 95.9L382 90.9" stroke="#bf4"/><path d="M382 90.9L383 85.4" stroke="#ef1"/><path d="M383 85.4L384 79.8" stroke="#fd0"/><path d="M384 79.8L385 74.3" stroke="#fa0"/><path d="M385 74.3L386 68.8" stroke="#f70"/><path d="M386 68.8L387 63.2" stroke="#f40"/><path d="M387 63.2L388.1 57.7" stroke="#f20"/><path d="M388.1 57.7L389.1 52.1" stroke="#e00"/><path d="M389.1 52.1L398.7 46.8" stroke="#b00"/><path d="M398.7 46.8L408.8 50" stroke="#a00"/><path d="M408.8 50L413.9 55.7" stroke="#d00"/><path d="M413.9 55.7L419 61.5" stroke="#f10"/><path d="M419 61.5L421.5 66.7" stroke="#f30"/><path d="M421.5 66.7L424 71.9" stroke="#f60"/><path d="M424 71.9L426.6 77.1" stroke="#f90"/><path d="M426.6 77.1L429.1 82.3" stroke="#fb0"/><path d="M429.1 82.3L430.6 87.4" stroke="#fe0"/><path d="M430.6 87.4L432.2 92.4" stroke="#df2"/><path d="M432.2 92.4L433.8 97.5" stroke="#af5"/><path d="M433.8 97.5L435.4 102.6" stroke="#8f7"/><path d="M435.4 102.6L437 107.7" stroke="#5fa"/><path d="M437 107.7L438.6 112.7" stroke="#2fd"/><path d="M438.6 112.7L440 117.4" stroke="#0ef"/><path d="M440 117.4L441.5 122.1" stroke="#0de"/><path d="M441.5 122.1L442.9 126.8" stroke="#0bd"/><path d="M442.9 126.8L444.4 131.5" stroke="#09c"/><path d="M444.4 131.5L445.8 136.2" stroke="#07b"/><path d="M445.8 136.2L447.3 140.9" stroke="#05a"/><path d="M447.3 140.9L451.6 145.8" stroke="#039"/><path d="M451.6 145.8L455.8 150.7" stroke="#018"/><path d="M455.8 150.7L464.5 150.7" stroke="#008"/><path d="M368.6 153.2L372.9 153.2" stroke="#008"/><path d="M372.9 153.2L373.3 147.9" stroke="#018"/><path d="M373.3 147.9L373.7 142.5" stroke="#039"/><path d="M373.7 142.5L374 137.2" stroke="#05a"/><path d="M374 137.2L374.4 131.9" stroke="#07b"/><path d="M374.4 131.9L374.8 126.5" stroke="#09c"/><path d="M374.8 126.5L375.1 121.2" stroke="#0bd"/><path d="M375.1 121.2L375.5 115.9" stroke="#0ee"/><path d="M375.5 115.9L375.8 110.5" stroke="#1fe"/><path d="M375.8 110.5L376.2 105.2" stroke="#4fb"/><path d="M376.2 105.2L376.6 99.9" stroke="#7f8"/><path d="M376.6 99.9L376.9 94.5" stroke="#af5"/><path d="M376.9 94.5L377.9 89.1" stroke="#df2"/><path d="M377.9 89.1L378.9 83.6" stroke="#fe0"/><path d="M378.9 83.6L379.9 78.2" stroke="#fb0"/><path d="M379.9 78.2L380.9 72.8" stroke="#f80"/><path d="M380.9 72.8L381.8 67.3" stroke="#f50"/><path d="M381.8 67.3L382.8 61.9" stroke="#f30"/><path d="M382.8 61.9L383.8 56.4" stroke="#f00"/><path d="M383.8 56.4L393.5 51.1" stroke="#c00"/><path d="M393.5 51.1L403.5 50.6" stroke="#b00"/><path d="M403.5 50.6L413.5 49.8" stroke="#a00"/><path d="M413.5 49.8L423.7 58.3" stroke="#c00"/><path d="M423.7 58.3L427.1 65.2" stroke="#f10"/><path d="M427.1 65.2L430.4 72.1" stroke="#f40"/><path d="M430.4 72.1L433.8 79" stroke="#f80"/><path d="M433.8 79L435.3 84.5" stroke="#fb0"/><path d="M435.3 84.5L436.9 90" stroke="#fe0"/><path d="M436.9 90L438.5 95.4" stroke="#df2"/><path d="M438.5 95.4L440.1 100.9" stroke="#af5"/><path d="M440.1 100.9L441.6 106.4" stroke="#7f8"/><path d="M441.6 106.4L443.2 111.9" stroke="#4fb"/><path d="M443.2 111.9L444.6 116.8" stroke="#1fe"/><path d="M444.6 116.8L446.1 121.8" stroke="#0ee"/><path d="M446.1 121.8L447.5 126.8" stroke="#0cd"/><path d="M447.5 126.8L449 131.7" stroke="#0ac"/><path d="M449 131.7L450.4 136.7" stroke="#08b"/><path d="M450.4 136.7L451.9 141.7" stroke="#06a"/><path d="M451.9 141.7L456.1 147.5" stroke="#049"/><path d="M456.1 147.5L460.3 153.3" stroke="#018"/><path d="M460.3 153.3L469.1 153.3" stroke="#008"/><path d="M363.7 155.8L368.1 155.8" stroke="#008"/><path d="M368.1 155.8L368.4 150.6" stroke="#018"/><path d="M368.4 150.6L368.7 145.4" stroke="#039"/><path d="M368.7 145.4L369.1 140.1" stroke="#05a"/><path d="M369.1 140.1L369.4 134.9" stroke="#07b"/><path d="M369.4 134.9L369.8 129.7" stroke="#09c"/><path d="M369.8 129.7L370.1 124.4" stroke="#0bd"/><path d="M370.1 124.4L370.4 119.2" stroke="#0de"/><path d="M370.4 119.2L370.8 113.9" stroke="#1fe"/><path d="M370.8 113.9L371.1 108.7" stroke="#4fb"/><path d="M371.1 108.7L371.4 103.5" stroke="#7f8"/><path d="M371.4 103.5L371.8 98.2" stroke="#af5"/><path d="M371.8 98.2L372.9 92" stroke="#df2"/><path d="M372.9 92L374 85.7" stroke="#fe0"/><path d="M374 85.7L375.1 79.5" stroke="#fb0"/><path d="M375.1 79.5L376.3 73.3" stroke="#f70"/><path d="M376.3 73.3L377.4 67" stroke="#f40"/><path d="M377.4 67L378.5 60.8" stroke="#f10"/><path d="M378.5 60.8L388.2 55.4" stroke="#d00"/><path d="M388.2 55.4L398.3 54.9" stroke="#c00"/><path d="M398.3 54.9L408.3 53.5" stroke="#b00"/><path d="M408.3 53.5L418.4 51.6" stroke="#a00"/><path d="M418.4 51.6L428.6 56.7" stroke="#b00"/><path d="M428.6 56.7L431.1 62.2" stroke="#e00"/><path d="M431.1 62.2L433.6 67.6" stroke="#f10"/><path d="M433.6 67.6L436.1 73.1" stroke="#f40"/><path d="M436.1 73.1L438.6 78.6" stroke="#f70"/><path d="M438.6 78.6L440.2 84.2" stroke="#fa0"/><path d="M440.2 84.2L441.7 89.7" stroke="#fd0"/><path d="M441.7 89.7L443.3 95.3" stroke="#ef1"/><path d="M443.3 95.3L444.8 100.9" stroke="#bf4"/><path d="M444.8 100.9L446.4 106.5" stroke="#8f7"/><path d="M446.4 106.5L448 112.1" stroke="#5fa"/><path d="M448 112.1L449.4 117.2" stroke="#2fd"/><path d="M449.4 117.2L450.8 122.4" stroke="#0ef"/><path d="M450.8 122.4L452.2 127.6" stroke="#0ce"/><path d="M452.2 127.6L453.6 132.7" stroke="#0ad"/><path d="M453.6 132.7L455 137.9" stroke="#08c"/><path d="M455 137.9L456.5 143.1" stroke="#06b"/><path d="M456.5 143.1L459.3 147.3" stroke="#04a"/><path d="M459.3 147.3L462.1 151.6" stroke="#039"/><path d="M462.1 151.6L464.9 155.9" stroke="#018"/><path d="M464.9 155.9L473.7 155.9" stroke="#008"/><path d="M358.7 158.5L363.1 158.5" stroke="#008"/><path d="M363.1 158.5L363.4 153.4" stroke="#018"/><path d="M363.4 153.4L363.8 148.2" stroke="#039"/><path d="M363.8 148.2L364.1 143.1" stroke="#05a"/><path d="M364.1 143.1L364.4 138" stroke="#07b"/><path d="M364.4 138L364.7 132.8" stroke="#09c"/><path d="M364.7 132.8L365 127.7" stroke="#0bd"/><path d="M365 127.7L365.3 122.6" stroke="#0de"/><path d="M365.3 122.6L365.6 117.4" stroke="#0ff"/><path d="M365.6 117.4L366 112.3" stroke="#3fc"/><path d="M366 112.3L366.3 107.1" stroke="#6f9"/><path d="M366.3 107.1L366.6 102" stroke="#9f6"/><path d="M366.6 102L367.7 95.9" stroke="#cf3"/><path d="M367.7 95.9L368.8 89.7" stroke="#ff0"/><path d="M368.8 89.7L369.9 83.6" stroke="#fc0"/><path d="M369.9 83.6L371 77.5" stroke="#f80"/><path d="M371 77.5L372 71.3" stroke="#f50"/><path d="M372 71.3L373.1 65.2" stroke="#f20"/><path d="M373.1 65.2L382.9 59.9" stroke="#e00"/><path d="M382.9 59.9L393 59.3" stroke="#d00"/><path d="M393 59.3L403.1 57.8" stroke="#c00"/><path d="M403.1 57.8L413.2 55.9" stroke="#b00"/><path d="M413.2 55.9L423.4 53.6" stroke="#a00"/><path d="M423.4 53.6L433.6 57.3" stroke="#b00"/><path d="M433.6 57.3L436.1 62.8" stroke="#d00"/><path d="M436.1 62.8L438.6 68.2" stroke="#f10"/><path d="M438.6 68.2L441.1 73.7" stroke="#f30"/><path d="M441.1 73.7L443.6 79.1" stroke="#f60"/><path d="M443.6 79.1L445.1 84.8" stroke="#f90"/><path d="M445.1 84.8L446.7 90.4" stroke="#fc0"/><path d="M446.7 90.4L448.2 96.1" stroke="#ff0"/><path d="M448.2 96.1L449.7 101.7" stroke="#cf3"/><path d="M449.7 101.7L451.3 107.4" stroke="#9f6"/><path d="M451.3 107.4L452.8 113.1" stroke="#6f9"/><path d="M452.8 113.1L454.2 118.4" stroke="#3fc"/><path d="M454.2 118.4L455.6 123.7" stroke="#0ff"/><path d="M455.6 123.7L457 129" stroke="#0de"/><path d="M457 129L458.4 134.3" stroke="#0bd"/><path d="M458.4 134.3L459.8 139.6" stroke="#09c"/><path d="M459.8 139.6L461.2 144.9" stroke="#07b"/><path d="M461.2 144.9L464 149.5" stroke="#05a"/><path d="M464 149.5L466.8 154" stroke="#039"/><path d="M466.8 154L469.5 158.6" stroke="#018"/><path d="M469.5 158.6L478.4 158.6" stroke="#008"/><path d="M353.6 161.2L358.1 161.2" stroke="#008"/><path d="M358.1 161.2L358.4 156.2" stroke="#018"/><path d="M358.4 156.2L358.7 151.2" stroke="#039"/><path d="M358.7 151.2L359 146.1" stroke="#05a"/><path d="M359 146.1L359.3 141.1" stroke="#07b"/><path d="M359.3 141.1L359.6 136.1" stroke="#09c"/><path d="M359.6 136.1L359.9 131.1" stroke="#0bd"/><path d="M359.9 131.1L360.2 126" stroke="#0de"/><path d="M360.2 126L360.4 121" stroke="#0ff"/><path d="M360.4 121L360.7 116" stroke="#2fd"/><path d="M360.7 116L361 110.9" stroke="#5fa"/><path d="M361 110.9L361.3 105.9" stroke="#8f7"/><path d="M361.3 105.9L362.4 99.9" stroke="#bf4"/><path d="M362.4 99.9L363.5 93.8" stroke="#ef1"/><path d="M363.5 93.8L364.5 87.8" stroke="#fc0"/><path d="M364.5 87.8L365.6 81.8" stroke="#f90"/><path d="M365.6 81.8L366.7 75.8" stroke="#f60"/><path d="M366.7 75.8L367.7 69.8" stroke="#f30"/><path d="M367.7 69.8L377.5 64.4" stroke="#f00"/><path d="M377.5 64.4L387.6 63.7" stroke="#e00"/><path d="M387.6 63.7L397.8 62.2" stroke="#d00"/><path d="M397.8 62.2L407.9 60.2" stroke="#c00"/><path d="M407.9 60.2L418.1 57.9" stroke="#b00"/><path d="M418.1 57.9L428.4 55.3L438.7 58.5" stroke="#a00"/><path d="M438.7 58.5L441.2 64" stroke="#c00"/><path d="M441.2 64L443.7 69.4" stroke="#f00"/><path d="M443.7 69.4L446.2 74.9" stroke="#f30"/><path d="M446.2 74.9L448.7 80.3" stroke="#f50"/><path d="M448.7 80.3L450.2 86" stroke="#f80"/><path d="M450.2 86L451.7 91.8" stroke="#fb0"/><path d="M451.7 91.8L453.2 97.5" stroke="#fe0"/><path d="M453.2 97.5L454.7 103.3" stroke="#df2"/><path d="M454.7 103.3L456.2 109" stroke="#af5"/><path d="M456.2 109L457.7 114.7" stroke="#7f8"/><path d="M457.7 114.7L459.1 120.1" stroke="#3fc"/><path d="M459.1 120.1L460.4 125.5" stroke="#0ff"/><path d="M460.4 125.5L461.8 131" stroke="#0de"/><path d="M461.8 131L463.2 136.4" stroke="#0bd"/><path d="M463.2 136.4L464.5 141.8" stroke="#09c"/><path d="M464.5 141.8L465.9 147.2" stroke="#07b"/><path d="M465.9 147.2L468.7 151.9" stroke="#05a"/><path d="M468.7 151.9L471.5 156.6" stroke="#039"/><path d="M471.5 156.6L474.3 161.3" stroke="#018"/><path d="M474.3 161.3L483.2 161.3" stroke="#008"/><path d="M348.5 164L353 164" stroke="#008"/><path d="M353 164L353.3 158.7" stroke="#018"/><path d="M353.3 158.7L353.6 153.4" stroke="#039"/><path d="M353.6 153.4L353.9 148.1" stroke="#05a"/><path d="M353.9 148.1L354.3 142.8" stroke="#07b"/><path d="M354.3 142.8L354.6 137.5" stroke="#09c"/><path d="M354.6 137.5L354.9 132.2" stroke="#0bd"/><path d="M354.9 132.2L355.2 126.8" stroke="#0de"/><path d="M355.2 126.8L355.5 121.5" stroke="#1fe"/><path d="M355.5 121.5L355.8 116.2" stroke="#4fb"/><path d="M355.8 116.2L356.1 110.9" stroke="#7f8"/><path d="M356.1 110.9L357.1 104.8" stroke="#af5"/><path d="M357.1 104.8L358.2 98.8" stroke="#df2"/><path d="M358.2 98.8L359.2 92.7" stroke="#fe0"/><path d="M359.2 92.7L360.2 86.6" stroke="#fb0"/><path d="M360.2 86.6L361.2 80.5" stroke="#f70"/><path d="M361.2 80.5L362.2 74.5" stroke="#f40"/><path d="M362.2 74.5L372 69" stroke="#f10"/><path d="M372 69L382.2 68.2" stroke="#f00"/><path d="M382.2 68.2L392.4 66.7" stroke="#e00"/><path d="M392.4 66.7L402.6 64.7" stroke="#d00"/><path d="M402.6 64.7L412.9 62.3" stroke="#c00"/><path d="M412.9 62.3L423.2 59.7" stroke="#b00"/><path d="M423.2 59.7L433.5 57L443.9 60.1" stroke="#a00"/><path d="M443.9 60.1L446.4 65.6" stroke="#c00"/><path d="M446.4 65.6L448.9 71.1" stroke="#f00"/><path d="M448.9 71.1L451.3 76.6" stroke="#f20"/><path d="M451.3 76.6L453.8 82.1" stroke="#f50"/><path d="M453.8 82.1L455.3 87.9" stroke="#f80"/><path d="M455.3 87.9L456.8 93.7" stroke="#fb0"/><path d="M456.8 93.7L458.3 99.5" stroke="#fe0"/><path d="M458.3 99.5L459.7 105.3" stroke="#df2"/><path d="M459.7 105.3L461.2 111.1" stroke="#af5"/><path d="M461.2 111.1L462.7 116.9" stroke="#7f8"/><path d="M462.7 116.9L464 122.4" stroke="#4fb"/><path d="M464 122.4L465.4 127.8" stroke="#1fe"/><path d="M465.4 127.8L466.7 133.3" stroke="#0de"/><path d="M466.7 133.3L468.1 138.7" stroke="#0bd"/><path d="M468.1 138.7L469.4 144.2" stroke="#09c"/><path d="M469.4 144.2L470.7 149.6" stroke="#07b"/><path d="M470.7 149.6L473.5 154.5" stroke="#05a"/><path d="M473.5 154.5L476.3 159.3" stroke="#039"/><path d="M476.3 159.3L479 164.1" stroke="#018"/><path d="M479 164.1L488 164.1" stroke="#008"/><path d="M343.3 166.8L347.8 166.8" stroke="#008"/><path d="M347.8 166.8L348.3 161.8" stroke="#018"/><path d="M348.3 161.8L348.7 156.8" stroke="#039"/><path d="M348.7 156.8L349.1 151.8" stroke="#05a"/><path d="M349.1 151.8L349.5 146.8" stroke="#07b"/><path d="M349.5 146.8L349.9 141.9" stroke="#09c"/><path d="M349.9 141.9L350.3 136.9" stroke="#0bd"/><path d="M350.3 136.9L350.7 131.9" stroke="#0de"/><path d="M350.7 131.9L351.1 126.9" stroke="#0ff"/><path d="M351.1 126.9L351.6 121.9" stroke="#2fd"/><path d="M351.6 121.9L352.3 116" stroke="#5fa"/><path d="M352.3 116L353.1 110.2" stroke="#8f7"/><path d="M353.1 110.2L353.8 104.3" stroke="#cf3"/><path d="M353.8 104.3L354.6 98.5" stroke="#ff0"/><path d="M354.6 98.5L355.4 92.6" stroke="#fc0"/><path d="M355.4 92.6L356.1 86.8" stroke="#f90"/><path d="M356.1 86.8L356.9 80.9" stroke="#f60"/><path d="M356.9 80.9L366.5 73.8" stroke="#f30"/><path d="M366.5 73.8L376.7 72.8" stroke="#f10"/><path d="M376.7 72.8L387 71.3" stroke="#f00"/><path d="M387 71.3L397.2 69.2" stroke="#e00"/><path d="M397.2 69.2L407.5 66.8" stroke="#d00"/><path d="M407.5 66.8L417.9 64.2" stroke="#c00"/><path d="M417.9 64.2L428.3 61.5" stroke="#b00"/><path d="M428.3 61.5L438.8 59L449.2 62.2" stroke="#a00"/><path d="M449.2 62.2L451.7 67.8" stroke="#c00"/><path d="M451.7 67.8L454.1 73.4" stroke="#f00"/><path d="M454.1 73.4L456.6 78.9" stroke="#f20"/><path d="M456.6 78.9L459 84.5" stroke="#f50"/><path d="M459 84.5L460.5 90.3" stroke="#f80"/><path d="M460.5 90.3L461.9 96.1" stroke="#fb0"/><path d="M461.9 96.1L463.4 101.9" stroke="#fe0"/><path d="M463.4 101.9L464.8 107.8" stroke="#df2"/><path d="M464.8 107.8L466.3 113.6" stroke="#af5"/><path d="M466.3 113.6L467.8 119.4" stroke="#7f8"/><path d="M467.8 119.4L469.1 124.9" stroke="#4fb"/><path d="M469.1 124.9L470.4 130.4" stroke="#1fe"/><path d="M470.4 130.4L471.7 135.8" stroke="#0de"/><path d="M471.7 135.8L473 141.3" stroke="#0bd"/><path d="M473 141.3L474.3 146.8" stroke="#09c"/><path d="M474.3 146.8L475.6 152.3" stroke="#07b"/><path d="M475.6 152.3L478.4 157.1" stroke="#05a"/><path d="M478.4 157.1L481.1 162" stroke="#039"/><path d="M481.1 162L483.9 166.9" stroke="#018"/><path d="M483.9 166.9L492.9 166.9" stroke="#008"/><path d="M338 169.7L342.6 169.7" stroke="#008"/><path d="M342.6 169.7L343.5 165" stroke="#018"/><path d="M343.5 165L344.5 160.4" stroke="#039"/><path d="M344.5 160.4L345.4 155.7" stroke="#05a"/><path d="M345.4 155.7L346.3 151.1" stroke="#06b"/><path d="M346.3 151.1L347.3 146.5" stroke="#08c"/><path d="M347.3 146.5L348.2 141.8" stroke="#0ad"/><path d="M348.2 141.8L348.7 136.1" stroke="#0ce"/><path d="M348.7 136.1L349.3 130.5" stroke="#0ef"/><path d="M349.3 130.5L349.8 124.8" stroke="#2fd"/><path d="M349.8 124.8L350.4 119.2" stroke="#5fa"/><path d="M350.4 119.2L350.9 113.5" stroke="#8f7"/><path d="M350.9 113.5L351.5 107.8" stroke="#bf4"/><path d="M351.5 107.8L352 102.2" stroke="#ef1"/><path d="M352 102.2L352.6 96.5" stroke="#fd0"/><path d="M352.6 96.5L355.4 90.9" stroke="#fa0"/><path d="M355.4 90.9L358.2 85.4" stroke="#f70"/><path d="M358.2 85.4L361 79.8" stroke="#f40"/><path d="M361 79.8L371.2 77.6" stroke="#f20"/><path d="M371.2 77.6L381.5 75.9L391.8 73.9" stroke="#f10"/><path d="M391.8 73.9L402.1 71.4" stroke="#e00"/><path d="M402.1 71.4L412.5 68.8" stroke="#d00"/><path d="M412.5 68.8L423 66" stroke="#c00"/><path d="M423 66L433.5 63.5" stroke="#b00"/><path d="M433.5 63.5L444.1 61.4L454.6 64.8" stroke="#a00"/><path d="M454.6 64.8L457 70.4" stroke="#c00"/><path d="M457 70.4L459.5 76" stroke="#f00"/><path d="M459.5 76L461.9 81.6" stroke="#f20"/><path d="M461.9 81.6L464.4 87.2" stroke="#f50"/><path d="M464.4 87.2L465.8 93" stroke="#f80"/><path d="M465.8 93L467.2 98.8" stroke="#fb0"/><path d="M467.2 98.8L468.6 104.6" stroke="#fe0"/><path d="M468.6 104.6L470 110.5" stroke="#df2"/><path d="M470 110.5L471.5 116.3" stroke="#af5"/><path d="M471.5 116.3L472.9 122.1" stroke="#7f8"/><path d="M472.9 122.1L474.2 127.6" stroke="#4fb"/><path d="M474.2 127.6L475.5 133.1" stroke="#1fe"/><path d="M475.5 133.1L476.7 138.6" stroke="#0de"/><path d="M476.7 138.6L478 144.1" stroke="#0bd"/><path d="M478 144.1L479.3 149.6" stroke="#09c"/><path d="M479.3 149.6L480.6 155.1" stroke="#07b"/><path d="M480.6 155.1L483.3 160" stroke="#05a"/><path d="M483.3 160L486.1 164.9" stroke="#039"/><path d="M486.1 164.9L488.8 169.7" stroke="#018"/><path d="M488.8 169.7L497.9 169.7" stroke="#008"/><path d="M332.7 172.5L337.3 172.5" stroke="#008"/><path d="M337.3 172.5L345.5 165.3" stroke="#018"/><path d="M345.5 165.3L346.1 160.4" stroke="#049"/><path d="M346.1 160.4L346.6 155.5" stroke="#06a"/><path d="M346.6 155.5L347.2 150.6" stroke="#08b"/><path d="M347.2 150.6L347.8 145.7" stroke="#0ac"/><path d="M347.8 145.7L348.3 140.8" stroke="#0bd"/><path d="M348.3 140.8L348.9 135.9" stroke="#0de"/><path d="M348.9 135.9L349.5 131" stroke="#0ff"/><path d="M349.5 131L350 126.1" stroke="#3fc"/><path d="M350 126.1L351.1 120.6" stroke="#6f9"/><path d="M351.1 120.6L352.1 115" stroke="#9f6"/><path d="M352.1 115L353.1 109.4" stroke="#cf3"/><path d="M353.1 109.4L354.2 103.8" stroke="#ff0"/><path d="M354.2 103.8L355.2 98.2" stroke="#fc0"/><path d="M355.2 98.2L356.2 92.6" stroke="#f90"/><path d="M356.2 92.6L361 87.8" stroke="#f70"/><path d="M361 87.8L365.7 83.1" stroke="#f50"/><path d="M365.7 83.1L375.9 80.8" stroke="#f30"/><path d="M375.9 80.8L386.3 78.6" stroke="#f20"/><path d="M386.3 78.6L396.6 76.1" stroke="#f10"/><path d="M396.6 76.1L407.1 73.5" stroke="#e00"/><path d="M407.1 73.5L417.6 70.7" stroke="#d00"/><path d="M417.6 70.7L428.1 68.1" stroke="#c00"/><path d="M428.1 68.1L438.8 65.9" stroke="#b00"/><path d="M438.8 65.9L449.5 64.1L460.1 67.8" stroke="#a00"/><path d="M460.1 67.8L462.5 73.3" stroke="#c00"/><path d="M462.5 73.3L464.9 78.9" stroke="#f00"/><path d="M464.9 78.9L467.3 84.5" stroke="#f30"/><path d="M467.3 84.5L469.7 90" stroke="#f50"/><path d="M469.7 90L471.1 95.9" stroke="#f80"/><path d="M471.1 95.9L472.5 101.8" stroke="#fb0"/><path d="M472.5 101.8L473.9 107.7" stroke="#fe0"/><path d="M473.9 107.7L475.3 113.5" stroke="#df2"/><path d="M475.3 113.5L476.7 119.4" stroke="#af5"/><path d="M476.7 119.4L478.1 125.3" stroke="#7f8"/><path d="M478.1 125.3L479.3 130.8" stroke="#4fb"/><path d="M479.3 130.8L480.6 136.4" stroke="#0ff"/><path d="M480.6 136.4L481.8 142" stroke="#0de"/><path d="M481.8 142L483.1 147.6" stroke="#0bd"/><path d="M483.1 147.6L484.3 153.1" stroke="#09c"/><path d="M484.3 153.1L485.6 158.7" stroke="#07b"/><path d="M485.6 158.7L488.3 163.3" stroke="#05a"/><path d="M488.3 163.3L491 168" stroke="#039"/><path d="M491 168L493.8 172.6" stroke="#018"/><path d="M493.8 172.6L503 172.6" stroke="#008"/><path d="M327.2 175.5L331.9 175.5L341.2 175.5" stroke="#008"/><path d="M341.2 175.5L343.6 170.8" stroke="#018"/><path d="M343.6 170.8L346.1 166.2" stroke="#039"/><path d="M346.1 166.2L348.6 161.5" stroke="#05a"/><path d="M348.6 161.5L349.2 156.2" stroke="#07b"/><path d="M349.2 156.2L349.7 150.8" stroke="#09c"/><path d="M349.7 150.8L350.3 145.5" stroke="#0bd"/><path d="M350.3 145.5L350.9 140.1" stroke="#0de"/><path d="M350.9 140.1L351.4 134.8" stroke="#0ff"/><path d="M351.4 134.8L352 129.4" stroke="#2fd"/><path d="M352 129.4L352.5 124.1" stroke="#5fa"/><path d="M352.5 124.1L353.1 118.7" stroke="#8f7"/><path d="M353.1 118.7L355 112.4" stroke="#cf3"/><path d="M355 112.4L356.8 106" stroke="#ff0"/><path d="M356.8 106L358.7 99.7" stroke="#fc0"/><path d="M358.7 99.7L360.6 93.3" stroke="#f90"/><path d="M360.6 93.3L370.4 86.2" stroke="#f50"/><path d="M370.4 86.2L380.7 83.5" stroke="#f30"/><path d="M380.7 83.5L391.1 80.9" stroke="#f20"/><path d="M391.1 80.9L401.6 78.3" stroke="#f00"/><path d="M401.6 78.3L412.1 75.5" stroke="#e00"/><path d="M412.1 75.5L422.8 72.8" stroke="#d00"/><path d="M422.8 72.8L433.4 70.5" stroke="#c00"/><path d="M433.4 70.5L444.2 68.7" stroke="#b00"/><path d="M444.2 68.7L455 67.2L465.6 70.8" stroke="#a00"/><path d="M465.6 70.8L468 76.5" stroke="#d00"/><path d="M468 76.5L470.4 82.2" stroke="#f00"/><path d="M470.4 82.2L472.8 87.9" stroke="#f30"/><path d="M472.8 87.9L475.2 93.6" stroke="#f60"/><path d="M475.2 93.6L476.6 99.1" stroke="#f90"/><path d="M476.6 99.1L478 104.6" stroke="#fb0"/><path d="M478 104.6L479.3 110.2" stroke="#fe0"/><path d="M479.3 110.2L480.7 115.7" stroke="#df2"/><path d="M480.7 115.7L482.1 121.2" stroke="#af5"/><path d="M482.1 121.2L483.5 126.7" stroke="#7f8"/><path d="M483.5 126.7L484.5 131.9" stroke="#4fb"/><path d="M484.5 131.9L485.5 137.1" stroke="#1fe"/><path d="M485.5 137.1L486.5 142.3" stroke="#0ee"/><path d="M486.5 142.3L487.5 147.4" stroke="#0cd"/><path d="M487.5 147.4L488.5 152.6" stroke="#0ad"/><path d="M488.5 152.6L489.6 157.8" stroke="#08c"/><path d="M489.6 157.8L490.6 162.9" stroke="#06b"/><path d="M490.6 162.9L493.3 167.1" stroke="#04a"/><path d="M493.3 167.1L496.1 171.3" stroke="#039"/><path d="M496.1 171.3L498.8 175.5" stroke="#018"/><path d="M498.8 175.5L508.1 175.5" stroke="#008"/><path d="M321.7 178.5L326.4 178.5L335.7 178.5L345.1 178.5" stroke="#008"/><path d="M345.1 178.5L346.4 173.6" stroke="#018"/><path d="M346.4 173.6L347.6 168.7" stroke="#039"/><path d="M347.6 168.7L348.9 163.9" stroke="#05a"/><path d="M348.9 163.9L350.2 159" stroke="#07b"/><path d="M350.2 159L351.4 154.1" stroke="#09c"/><path d="M351.4 154.1L352.2 148.7" stroke="#0bd"/><path d="M352.2 148.7L353 143.2" stroke="#0de"/><path d="M353 143.2L353.7 137.7" stroke="#0ff"/><path d="M353.7 137.7L354.5 132.2" stroke="#2fd"/><path d="M354.5 132.2L355.3 126.7" stroke="#5fa"/><path d="M355.3 126.7L356.1 121.3" stroke="#8f7"/><path d="M356.1 121.3L356.9 115.8" stroke="#bf4"/><path d="M356.9 115.8L359.6 109.2" stroke="#ff0"/><path d="M359.6 109.2L362.4 102.5" stroke="#fc0"/><path d="M362.4 102.5L365.2 95.9" stroke="#f90"/><path d="M365.2 95.9L375.1 89" stroke="#f50"/><path d="M375.1 89L385.5 85.9" stroke="#f30"/><path d="M385.5 85.9L396 83.1" stroke="#f20"/><path d="M396 83.1L406.6 80.4" stroke="#f00"/><path d="M406.6 80.4L417.3 77.7" stroke="#e00"/><path d="M417.3 77.7L428 75.3" stroke="#d00"/><path d="M428 75.3L438.8 73.4" stroke="#c00"/><path d="M438.8 73.4L449.7 71.8" stroke="#b00"/><path d="M449.7 71.8L460.6 70.4" stroke="#a00"/><path d="M460.6 70.4L471.2 74.7" stroke="#b00"/><path d="M471.2 74.7L474.4 81.8" stroke="#e00"/><path d="M474.4 81.8L477.6 88.9" stroke="#f20"/><path d="M477.6 88.9L480.8 96" stroke="#f50"/><path d="M480.8 96L482.4 102.2" stroke="#f90"/><path d="M482.4 102.2L484.1 108.4" stroke="#fc0"/><path d="M484.1 108.4L485.7 114.7" stroke="#ff0"/><path d="M485.7 114.7L487.4 120.9" stroke="#cf3"/><path d="M487.4 120.9L489 127.1" stroke="#9f6"/><path d="M489 127.1L489.9 132.2" stroke="#6f9"/><path d="M489.9 132.2L490.7 137.2" stroke="#3fc"/><path d="M490.7 137.2L491.5 142.2" stroke="#0ff"/><path d="M491.5 142.2L492.3 147.2" stroke="#0de"/><path d="M492.3 147.2L493.2 152.3" stroke="#0bd"/><path d="M493.2 152.3L494 157.3" stroke="#09c"/><path d="M494 157.3L494.8 162.3" stroke="#07b"/><path d="M494.8 162.3L495.6 167.3" stroke="#05a"/><path d="M495.6 167.3L499.8 172.9" stroke="#039"/><path d="M499.8 172.9L504 178.5" stroke="#018"/><path d="M504 178.5L513.3 178.5" stroke="#008"/><path d="M316 181.5L320.8 181.5L330.2 181.5L339.7 181.5L349.1 181.5" stroke="#008"/><path d="M349.1 181.5L350.1 176.2" stroke="#018"/><path d="M350.1 176.2L351 171" stroke="#039"/><path d="M351 171L351.9 165.7" stroke="#05a"/><path d="M351.9 165.7L352.9 160.5" stroke="#07b"/><path d="M352.9 160.5L353.8 155.2" stroke="#09c"/><path d="M353.8 155.2L354.8 150" stroke="#0bd"/><path d="M354.8 150L355.9 144.6" stroke="#0de"/><path d="M355.9 144.6L356.9 139.2" stroke="#0ff"/><path d="M356.9 139.2L358 133.9" stroke="#3fc"/><path d="M358 133.9L359.1 128.5" stroke="#6f9"/><path d="M359.1 128.5L360.2 123.1" stroke="#9f6"/><path d="M360.2 123.1L361.3 117.7" stroke="#cf3"/><path d="M361.3 117.7L364.1 111.4" stroke="#ff0"/><path d="M364.1 111.4L367 105" stroke="#fc0"/><path d="M367 105L369.9 98.7" stroke="#f90"/><path d="M369.9 98.7L379.9 91.5" stroke="#f50"/><path d="M379.9 91.5L390.4 88.2" stroke="#f30"/><path d="M390.4 88.2L401.1 85.3" stroke="#f10"/><path d="M401.1 85.3L411.8 82.7" stroke="#f00"/><path d="M411.8 82.7L422.6 80.3" stroke="#e00"/><path d="M422.6 80.3L433.4 78.3" stroke="#d00"/><path d="M433.4 78.3L444.3 76.6" stroke="#c00"/><path d="M444.3 76.6L455.3 75.1L466.2 74.4L476.9 78.2" stroke="#b00"/><path d="M476.9 78.2L480.1 84.7" stroke="#e00"/><path d="M480.1 84.7L483.3 91.1" stroke="#f20"/><path d="M483.3 91.1L486.5 97.5" stroke="#f50"/><path d="M486.5 97.5L488.2 103.5" stroke="#f80"/><path d="M488.2 103.5L489.8 109.5" stroke="#fb0"/><path d="M489.8 109.5L491.5 115.5" stroke="#fe0"/><path d="M491.5 115.5L493.1 121.5" stroke="#df2"/><path d="M493.1 121.5L494.7 127.5" stroke="#af5"/><path d="M494.7 127.5L495.5 133.1" stroke="#7f8"/><path d="M495.5 133.1L496.2 138.6" stroke="#4fb"/><path d="M496.2 138.6L497 144.2" stroke="#1fe"/><path d="M497 144.2L497.7 149.7" stroke="#0de"/><path d="M497.7 149.7L498.5 155.3" stroke="#0bd"/><path d="M498.5 155.3L499.2 160.8" stroke="#09c"/><path d="M499.2 160.8L500 166.4" stroke="#07b"/><path d="M500 166.4L500.7 171.9" stroke="#05a"/><path d="M500.7 171.9L505 176.7" stroke="#039"/><path d="M505 176.7L509.2 181.5" stroke="#018"/><path d="M509.2 181.5L518.6 181.5" stroke="#008"/><path d="M328.8 184.8L338.3 184.8L347.9 184.8" stroke="#008"/><path d="M347.9 184.8L350.5 180.6" stroke="#018"/><path d="M350.5 180.6L353.2 176.3" stroke="#039"/><path d="M353.2 176.3L355.8 172.1" stroke="#04a"/><path d="M355.8 172.1L356.9 166.5" stroke="#06b"/><path d="M356.9 166.5L357.9 161" stroke="#08c"/><path d="M357.9 161L358.9 155.4" stroke="#0ad"/><path d="M358.9 155.4L359.9 149.8" stroke="#0ce"/><path d="M359.9 149.8L360.9 144.3" stroke="#0ff"/><path d="M360.9 144.3L361.9 138.7" stroke="#2fd"/><path d="M361.9 138.7L363.5 133.2" stroke="#5fa"/><path d="M363.5 133.2L365 127.6" stroke="#8f7"/><path d="M365 127.6L366.5 122.1" stroke="#bf4"/><path d="M366.5 122.1L368 116.5" stroke="#ef1"/><path d="M368 116.5L369.5 111" stroke="#fd0"/><path d="M369.5 111L374.3 104" stroke="#fa0"/><path d="M374.3 104L379 97.1" stroke="#f70"/><path d="M379 97.1L389.5 92.4" stroke="#f40"/><path d="M389.5 92.4L400.2 89.5" stroke="#f20"/><path d="M400.2 89.5L411 86.9" stroke="#f10"/><path d="M411 86.9L421.9 84.7" stroke="#f00"/><path d="M421.9 84.7L432.8 82.8" stroke="#e00"/><path d="M432.8 82.8L443.8 81" stroke="#d00"/><path d="M443.8 81L454.8 79.9L465.9 79.1" stroke="#c00"/><path d="M465.9 79.1L476.9 78.2" stroke="#b00"/><path d="M476.9 78.2L487.3 87.8" stroke="#d00"/><path d="M487.3 87.8L489.6 93.3" stroke="#f20"/><path d="M489.6 93.3L491.9 98.9" stroke="#f40"/><path d="M491.9 98.9L494.1 104.4" stroke="#f70"/><path d="M494.1 104.4L496.4 110" stroke="#fa0"/><path d="M496.4 110L497.4 115.4" stroke="#fd0"/><path d="M497.4 115.4L498.4 120.8" stroke="#ff0"/><path d="M498.4 120.8L499.4 126.2" stroke="#cf3"/><path d="M499.4 126.2L500.4 131.6" stroke="#9f6"/><path d="M500.4 131.6L501.4 137.1" stroke="#6f9"/><path d="M501.4 137.1L502.4 142.5" stroke="#3fc"/><path d="M502.4 142.5L503.4 147.9" stroke="#0ff"/><path d="M503.4 147.9L504.2 152.9" stroke="#0de"/><path d="M504.2 152.9L505.1 158" stroke="#0bd"/><path d="M505.1 158L506 163" stroke="#09c"/><path d="M506 163L506.9 168" stroke="#08b"/><path d="M506.9 168L507.8 173" stroke="#06a"/><path d="M507.8 173L508.6 178.1" stroke="#049"/><path d="M508.6 178.1L509.5 183.1" stroke="#028"/><path d="M509.5 183.1L518.8 184.9L528.3 184.9" stroke="#008"/><path d="M332.7 188L342.3 188L351.9 188" stroke="#008"/><path d="M351.9 188L354.6 183.8" stroke="#018"/><path d="M354.6 183.8L357.3 179.5" stroke="#039"/><path d="M357.3 179.5L360 175.3" stroke="#04a"/><path d="M360 175.3L361.1 169.8" stroke="#06b"/><path d="M361.1 169.8L362.1 164.3" stroke="#08c"/><path d="M362.1 164.3L363.2 158.8" stroke="#0ad"/><path d="M363.2 158.8L364.3 153.3" stroke="#0ce"/><path d="M364.3 153.3L365.3 147.8" stroke="#0ef"/><path d="M365.3 147.8L366.4 142.3" stroke="#2fd"/><path d="M366.4 142.3L368 136.6" stroke="#5fa"/><path d="M368 136.6L369.5 131" stroke="#8f7"/><path d="M369.5 131L371.1 125.3" stroke="#bf4"/><path d="M371.1 125.3L372.7 119.7" stroke="#ef1"/><path d="M372.7 119.7L374.2 114.1" stroke="#fd0"/><path d="M374.2 114.1L379 106.9" stroke="#fa0"/><path d="M379 106.9L383.8 99.6" stroke="#f70"/><path d="M383.8 99.6L394.4 94.9" stroke="#f40"/><path d="M394.4 94.9L405.3 92.2" stroke="#f20"/><path d="M405.3 92.2L416.2 89.9" stroke="#f10"/><path d="M416.2 89.9L427.2 87.9" stroke="#f00"/><path d="M427.2 87.9L438.2 86.1" stroke="#e00"/><path d="M438.2 86.1L449.3 84.8L460.4 83.9" stroke="#d00"/><path d="M460.4 83.9L471.6 82.9L482.7 82.1" stroke="#c00"/><path d="M482.7 82.1L493.2 89.8" stroke="#d00"/><path d="M493.2 89.8L496.3 96.7" stroke="#f20"/><path d="M496.3 96.7L499.3 103.6" stroke="#f50"/><path d="M499.3 103.6L502.4 110.5" stroke="#f80"/><path d="M502.4 110.5L503.3 116.1" stroke="#fb0"/><path d="M503.3 116.1L504.3 121.8" stroke="#fe0"/><path d="M504.3 121.8L505.2 127.4" stroke="#df2"/><path d="M505.2 127.4L506.2 133.1" stroke="#af5"/><path d="M506.2 133.1L507.1 138.7" stroke="#7f8"/><path d="M507.1 138.7L508.1 144.4" stroke="#4fb"/><path d="M508.1 144.4L509 150" stroke="#1fe"/><path d="M509 150L509.8 155.3" stroke="#0ee"/><path d="M509.8 155.3L510.6 160.5" stroke="#0cd"/><path d="M510.6 160.5L511.5 165.8" stroke="#0ac"/><path d="M511.5 165.8L512.3 171" stroke="#08b"/><path d="M512.3 171L513.1 176.3" stroke="#06a"/><path d="M513.1 176.3L513.9 181.5" stroke="#049"/><path d="M513.9 181.5L514.8 186.8" stroke="#028"/><path d="M514.8 186.8L524.2 188L533.7 188" stroke="#008"/><path d="M336.6 191.2L346.3 191.2L355.9 191.2" stroke="#008"/><path d="M355.9 191.2L360.1 185.1" stroke="#018"/><path d="M360.1 185.1L364.3 178.9" stroke="#049"/><path d="M364.3 178.9L365.4 173.4" stroke="#06a"/><path d="M365.4 173.4L366.5 167.9" stroke="#08c"/><path d="M366.5 167.9L367.6 162.4" stroke="#0ad"/><path d="M367.6 162.4L368.7 156.9" stroke="#0ce"/><path d="M368.7 156.9L369.8 151.4" stroke="#0ef"/><path d="M369.8 151.4L370.9 145.8" stroke="#2fd"/><path d="M370.9 145.8L372.5 140.1" stroke="#5fa"/><path d="M372.5 140.1L374.1 134.4" stroke="#8f7"/><path d="M374.1 134.4L375.8 128.6" stroke="#bf4"/><path d="M375.8 128.6L377.4 122.9" stroke="#ef1"/><path d="M377.4 122.9L379 117.1" stroke="#fd0"/><path d="M379 117.1L383.9 109.7" stroke="#fa0"/><path d="M383.9 109.7L388.7 102.3" stroke="#f60"/><path d="M388.7 102.3L399.5 97.7" stroke="#f40"/><path d="M399.5 97.7L410.4 95.2" stroke="#f20"/><path d="M410.4 95.2L421.5 93.1" stroke="#f10"/><path d="M421.5 93.1L432.6 91.3" stroke="#f00"/><path d="M432.6 91.3L443.7 89.9L454.9 88.9" stroke="#e00"/><path d="M454.9 88.9L466.1 87.6L477.3 86.6" stroke="#d00"/><path d="M477.3 86.6L488.6 85.1" stroke="#c00"/><path d="M488.6 85.1L499.3 91.7" stroke="#d00"/><path d="M499.3 91.7L502.4 98.4" stroke="#f10"/><path d="M502.4 98.4L505.4 105" stroke="#f40"/><path d="M505.4 105L508.5 111.7" stroke="#f80"/><path d="M508.5 111.7L509.3 117.6" stroke="#fb0"/><path d="M509.3 117.6L510.2 123.5" stroke="#fe0"/><path d="M510.2 123.5L511.1 129.4" stroke="#df2"/><path d="M511.1 129.4L512 135.2" stroke="#af5"/><path d="M512 135.2L512.9 141.1" stroke="#7f8"/><path d="M512.9 141.1L513.8 147" stroke="#4fb"/><path d="M513.8 147L514.7 152.9" stroke="#1fe"/><path d="M514.7 152.9L515.4 158.4" stroke="#0ee"/><path d="M515.4 158.4L516.2 163.9" stroke="#0cd"/><path d="M516.2 163.9L516.9 169.3" stroke="#0ac"/><path d="M516.9 169.3L517.7 174.8" stroke="#07b"/><path d="M517.7 174.8L518.5 180.3" stroke="#05a"/><path d="M518.5 180.3L519.2 185.8" stroke="#039"/><path d="M519.2 185.8L520 191.3" stroke="#018"/><path d="M520 191.3L529.6 191.3L539.2 191.3" stroke="#008"/><path d="M340.6 194.5L350.3 194.5L360.1 194.5" stroke="#008"/><path d="M360.1 194.5L364.3 188.6" stroke="#018"/><path d="M364.3 188.6L368.6 182.7" stroke="#049"/><path d="M368.6 182.7L369.8 177.2" stroke="#06a"/><path d="M369.8 177.2L370.9 171.6" stroke="#08b"/><path d="M370.9 171.6L372.1 166.1" stroke="#0ac"/><path d="M372.1 166.1L373.2 160.6" stroke="#0cd"/><path d="M373.2 160.6L374.4 155" stroke="#0ef"/><path d="M374.4 155L375.5 149.5" stroke="#2fd"/><path d="M375.5 149.5L377.2 143.6" stroke="#5fa"/><path d="M377.2 143.6L378.8 137.8" stroke="#8f7"/><path d="M378.8 137.8L380.5 132" stroke="#bf4"/><path d="M380.5 132L382.1 126.1" stroke="#ef1"/><path d="M382.1 126.1L383.8 120.3" stroke="#fd0"/><path d="M383.8 120.3L388.8 112.7" stroke="#fa0"/><path d="M388.8 112.7L393.8 105.2" stroke="#f60"/><path d="M393.8 105.2L404.6 100.7" stroke="#f40"/><path d="M404.6 100.7L415.7 98.5" stroke="#f20"/><path d="M415.7 98.5L426.9 96.5" stroke="#f10"/><path d="M426.9 96.5L438.1 95.1L449.3 94" stroke="#f00"/><path d="M449.3 94L460.6 92.5" stroke="#e00"/><path d="M460.6 92.5L471.9 91.3L483.3 89.6" stroke="#d00"/><path d="M483.3 89.6L494.7 88" stroke="#c00"/><path d="M494.7 88L505.4 94.5" stroke="#d00"/><path d="M505.4 94.5L508.5 101.1" stroke="#f10"/><path d="M508.5 101.1L511.5 107.6" stroke="#f40"/><path d="M511.5 107.6L514.5 114.2" stroke="#f70"/><path d="M514.5 114.2L515.4 120.2" stroke="#fa0"/><path d="M515.4 120.2L516.2 126.2" stroke="#fd0"/><path d="M516.2 126.2L517 132.2" stroke="#df2"/><path d="M517 132.2L517.9 138.2" stroke="#af5"/><path d="M517.9 138.2L518.7 144.3" stroke="#7f8"/><path d="M518.7 144.3L519.5 150.3" stroke="#4fb"/><path d="M519.5 150.3L520.4 156.3" stroke="#1fe"/><path d="M520.4 156.3L521.1 161.8" stroke="#0ee"/><path d="M521.1 161.8L521.8 167.2" stroke="#0cd"/><path d="M521.8 167.2L522.5 172.7" stroke="#09c"/><path d="M522.5 172.7L523.3 178.1" stroke="#07b"/><path d="M523.3 178.1L524 183.6" stroke="#05a"/><path d="M524 183.6L524.7 189.1" stroke="#039"/><path d="M524.7 189.1L525.4 194.5" stroke="#018"/><path d="M525.4 194.5L535.1 194.5L544.8 194.5" stroke="#008"/><path d="M344.6 197.9L354.5 197.9L364.3 197.9" stroke="#008"/><path d="M364.3 197.9L368.6 192.2" stroke="#018"/><path d="M368.6 192.2L373 186.6" stroke="#039"/><path d="M373 186.6L374.2 181" stroke="#06a"/><path d="M374.2 181L375.4 175.4" stroke="#08b"/><path d="M375.4 175.4L376.6 169.8" stroke="#0ac"/><path d="M376.6 169.8L377.8 164.3" stroke="#0cd"/><path d="M377.8 164.3L379 158.7" stroke="#0ee"/><path d="M379 158.7L380.2 153.1" stroke="#1fe"/><path d="M380.2 153.1L381.9 147.2" stroke="#4fb"/><path d="M381.9 147.2L383.6 141.3" stroke="#7f8"/><path d="M383.6 141.3L385.3 135.4" stroke="#af5"/><path d="M385.3 135.4L387 129.5" stroke="#df2"/><path d="M387 129.5L388.7 123.5" stroke="#fe0"/><path d="M388.7 123.5L393.8 115.9" stroke="#fa0"/><path d="M393.8 115.9L398.9 108.3" stroke="#f70"/><path d="M398.9 108.3L409.9 104" stroke="#f40"/><path d="M409.9 104L421.1 101.9" stroke="#f20"/><path d="M421.1 101.9L432.3 100.3L443.7 99.1" stroke="#f10"/><path d="M443.7 99.1L455 97.4" stroke="#f00"/><path d="M455 97.4L466.4 96.1L477.8 94.1" stroke="#e00"/><path d="M477.8 94.1L489.3 92.4" stroke="#d00"/><path d="M489.3 92.4L500.8 91.7" stroke="#c00"/><path d="M500.8 91.7L511.5 98.8" stroke="#e00"/><path d="M511.5 98.8L514.6 104.9" stroke="#f20"/><path d="M514.6 104.9L517.6 111.1" stroke="#f50"/><path d="M517.6 111.1L520.7 117.3" stroke="#f70"/><path d="M520.7 117.3L521.4 123.4" stroke="#fa0"/><path d="M521.4 123.4L522.2 129.5" stroke="#fe0"/><path d="M522.2 129.5L523 135.7" stroke="#df2"/><path d="M523 135.7L523.8 141.8" stroke="#af5"/><path d="M523.8 141.8L524.5 147.9" stroke="#7f8"/><path d="M524.5 147.9L525.3 154.1" stroke="#4fb"/><path d="M525.3 154.1L526.1 160.2" stroke="#1fe"/><path d="M526.1 160.2L526.8 165.6" stroke="#0de"/><path d="M526.8 165.6L527.5 171" stroke="#0bd"/><path d="M527.5 171L528.2 176.3" stroke="#09c"/><path d="M528.2 176.3L528.9 181.7" stroke="#07b"/><path d="M528.9 181.7L529.6 187.1" stroke="#05a"/><path d="M529.6 187.1L530.3 192.5" stroke="#039"/><path d="M530.3 192.5L531 197.9" stroke="#018"/><path d="M531 197.9L540.8 197.9L550.5 197.9" stroke="#008"/><path d="M348.7 201.3L358.7 201.3L368.6 201.3" stroke="#008"/><path d="M368.6 201.3L373 195.9" stroke="#018"/><path d="M373 195.9L377.5 190.4" stroke="#039"/><path d="M377.5 190.4L378.7 184.9" stroke="#05a"/><path d="M378.7 184.9L380 179.3" stroke="#07b"/><path d="M380 179.3L381.2 173.7" stroke="#09c"/><path d="M381.2 173.7L382.5 168.1" stroke="#0cd"/><path d="M382.5 168.1L383.7 162.5" stroke="#0ee"/><path d="M383.7 162.5L385 156.9" stroke="#1fe"/><path d="M385 156.9L386.7 150.9" stroke="#4fb"/><path d="M386.7 150.9L388.5 144.9" stroke="#7f8"/><path d="M388.5 144.9L390.2 138.9" stroke="#af5"/><path d="M390.2 138.9L392 132.9" stroke="#df2"/><path d="M392 132.9L393.7 127" stroke="#fe0"/><path d="M393.7 127L398.9 119.3" stroke="#fa0"/><path d="M398.9 119.3L404.1 111.7" stroke="#f70"/><path d="M404.1 111.7L415.2 107.5" stroke="#f40"/><path d="M415.2 107.5L426.6 105.7" stroke="#f30"/><path d="M426.6 105.7L437.9 104.3" stroke="#f20"/><path d="M437.9 104.3L449.3 102.4" stroke="#f10"/><path d="M449.3 102.4L460.8 100.9" stroke="#f00"/><path d="M460.8 100.9L472.3 98.9L483.9 96.8" stroke="#e00"/><path d="M483.9 96.8L495.5 96L506.9 97" stroke="#d00"/><path d="M506.9 97L517.6 103.6" stroke="#f00"/><path d="M517.6 103.6L520.7 109.4" stroke="#f20"/><path d="M520.7 109.4L523.8 115.1" stroke="#f50"/><path d="M523.8 115.1L526.9 120.9" stroke="#f80"/><path d="M526.9 120.9L527.5 126.5" stroke="#fb0"/><path d="M527.5 126.5L528.1 132.2" stroke="#fd0"/><path d="M528.1 132.2L528.7 137.8" stroke="#ef1"/><path d="M528.7 137.8L529.3 143.5" stroke="#bf4"/><path d="M529.3 143.5L529.9 149.1" stroke="#8f7"/><path d="M529.9 149.1L530.5 154.7" stroke="#5fa"/><path d="M530.5 154.7L531.1 160.4" stroke="#2fd"/><path d="M531.1 160.4L531.7 166" stroke="#0ef"/><path d="M531.7 166L532.4 171" stroke="#0de"/><path d="M532.4 171L533.1 176.1" stroke="#0bd"/><path d="M533.1 176.1L533.8 181.1" stroke="#09c"/><path d="M533.8 181.1L534.5 186.1" stroke="#07b"/><path d="M534.5 186.1L535.2 191.2" stroke="#05a"/><path d="M535.2 191.2L535.9 196.2" stroke="#039"/><path d="M535.9 196.2L536.6 201.2" stroke="#018"/><path d="M536.6 201.2L546.5 201.2L556.3 201.2" stroke="#008"/><path d="M352.9 204.7L362.9 204.7L372.9 204.7" stroke="#008"/><path d="M372.9 204.7L377.5 199.6" stroke="#018"/><path d="M377.5 199.6L382 194.4" stroke="#039"/><path d="M382 194.4L383.3 188.8" stroke="#05a"/><path d="M383.3 188.8L384.6 183.1" stroke="#07b"/><path d="M384.6 183.1L385.9 177.5" stroke="#09c"/><path d="M385.9 177.5L387.2 171.9" stroke="#0bd"/><path d="M387.2 171.9L388.5 166.3" stroke="#0de"/><path d="M388.5 166.3L389.8 160.6" stroke="#1fe"/><path d="M389.8 160.6L391.6 154.6" stroke="#4fb"/><path d="M391.6 154.6L393.4 148.6" stroke="#7f8"/><path d="M393.4 148.6L395.2 142.6" stroke="#af5"/><path d="M395.2 142.6L397 136.5" stroke="#df2"/><path d="M397 136.5L398.8 130.5" stroke="#fe0"/><path d="M398.8 130.5L404.1 122.9" stroke="#fb0"/><path d="M404.1 122.9L409.4 115.2" stroke="#f70"/><path d="M409.4 115.2L420.7 111.3" stroke="#f40"/><path d="M420.7 111.3L432.1 109.7" stroke="#f30"/><path d="M432.1 109.7L443.6 107.5" stroke="#f20"/><path d="M443.6 107.5L455.1 105.8" stroke="#f10"/><path d="M455.1 105.8L466.7 103.7" stroke="#f00"/><path d="M466.7 103.7L478.4 101.5L490 100.4" stroke="#e00"/><path d="M490 100.4L501.6 101.1" stroke="#d00"/><path d="M501.6 101.1L513 102.8" stroke="#e00"/><path d="M513 102.8L523.8 109" stroke="#f10"/><path d="M523.8 109L526.8 115.2" stroke="#f40"/><path d="M526.8 115.2L529.7 121.5" stroke="#f70"/><path d="M529.7 121.5L532.7 127.8" stroke="#fa0"/><path d="M532.7 127.8L533.3 133.4" stroke="#fc0"/><path d="M533.3 133.4L533.8 139.1" stroke="#ff0"/><path d="M533.8 139.1L534.4 144.8" stroke="#cf3"/><path d="M534.4 144.8L534.9 150.4" stroke="#9f6"/><path d="M534.9 150.4L535.5 156.1" stroke="#6f9"/><path d="M535.5 156.1L536 161.7" stroke="#3fc"/><path d="M536 161.7L536.6 167.4" stroke="#0ff"/><path d="M536.6 167.4L537.1 173" stroke="#0de"/><path d="M537.1 173L538 178.3" stroke="#0bd"/><path d="M538 178.3L538.9 183.6" stroke="#09c"/><path d="M538.9 183.6L539.7 188.9" stroke="#07b"/><path d="M539.7 188.9L540.6 194.1" stroke="#05a"/><path d="M540.6 194.1L541.5 199.4" stroke="#039"/><path d="M541.5 199.4L542.3 204.7" stroke="#018"/><path d="M542.3 204.7L552.3 204.7L562.2 204.7" stroke="#008"/><path d="M357.2 208.2L367.3 208.2L377.3 208.2" stroke="#008"/><path d="M377.3 208.2L382 203.3" stroke="#018"/><path d="M382 203.3L386.6 198.4" stroke="#039"/><path d="M386.6 198.4L388 192.8" stroke="#05a"/><path d="M388 192.8L389.3 187.1" stroke="#07b"/><path d="M389.3 187.1L390.7 181.4" stroke="#09c"/><path d="M390.7 181.4L392 175.8" stroke="#0bd"/><path d="M392 175.8L393.4 170.1" stroke="#0de"/><path d="M393.4 170.1L394.7 164.5" stroke="#1fe"/><path d="M394.7 164.5L396.6 158.4" stroke="#4fb"/><path d="M396.6 158.4L398.4 152.3" stroke="#7f8"/><path d="M398.4 152.3L400.3 146.3" stroke="#af5"/><path d="M400.3 146.3L402.2 140.2" stroke="#df2"/><path d="M402.2 140.2L404 134.1" stroke="#fe0"/><path d="M404 134.1L409.4 126.6" stroke="#fb0"/><path d="M409.4 126.6L414.8 119" stroke="#f70"/><path d="M414.8 119L426.2 115.3" stroke="#f50"/><path d="M426.2 115.3L437.8 112.8" stroke="#f30"/><path d="M437.8 112.8L449.4 110.7" stroke="#f20"/><path d="M449.4 110.7L461 108.5" stroke="#f10"/><path d="M461 108.5L472.8 106.3" stroke="#f00"/><path d="M472.8 106.3L484.5 105L496.2 105.4L507.7 106.9" stroke="#e00"/><path d="M507.7 106.9L519.1 109" stroke="#f00"/><path d="M519.1 109L529.7 116.9" stroke="#f30"/><path d="M529.7 116.9L532.6 123.6" stroke="#f60"/><path d="M532.6 123.6L535.4 130.3" stroke="#f90"/><path d="M535.4 130.3L538.3 137" stroke="#fc0"/><path d="M538.3 137L538.3 142.6" stroke="#ff0"/><path d="M538.3 142.6L538.4 148.3" stroke="#cf3"/><path d="M538.4 148.3L538.4 154" stroke="#8f7"/><path d="M538.4 154L538.4 159.7" stroke="#5fa"/><path d="M538.4 159.7L538.5 165.3" stroke="#2fd"/><path d="M538.5 165.3L538.5 171" stroke="#0ff"/><path d="M538.5 171L538.5 176.7" stroke="#0ce"/><path d="M538.5 176.7L538.5 182.3" stroke="#0ad"/><path d="M538.5 182.3L538.6 188" stroke="#08c"/><path d="M538.6 188L538.6 193.7" stroke="#06b"/><path d="M538.6 193.7L538.6 199.3" stroke="#04a"/><path d="M538.6 199.3L538.7 205" stroke="#029"/><path d="M538.7 205L548.2 208.2" stroke="#018"/><path d="M548.2 208.2L558.2 208.2" stroke="#008"/><path d="M361.5 211.8L371.7 211.8L381.8 211.8" stroke="#008"/><path d="M381.8 211.8L386.6 207.1" stroke="#018"/><path d="M386.6 207.1L391.3 202.5" stroke="#039"/><path d="M391.3 202.5L392.7 196.8" stroke="#05a"/><path d="M392.7 196.8L394.1 191.1" stroke="#07b"/><path d="M394.1 191.1L395.5 185.4" stroke="#09c"/><path d="M395.5 185.4L396.9 179.8" stroke="#0bd"/><path d="M396.9 179.8L398.3 174.1" stroke="#0de"/><path d="M398.3 174.1L399.7 168.4" stroke="#0ff"/><path d="M399.7 168.4L401.6 162.3" stroke="#3fc"/><path d="M401.6 162.3L403.6 156.2" stroke="#6f9"/><path d="M403.6 156.2L405.5 150.1" stroke="#af5"/><path d="M405.5 150.1L407.4 144" stroke="#df2"/><path d="M407.4 144L409.3 137.9" stroke="#fe0"/><path d="M409.3 137.9L414.8 130.4" stroke="#fb0"/><path d="M414.8 130.4L420.3 123" stroke="#f80"/><path d="M420.3 123L431.9 118.2" stroke="#f50"/><path d="M431.9 118.2L443.5 115.9" stroke="#f30"/><path d="M443.5 115.9L455.3 113.3" stroke="#f20"/><path d="M455.3 113.3L467.1 111" stroke="#f10"/><path d="M467.1 111L478.9 109.7L490.7 109.9L502.3 111" stroke="#f00"/><path d="M502.3 111L513.9 113" stroke="#f10"/><path d="M513.9 113L525.1 117.1" stroke="#f20"/><path d="M525.1 117.1L535.5 126.4" stroke="#f50"/><path d="M535.5 126.4L535.5 132.1" stroke="#f90"/><path d="M535.5 132.1L535.6 137.9" stroke="#fc0"/><path d="M535.6 137.9L535.7 143.6" stroke="#ff0"/><path d="M535.7 143.6L535.8 149.4" stroke="#cf3"/><path d="M535.8 149.4L535.8 155.1" stroke="#9f6"/><path d="M535.8 155.1L535.9 160.9" stroke="#6f9"/><path d="M535.9 160.9L536 166.6" stroke="#3fc"/><path d="M536 166.6L536.1 172.4" stroke="#0ff"/><path d="M536.1 172.4L536.2 178.1" stroke="#0de"/><path d="M536.2 178.1L536.2 183.9" stroke="#0bd"/><path d="M536.2 183.9L536.3 189.6" stroke="#09c"/><path d="M536.3 189.6L536.4 195.4" stroke="#07b"/><path d="M536.4 195.4L538.9 200.8" stroke="#05a"/><path d="M538.9 200.8L541.5 206.3" stroke="#039"/><path d="M541.5 206.3L544 211.7" stroke="#018"/><path d="M544 211.7L554.1 211.7" stroke="#008"/><path d="M365.9 215.4L376.1 215.4L386.4 215.4" stroke="#008"/><path d="M386.4 215.4L391.2 211" stroke="#018"/><path d="M391.2 211L396.1 206.6" stroke="#039"/><path d="M396.1 206.6L397.5 200.9" stroke="#05a"/><path d="M397.5 200.9L399 195.2" stroke="#07b"/><path d="M399 195.2L400.4 189.5" stroke="#09c"/><path d="M400.4 189.5L401.9 183.8" stroke="#0bd"/><path d="M401.9 183.8L403.3 178.1" stroke="#0de"/><path d="M403.3 178.1L404.8 172.4" stroke="#0ff"/><path d="M404.8 172.4L406.8 166.2" stroke="#3fc"/><path d="M406.8 166.2L408.7 160.1" stroke="#6f9"/><path d="M408.7 160.1L410.7 153.9" stroke="#9f6"/><path d="M410.7 153.9L412.7 147.8" stroke="#cf3"/><path d="M412.7 147.8L414.7 141.6" stroke="#fe0"/><path d="M414.7 141.6L418.4 136.3" stroke="#fc0"/><path d="M418.4 136.3L422.2 130.9" stroke="#f90"/><path d="M422.2 130.9L425.9 125.6" stroke="#f70"/><path d="M425.9 125.6L437.6 121.2" stroke="#f40"/><path d="M437.6 121.2L449.4 118.5" stroke="#f30"/><path d="M449.4 118.5L461.3 115.8" stroke="#f20"/><path d="M461.3 115.8L473.2 114.4" stroke="#f10"/><path d="M473.2 114.4L485.1 114.5" stroke="#f00"/><path d="M485.1 114.5L496.9 115.4L508.6 117" stroke="#f10"/><path d="M508.6 117L520 120.6" stroke="#f20"/><path d="M520 120.6L531 126.1" stroke="#f40"/><path d="M531 126.1L531.3 132" stroke="#f70"/><path d="M531.3 132L531.6 137.8" stroke="#fa0"/><path d="M531.6 137.8L531.9 143.7" stroke="#fd0"/><path d="M531.9 143.7L532.2 149.6" stroke="#ef1"/><path d="M532.2 149.6L532.5 155.4" stroke="#bf4"/><path d="M532.5 155.4L532.8 161.3" stroke="#8f7"/><path d="M532.8 161.3L533.1 167.2" stroke="#5fa"/><path d="M533.1 167.2L533.4 173" stroke="#2fd"/><path d="M533.4 173L533.7 178.9" stroke="#0ff"/><path d="M533.7 178.9L534 184.7" stroke="#0de"/><path d="M534 184.7L535 189.8" stroke="#0bd"/><path d="M535 189.8L535.9 195" stroke="#09c"/><path d="M535.9 195L536.9 200.1" stroke="#07b"/><path d="M536.9 200.1L537.8 205.2" stroke="#05a"/><path d="M537.8 205.2L538.8 210.3" stroke="#039"/><path d="M538.8 210.3L539.7 215.4" stroke="#018"/><path d="M539.7 215.4L549.9 215.4" stroke="#008"/><path d="M370.4 219.1L380.7 219.1L391 219.1" stroke="#008"/><path d="M391 219.1L396 215" stroke="#018"/><path d="M396 215L400.9 210.8" stroke="#029"/><path d="M400.9 210.8L402.4 205" stroke="#04a"/><path d="M402.4 205L403.9 199.2" stroke="#06b"/><path d="M403.9 199.2L405.4 193.4" stroke="#09c"/><path d="M405.4 193.4L406.9 187.7" stroke="#0bd"/><path d="M406.9 187.7L408.4 181.9" stroke="#0de"/><path d="M408.4 181.9L409.9 176.1" stroke="#0ff"/><path d="M409.9 176.1L411.6 170.5" stroke="#3fc"/><path d="M411.6 170.5L413.3 165" stroke="#6f9"/><path d="M413.3 165L415 159.4" stroke="#8f7"/><path d="M415 159.4L416.7 153.8" stroke="#bf4"/><path d="M416.7 153.8L418.4 148.3" stroke="#ef1"/><path d="M418.4 148.3L420.1 142.7" stroke="#fd0"/><path d="M420.1 142.7L425.9 135.5" stroke="#fa0"/><path d="M425.9 135.5L431.6 128.2" stroke="#f70"/><path d="M431.6 128.2L443.5 123.7" stroke="#f40"/><path d="M443.5 123.7L455.4 120.9" stroke="#f20"/><path d="M455.4 120.9L467.4 119.1L479.4 119.2L491.3 120" stroke="#f10"/><path d="M491.3 120L503.1 121.4" stroke="#f20"/><path d="M503.1 121.4L514.7 124.1" stroke="#f30"/><path d="M514.7 124.1L526 129" stroke="#f40"/><path d="M526 129L526.7 134.8" stroke="#f70"/><path d="M526.7 134.8L527.3 140.6" stroke="#fa0"/><path d="M527.3 140.6L528 146.4" stroke="#fc0"/><path d="M528 146.4L528.6 152.2" stroke="#ff0"/><path d="M528.6 152.2L529.3 157.9" stroke="#cf3"/><path d="M529.3 157.9L530 163.7" stroke="#9f6"/><path d="M530 163.7L530.6 169.5" stroke="#6f9"/><path d="M530.6 169.5L531.3 175.3" stroke="#3fc"/><path d="M531.3 175.3L531.8 180.8" stroke="#0ff"/><path d="M531.8 180.8L532.3 186.3" stroke="#0de"/><path d="M532.3 186.3L532.8 191.7" stroke="#0bd"/><path d="M532.8 191.7L533.3 197.2" stroke="#09c"/><path d="M533.3 197.2L533.9 202.7" stroke="#07b"/><path d="M533.9 202.7L534.4 208.1" stroke="#05a"/><path d="M534.4 208.1L534.9 213.6" stroke="#039"/><path d="M534.9 213.6L535.4 219.1" stroke="#018"/><path d="M535.4 219.1L545.7 219.1" stroke="#008"/><path d="M374.9 222.9L385.3 222.9L395.8 222.9" stroke="#008"/><path d="M395.8 222.9L400.8 218.8" stroke="#018"/><path d="M400.8 218.8L405.8 214.7" stroke="#029"/><path d="M405.8 214.7L407.1 209.1" stroke="#04a"/><path d="M407.1 209.1L408.4 203.4" stroke="#06b"/><path d="M408.4 203.4L409.7 197.8" stroke="#08c"/><path d="M409.7 197.8L411.1 192.1" stroke="#0ad"/><path d="M411.1 192.1L412.4 186.5" stroke="#0ce"/><path d="M412.4 186.5L413.7 180.9" stroke="#0ef"/><path d="M413.7 180.9L415 175.2" stroke="#2fd"/><path d="M415 175.2L417.1 168.9" stroke="#5fa"/><path d="M417.1 168.9L419.3 162.7" stroke="#8f7"/><path d="M419.3 162.7L421.4 156.4" stroke="#cf3"/><path d="M421.4 156.4L423.5 150.2" stroke="#ff0"/><path d="M423.5 150.2L425.7 143.9" stroke="#fc0"/><path d="M425.7 143.9L431.6 137.2" stroke="#f90"/><path d="M431.6 137.2L437.4 130.5" stroke="#f60"/><path d="M437.4 130.5L449.5 126.1" stroke="#f40"/><path d="M449.5 126.1L461.6 124L473.6 123.7L485.7 124.5L497.6 125.8" stroke="#f20"/><path d="M497.6 125.8L509.4 128" stroke="#f30"/><path d="M509.4 128L520.9 132" stroke="#f40"/><path d="M520.9 132L522.1 137.8" stroke="#f70"/><path d="M522.1 137.8L523.3 143.5" stroke="#f90"/><path d="M523.3 143.5L524.5 149.3" stroke="#fc0"/><path d="M524.5 149.3L525.7 155.1" stroke="#ff0"/><path d="M525.7 155.1L527 160.8" stroke="#cf3"/><path d="M527 160.8L528.2 166.6" stroke="#af5"/><path d="M528.2 166.6L528.4 172.2" stroke="#7f8"/><path d="M528.4 172.2L528.7 177.8" stroke="#4fb"/><path d="M528.7 177.8L529 183.5" stroke="#1fe"/><path d="M529 183.5L529.3 189.1" stroke="#0de"/><path d="M529.3 189.1L529.6 194.7" stroke="#0bd"/><path d="M529.6 194.7L529.9 200.3" stroke="#09c"/><path d="M529.9 200.3L530.1 205.9" stroke="#07b"/><path d="M530.1 205.9L530.4 211.6" stroke="#05a"/><path d="M530.4 211.6L530.7 217.2" stroke="#039"/><path d="M530.7 217.2L531 222.8" stroke="#018"/><path d="M531 222.8L541.4 222.8" stroke="#008"/><path d="M379.6 226.7L390.1 226.7L400.6 226.7" stroke="#008"/><path d="M400.6 226.7L405.6 220.3" stroke="#018"/><path d="M405.6 220.3L410.5 213.8" stroke="#049"/><path d="M410.5 213.8L411.9 208.2" stroke="#06a"/><path d="M411.9 208.2L413.3 202.5" stroke="#08c"/><path d="M413.3 202.5L414.7 196.9" stroke="#0ad"/><path d="M414.7 196.9L416.1 191.2" stroke="#0ce"/><path d="M416.1 191.2L417.5 185.6" stroke="#0ef"/><path d="M417.5 185.6L418.9 179.9" stroke="#2fd"/><path d="M418.9 179.9L420.2 174.3" stroke="#5fa"/><path d="M420.2 174.3L422.5 168.4" stroke="#8f7"/><path d="M422.5 168.4L424.7 162.6" stroke="#af5"/><path d="M424.7 162.6L426.9 156.7" stroke="#df2"/><path d="M426.9 156.7L429.2 150.8" stroke="#fe0"/><path d="M429.2 150.8L431.4 145" stroke="#fb0"/><path d="M431.4 145L437.4 138.8" stroke="#f80"/><path d="M437.4 138.8L443.4 132.7" stroke="#f50"/><path d="M443.4 132.7L455.6 129.2" stroke="#f30"/><path d="M455.6 129.2L467.8 128.5L479.9 129" stroke="#f20"/><path d="M479.9 129L492 130.3L503.9 132.3" stroke="#f30"/><path d="M503.9 132.3L515.7 135.3" stroke="#f50"/><path d="M515.7 135.3L518.7 142.7" stroke="#f70"/><path d="M518.7 142.7L521.8 150.2" stroke="#fa0"/><path d="M521.8 150.2L524.8 157.6" stroke="#fe0"/><path d="M524.8 157.6L525 163.4" stroke="#df2"/><path d="M525 163.4L525.1 169.1" stroke="#af5"/><path d="M525.1 169.1L525.3 174.9" stroke="#7f8"/><path d="M525.3 174.9L525.4 180.6" stroke="#4fb"/><path d="M525.4 180.6L525.5 186.4" stroke="#1fe"/><path d="M525.5 186.4L525.7 192.1" stroke="#0de"/><path d="M525.7 192.1L525.8 197.9" stroke="#0bd"/><path d="M525.8 197.9L526 203.6" stroke="#09c"/><path d="M526 203.6L526.1 209.4" stroke="#07b"/><path d="M526.1 209.4L526.2 215.1" stroke="#05a"/><path d="M526.2 215.1L526.4 220.9" stroke="#039"/><path d="M526.4 220.9L526.5 226.6" stroke="#018"/><path d="M526.5 226.6L537 226.6" stroke="#008"/><path d="M384.3 230.6L394.9 230.6L405.5 230.6" stroke="#008"/><path d="M405.5 230.6L408.8 224.6" stroke="#018"/><path d="M408.8 224.6L412.1 218.7" stroke="#039"/><path d="M412.1 218.7L415.5 212.8" stroke="#06a"/><path d="M415.5 212.8L416.9 207.1" stroke="#08b"/><path d="M416.9 207.1L418.4 201.5" stroke="#0ac"/><path d="M418.4 201.5L419.8 195.8" stroke="#0cd"/><path d="M419.8 195.8L421.3 190.2" stroke="#0ee"/><path d="M421.3 190.2L422.8 184.5" stroke="#1fe"/><path d="M422.8 184.5L424.2 178.9" stroke="#4fb"/><path d="M424.2 178.9L425.7 173.2" stroke="#7f8"/><path d="M425.7 173.2L428.6 166.4" stroke="#af5"/><path d="M428.6 166.4L431.5 159.6" stroke="#df2"/><path d="M431.5 159.6L434.4 152.8" stroke="#fd0"/><path d="M434.4 152.8L437.2 146" stroke="#fa0"/><path d="M437.2 146L443.4 140.8" stroke="#f70"/><path d="M443.4 140.8L449.5 135.5" stroke="#f50"/><path d="M449.5 135.5L461.8 133.6L474.1 133.7L486.2 134.9" stroke="#f30"/><path d="M486.2 134.9L498.3 136.8" stroke="#f40"/><path d="M498.3 136.8L510.3 139.2" stroke="#f50"/><path d="M510.3 139.2L521.3 148.4" stroke="#f70"/><path d="M521.3 148.4L521.3 154.3" stroke="#fb0"/><path d="M521.3 154.3L521.4 160.1" stroke="#fe0"/><path d="M521.4 160.1L521.4 166" stroke="#df2"/><path d="M521.4 166L521.5 171.9" stroke="#af5"/><path d="M521.5 171.9L521.5 177.7" stroke="#7f8"/><path d="M521.5 177.7L521.6 183.6" stroke="#4fb"/><path d="M521.6 183.6L521.6 189.5" stroke="#1fe"/><path d="M521.6 189.5L521.7 195.3" stroke="#0de"/><path d="M521.7 195.3L521.7 201.2" stroke="#0bd"/><path d="M521.7 201.2L521.8 207.1" stroke="#09c"/><path d="M521.8 207.1L521.8 212.9" stroke="#07b"/><path d="M521.8 212.9L521.9 218.8" stroke="#05a"/><path d="M521.9 218.8L521.9 224.6" stroke="#039"/><path d="M521.9 224.6L521.9 230.5" stroke="#018"/><path d="M521.9 230.5L532.5 230.5" stroke="#008"/><path d="M389.1 234.5L399.8 234.5L410.5 234.5" stroke="#008"/><path d="M410.5 234.5L413 228.8" stroke="#018"/><path d="M413 228.8L415.5 223.1" stroke="#039"/><path d="M415.5 223.1L418 217.4" stroke="#05a"/><path d="M418 217.4L420.6 211.7" stroke="#08b"/><path d="M420.6 211.7L422.1 206.1" stroke="#0ac"/><path d="M422.1 206.1L423.6 200.4" stroke="#0cd"/><path d="M423.6 200.4L425.2 194.8" stroke="#0ee"/><path d="M425.2 194.8L426.7 189.1" stroke="#1fe"/><path d="M426.7 189.1L428.2 183.5" stroke="#4fb"/><path d="M428.2 183.5L429.7 177.8" stroke="#7f8"/><path d="M429.7 177.8L431.3 172.2" stroke="#9f6"/><path d="M431.3 172.2L434.3 166" stroke="#cf3"/><path d="M434.3 166L437.3 159.8" stroke="#ff0"/><path d="M437.3 159.8L440.3 153.6" stroke="#fc0"/><path d="M440.3 153.6L443.3 147.4" stroke="#f90"/><path d="M443.3 147.4L455.7 139.5" stroke="#f60"/><path d="M455.7 139.5L468.1 138.6L480.4 139.4L492.6 141.3" stroke="#f40"/><path d="M492.6 141.3L504.7 143.3" stroke="#f50"/><path d="M504.7 143.3L516.2 150" stroke="#f70"/><path d="M516.2 150L516.3 156" stroke="#fa0"/><path d="M516.3 156L516.4 162" stroke="#fd0"/><path d="M516.4 162L516.5 168.1" stroke="#ef1"/><path d="M516.5 168.1L516.5 174.1" stroke="#af5"/><path d="M516.5 174.1L516.6 180.1" stroke="#7f8"/><path d="M516.6 180.1L516.7 186.2" stroke="#4fb"/><path d="M516.7 186.2L516.8 192.2" stroke="#1fe"/><path d="M516.8 192.2L516.8 198.2" stroke="#0ee"/><path d="M516.8 198.2L516.9 204.3" stroke="#0cd"/><path d="M516.9 204.3L517 210.3" stroke="#09c"/><path d="M517 210.3L517.1 216.4" stroke="#07b"/><path d="M517.1 216.4L517.1 222.4" stroke="#05a"/><path d="M517.1 222.4L517.2 228.4" stroke="#039"/><path d="M517.2 228.4L517.3 234.5" stroke="#018"/><path d="M517.3 234.5L528 234.5" stroke="#008"/><path d="M393.9 238.6L404.7 238.6L415.5 238.6" stroke="#008"/><path d="M415.5 238.6L417.6 233" stroke="#018"/><path d="M417.6 233L419.7 227.4" stroke="#039"/><path d="M419.7 227.4L421.7 221.9" stroke="#05a"/><path d="M421.7 221.9L423.8 216.3" stroke="#07b"/><path d="M423.8 216.3L425.8 210.7" stroke="#09c"/><path d="M425.8 210.7L427.4 205.1" stroke="#0bd"/><path d="M427.4 205.1L429 199.4" stroke="#0de"/><path d="M429 199.4L430.6 193.8" stroke="#0ff"/><path d="M430.6 193.8L432.3 188.1" stroke="#3fc"/><path d="M432.3 188.1L433.9 182.5" stroke="#6f9"/><path d="M433.9 182.5L435.5 176.8" stroke="#9f6"/><path d="M435.5 176.8L437.1 171.2" stroke="#cf3"/><path d="M437.1 171.2L441.2 164" stroke="#ff0"/><path d="M441.2 164L445.3 156.8" stroke="#fc0"/><path d="M445.3 156.8L449.4 149.6" stroke="#f80"/><path d="M449.4 149.6L462 144.1" stroke="#f60"/><path d="M462 144.1L474.5 144.1" stroke="#f40"/><path d="M474.5 144.1L486.8 145.9L499.1 147.4" stroke="#f50"/><path d="M499.1 147.4L510.9 153.5" stroke="#f70"/><path d="M510.9 153.5L511.1 159.3" stroke="#fa0"/><path d="M511.1 159.3L511.3 165.2" stroke="#fd0"/><path d="M511.3 165.2L511.5 171" stroke="#ef1"/><path d="M511.5 171L511.7 176.8" stroke="#bf4"/><path d="M511.7 176.8L511.9 182.7" stroke="#8f7"/><path d="M511.9 182.7L512.2 188.5" stroke="#5fa"/><path d="M512.2 188.5L512.4 194.4" stroke="#2fd"/><path d="M512.4 194.4L512.6 200.2" stroke="#0ef"/><path d="M512.6 200.2L512.8 206.1" stroke="#0ce"/><path d="M512.8 206.1L513 211.9" stroke="#0ad"/><path d="M513 211.9L513.3 217.8" stroke="#08c"/><path d="M513.3 217.8L513.5 223.6" stroke="#06b"/><path d="M513.5 223.6L513.7 229.4" stroke="#05a"/><path d="M513.7 229.4L518.5 234" stroke="#039"/><path d="M518.5 234L523.3 238.5" stroke="#018"/><path d="M398.9 242.7L409.8 242.7L420.7 242.7" stroke="#008"/><path d="M420.7 242.7L422.5 237.2" stroke="#018"/><path d="M422.5 237.2L424.2 231.7" stroke="#039"/><path d="M424.2 231.7L426 226.2" stroke="#05a"/><path d="M426 226.2L427.8 220.7" stroke="#07b"/><path d="M427.8 220.7L429.5 215.2" stroke="#09c"/><path d="M429.5 215.2L431.3 209.7" stroke="#0bd"/><path d="M431.3 209.7L433 204.1" stroke="#0de"/><path d="M433 204.1L434.6 198.5" stroke="#0ff"/><path d="M434.6 198.5L436.3 192.9" stroke="#3fc"/><path d="M436.3 192.9L438 187.3" stroke="#6f9"/><path d="M438 187.3L439.7 181.7" stroke="#8f7"/><path d="M439.7 181.7L441.4 176.1" stroke="#bf4"/><path d="M441.4 176.1L443.1 170.5" stroke="#ef1"/><path d="M443.1 170.5L447.3 164.5" stroke="#fd0"/><path d="M447.3 164.5L451.5 158.4" stroke="#fa0"/><path d="M451.5 158.4L455.8 152.4" stroke="#f80"/><path d="M455.8 152.4L468.4 149.2" stroke="#f60"/><path d="M468.4 149.2L480.9 150.5" stroke="#f50"/><path d="M480.9 150.5L493.4 151.6" stroke="#f60"/><path d="M493.4 151.6L505.3 157.1" stroke="#f70"/><path d="M505.3 157.1L505.8 163" stroke="#fa0"/><path d="M505.8 163L506.2 169" stroke="#fd0"/><path d="M506.2 169L506.6 174.9" stroke="#ef1"/><path d="M506.6 174.9L507.1 180.9" stroke="#bf4"/><path d="M507.1 180.9L507.5 186.9" stroke="#8f7"/><path d="M507.5 186.9L507.9 192.8" stroke="#5fa"/><path d="M507.9 192.8L508.4 198.8" stroke="#2fd"/><path d="M508.4 198.8L508.8 204.7" stroke="#0ff"/><path d="M508.8 204.7L509.2 210.7" stroke="#0de"/><path d="M509.2 210.7L509.7 216.6" stroke="#0bd"/><path d="M509.7 216.6L510.1 222.6" stroke="#09c"/><path d="M510.1 222.6L512.2 227.6" stroke="#07b"/><path d="M512.2 227.6L514.3 232.6" stroke="#05a"/><path d="M514.3 232.6L516.5 237.6" stroke="#039"/><path d="M516.5 237.6L518.6 242.6" stroke="#018"/><path d="M404 246.9L415 246.8L426 246.8" stroke="#008"/><path d="M426 246.8L427.5 241.4" stroke="#018"/><path d="M427.5 241.4L429.1 235.9" stroke="#039"/><path d="M429.1 235.9L430.7 230.5" stroke="#05a"/><path d="M430.7 230.5L432.2 225" stroke="#07b"/><path d="M432.2 225L433.8 219.6" stroke="#09c"/><path d="M433.8 219.6L435.4 214.2" stroke="#0bd"/><path d="M435.4 214.2L436.9 208.7" stroke="#0de"/><path d="M436.9 208.7L439 202.3" stroke="#0ff"/><path d="M439 202.3L441 195.9" stroke="#3fc"/><path d="M441 195.9L443.1 189.5" stroke="#6f9"/><path d="M443.1 189.5L445.2 183.1" stroke="#af5"/><path d="M445.2 183.1L447.2 176.7" stroke="#df2"/><path d="M447.2 176.7L449.3 170.3" stroke="#fe0"/><path d="M449.3 170.3L455.7 163.1" stroke="#fb0"/><path d="M455.7 163.1L462.2 155.9" stroke="#f80"/><path d="M462.2 155.9L474.9 155.3L487.5 155.8" stroke="#f60"/><path d="M487.5 155.8L499.7 160.6" stroke="#f70"/><path d="M499.7 160.6L500.5 166.7" stroke="#fa0"/><path d="M500.5 166.7L501.2 172.8" stroke="#fd0"/><path d="M501.2 172.8L501.9 178.9" stroke="#ef1"/><path d="M501.9 178.9L502.6 185" stroke="#bf4"/><path d="M502.6 185L503.4 191.1" stroke="#8f7"/><path d="M503.4 191.1L504.1 197.2" stroke="#5fa"/><path d="M504.1 197.2L504.8 203.3" stroke="#2fd"/><path d="M504.8 203.3L505.5 209.4" stroke="#0ff"/><path d="M505.5 209.4L506.3 215.5" stroke="#0de"/><path d="M506.3 215.5L507.5 220.7" stroke="#0bd"/><path d="M507.5 220.7L508.8 225.9" stroke="#09c"/><path d="M508.8 225.9L510 231.1" stroke="#07b"/><path d="M510 231.1L511.3 236.4" stroke="#05a"/><path d="M511.3 236.4L512.5 241.6" stroke="#039"/><path d="M512.5 241.6L513.8 246.8" stroke="#018"/><path d="M409.1 251.1L420.2 251.1L431.3 251.1" stroke="#008"/><path d="M431.3 251.1L432.8 245.7" stroke="#018"/><path d="M432.8 245.7L434.2 240.3" stroke="#039"/><path d="M434.2 240.3L435.6 234.9" stroke="#05a"/><path d="M435.6 234.9L437.1 229.5" stroke="#07b"/><path d="M437.1 229.5L438.5 224.1" stroke="#09c"/><path d="M438.5 224.1L439.9 218.7" stroke="#0bd"/><path d="M439.9 218.7L441.3 213.3" stroke="#0de"/><path d="M441.3 213.3L442.8 207.9" stroke="#0ff"/><path d="M442.8 207.9L444.9 201.7" stroke="#3fc"/><path d="M444.9 201.7L447.1 195.6" stroke="#6f9"/><path d="M447.1 195.6L449.2 189.4" stroke="#9f6"/><path d="M449.2 189.4L451.4 183.2" stroke="#bf4"/><path d="M451.4 183.2L453.5 177.1" stroke="#ef1"/><path d="M453.5 177.1L455.7 170.9" stroke="#fd0"/><path d="M455.7 170.9L468.7 161.1" stroke="#f90"/><path d="M468.7 161.1L481.5 160.2L494 164.3" stroke="#f70"/><path d="M494 164.3L495.1 170.6" stroke="#fa0"/><path d="M495.1 170.6L496.3 176.9" stroke="#fd0"/><path d="M496.3 176.9L497.5 183.2" stroke="#ef1"/><path d="M497.5 183.2L498.7 189.4" stroke="#bf4"/><path d="M498.7 189.4L499.8 195.7" stroke="#8f7"/><path d="M499.8 195.7L501 202" stroke="#5fa"/><path d="M501 202L502.2 208.2" stroke="#2fd"/><path d="M502.2 208.2L503 213.6" stroke="#0ff"/><path d="M503 213.6L503.9 218.9" stroke="#0de"/><path d="M503.9 218.9L504.7 224.3" stroke="#0bd"/><path d="M504.7 224.3L505.5 229.6" stroke="#09c"/><path d="M505.5 229.6L506.4 235" stroke="#07b"/><path d="M506.4 235L507.2 240.3" stroke="#05a"/><path d="M507.2 240.3L508.1 245.7" stroke="#039"/><path d="M508.1 245.7L508.9 251" stroke="#018"/><path d="M414.4 255.4L425.6 255.4L436.8 255.4" stroke="#008"/><path d="M436.8 255.4L438.1 250.1" stroke="#018"/><path d="M438.1 250.1L439.5 244.7" stroke="#039"/><path d="M439.5 244.7L440.8 239.4" stroke="#05a"/><path d="M440.8 239.4L442.1 234" stroke="#07b"/><path d="M442.1 234L443.5 228.7" stroke="#09c"/><path d="M443.5 228.7L444.8 223.3" stroke="#0bd"/><path d="M444.8 223.3L446.2 218" stroke="#0de"/><path d="M446.2 218L447.5 212.6" stroke="#0ef"/><path d="M447.5 212.6L448.8 207.3" stroke="#2fd"/><path d="M448.8 207.3L451.5 200.7" stroke="#5fa"/><path d="M451.5 200.7L454.2 194.1" stroke="#8f7"/><path d="M454.2 194.1L456.8 187.5" stroke="#bf4"/><path d="M456.8 187.5L459.5 180.9" stroke="#ef1"/><path d="M459.5 180.9L462.2 174.3" stroke="#fc0"/><path d="M462.2 174.3L475.4 165.8" stroke="#f90"/><path d="M475.4 165.8L488.1 168.4" stroke="#f80"/><path d="M488.1 168.4L490 174.9" stroke="#fa0"/><path d="M490 174.9L492 181.4" stroke="#fd0"/><path d="M492 181.4L493.9 187.9" stroke="#ef1"/><path d="M493.9 187.9L495.9 194.3" stroke="#bf4"/><path d="M495.9 194.3L497.9 200.8" stroke="#8f7"/><path d="M497.9 200.8L498.5 206.3" stroke="#5fa"/><path d="M498.5 206.3L499.1 211.7" stroke="#2fd"/><path d="M499.1 211.7L499.7 217.2" stroke="#0ff"/><path d="M499.7 217.2L500.3 222.6" stroke="#0de"/><path d="M500.3 222.6L500.9 228.1" stroke="#0bd"/><path d="M500.9 228.1L501.5 233.5" stroke="#09c"/><path d="M501.5 233.5L502.1 239" stroke="#07b"/><path d="M502.1 239L502.7 244.5" stroke="#05a"/><path d="M502.7 244.5L503.3 249.9" stroke="#039"/><path d="M503.3 249.9L503.9 255.4" stroke="#018"/><path d="M419.7 259.9L431.1 259.9L442.4 259.8" stroke="#008"/><path d="M442.4 259.8L443.8 254.2" stroke="#018"/><path d="M443.8 254.2L445.2 248.6" stroke="#039"/><path d="M445.2 248.6L446.6 243" stroke="#05a"/><path d="M446.6 243L448 237.3" stroke="#07b"/><path d="M448 237.3L449.4 231.7" stroke="#09c"/><path d="M449.4 231.7L450.8 226.1" stroke="#0bd"/><path d="M450.8 226.1L452.2 220.5" stroke="#0de"/><path d="M452.2 220.5L453.6 214.8" stroke="#0ff"/><path d="M453.6 214.8L455.1 209.2" stroke="#3fc"/><path d="M455.1 209.2L457.8 203.2" stroke="#6f9"/><path d="M457.8 203.2L460.5 197.3" stroke="#9f6"/><path d="M460.5 197.3L463.3 191.3" stroke="#cf3"/><path d="M463.3 191.3L466 185.3" stroke="#ff0"/><path d="M466 185.3L468.7 179.3" stroke="#fd0"/><path d="M468.7 179.3L481.9 174.8" stroke="#fa0"/><path d="M481.9 174.8L485.6 181.3" stroke="#fb0"/><path d="M485.6 181.3L489.4 187.8" stroke="#fe0"/><path d="M489.4 187.8L493.2 194.3" stroke="#df2"/><path d="M493.2 194.3L493.7 200.2" stroke="#af5"/><path d="M493.7 200.2L494.2 206.2" stroke="#7f8"/><path d="M494.2 206.2L494.7 212.1" stroke="#4fb"/><path d="M494.7 212.1L495.2 218.1" stroke="#1fe"/><path d="M495.2 218.1L495.7 224" stroke="#0ee"/><path d="M495.7 224L496.2 230" stroke="#0bd"/><path d="M496.2 230L496.8 236" stroke="#09c"/><path d="M496.8 236L497.3 241.9" stroke="#07b"/><path d="M497.3 241.9L497.8 247.9" stroke="#05a"/><path d="M497.8 247.9L498.3 253.8" stroke="#039"/><path d="M498.3 253.8L498.8 259.8" stroke="#018"/><path d="M425.2 264.4L436.6 264.4L448 264.3" stroke="#008"/><path d="M448 264.3L449.5 258.9" stroke="#018"/><path d="M449.5 258.9L451 253.4" stroke="#039"/><path d="M451 253.4L452.4 247.9" stroke="#05a"/><path d="M452.4 247.9L453.9 242.4" stroke="#07b"/><path d="M453.9 242.4L455.4 237" stroke="#09c"/><path d="M455.4 237L456.9 231.5" stroke="#0bd"/><path d="M456.9 231.5L458.3 226" stroke="#0de"/><path d="M458.3 226L459.8 220.5" stroke="#0ff"/><path d="M459.8 220.5L461.3 215" stroke="#3fc"/><path d="M461.3 215L464.7 209.3" stroke="#5fa"/><path d="M464.7 209.3L468.1 203.5" stroke="#8f7"/><path d="M468.1 203.5L471.6 197.8" stroke="#bf4"/><path d="M471.6 197.8L475 192L487.6 195.4" stroke="#ef1"/><path d="M487.6 195.4L488.1 201.1" stroke="#cf3"/><path d="M488.1 201.1L488.6 206.9" stroke="#9f6"/><path d="M488.6 206.9L489.1 212.6" stroke="#6f9"/><path d="M489.1 212.6L489.6 218.3" stroke="#3fc"/><path d="M489.6 218.3L490.1 224.1" stroke="#0ff"/><path d="M490.1 224.1L490.6 229.8" stroke="#0de"/><path d="M490.6 229.8L491.1 235.6" stroke="#0bd"/><path d="M491.1 235.6L491.6 241.3" stroke="#09c"/><path d="M491.6 241.3L492.1 247.1" stroke="#07b"/><path d="M492.1 247.1L492.6 252.8" stroke="#05a"/><path d="M492.6 252.8L493.1 258.6" stroke="#039"/><path d="M493.1 258.6L493.6 264.3" stroke="#018"/><path d="M430.8 269L442.3 268.9L453.8 268.9" stroke="#008"/><path d="M453.8 268.9L456 263.1" stroke="#018"/><path d="M456 263.1L458.2 257.2" stroke="#039"/><path d="M458.2 257.2L460.4 251.3" stroke="#05a"/><path d="M460.4 251.3L462.6 245.4" stroke="#08b"/><path d="M462.6 245.4L464.8 239.6" stroke="#0ac"/><path d="M464.8 239.6L467 233.7" stroke="#0cd"/><path d="M467 233.7L479.5 229.4" stroke="#0ee"/><path d="M479.5 229.4L480.8 235" stroke="#0de"/><path d="M480.8 235L482 240.7" stroke="#0bd"/><path d="M482 240.7L483.3 246.3" stroke="#09c"/><path d="M483.3 246.3L484.6 252" stroke="#07b"/><path d="M484.6 252L485.8 257.6" stroke="#05a"/><path d="M485.8 257.6L487.1 263.2" stroke="#039"/><path d="M487.1 263.2L488.3 268.9" stroke="#018"/><path d="M436.4 273.6L448.1 273.6L459.7 273.6L471.3 273.6L482.9 273.6" stroke="#008"/><path d="M442.2 278.4L454 278.4L465.7 278.4L477.4 278.4" stroke="#008"/><path d="M448.1 283.3L460 283.3L471.8 283.2" stroke="#008"/><path d="M454.1 288.2L466.1 288.2" stroke="#008"/></g>
<path d="M309.2 184.5L285.0 60.9M285.0 60.9L422.7 12.0M422.7 12.0L599.6 78.9M599.6 78.9L572.7 205.5M572.7 205.5L458.2 307.4M458.2 307.4L309.2 184.5" stroke="#505050" stroke-width="0.6" fill="none"/>
<text x="297.491" y="192.463" font-size="8" text-anchor="middle" fill="#333" transform="rotate(-36 297.491 192.463)" dy="2.9">0</text>
<text x="311.738" y="204.779" font-size="8" text-anchor="middle" fill="#333" transform="rotate(-36 311.738 204.779)" dy="2.9">20</text>
<text x="326.873" y="217.829" font-size="8" text-anchor="middle" fill="#333" transform="rotate(-36 326.873 217.829)" dy="2.9">40</text>
<text x="342.982" y="231.681" font-size="8" text-anchor="middle" fill="#333" transform="rotate(-36 342.982 231.681)" dy="2.9">60</text>
<text x="360.16" y="246.415" font-size="8" text-anchor="middle" fill="#333" transform="rotate(-36 360.16 246.415)" dy="2.9">80</text>
<text x="378.515" y="262.12" font-size="8" text-anchor="middle" fill="#333" transform="rotate(-36 378.515 262.12)" dy="2.9">100</text>
<text x="398.173" y="278.899" font-size="8" text-anchor="middle" fill="#333" transform="rotate(-36 398.173 278.899)" dy="2.9">120</text>
<text x="419.274" y="296.868" font-size="8" text-anchor="middle" fill="#333" transform="rotate(-36 419.274 296.868)" dy="2.9">140</text>
<text x="441.983" y="316.163" font-size="8" text-anchor="middle" fill="#333" transform="rotate(-36 441.983 316.163)" dy="2.9">160</text>
<text x="486.55" y="306.989" font-size="8" text-anchor="middle" fill="#333" transform="rotate(35 486.55 306.989)" dy="2.9">0</text>
<text x="516.294" y="279.108" font-size="8" text-anchor="middle" fill="#333" transform="rotate(35 516.294 279.108)" dy="2.9">10</text>
<text x="543.046" y="253.89" font-size="8" text-anchor="middle" fill="#333" transform="rotate(35 543.046 253.89)" dy="2.9">20</text>
<text x="567.237" y="230.952" font-size="8" text-anchor="middle" fill="#333" transform="rotate(35 567.237 230.952)" dy="2.9">30</text>
<text x="295.35" y="188.038" font-size="8" text-anchor="middle" fill="#333" transform="rotate(-24 295.35 188.038)" dy="2.9">0</text>
<text x="291.293" y="169.688" font-size="8" text-anchor="middle" fill="#333" transform="rotate(-24 291.293 169.688)" dy="2.9">200</text>
<text x="287.033" y="150.305" font-size="8" text-anchor="middle" fill="#333" transform="rotate(-24 287.033 150.305)" dy="2.9">400</text>
<text x="282.555" y="129.799" font-size="8" text-anchor="middle" fill="#333" transform="rotate(-24 282.555 129.799)" dy="2.9">600</text>
<text x="277.837" y="108.07" font-size="8" text-anchor="middle" fill="#333" transform="rotate(-24 277.837 108.07)" dy="2.9">800</text>
<text x="272.857" y="85.0038" font-size="8" text-anchor="middle" fill="#333" transform="rotate(-24 272.857 85.0038)" dy="2.9">1000</text>
<path d="M310.1 184.5L306.0 187.9M423.3 12.2L423.2 8.2M324.5 196.4L320.4 199.8M440.5 18.7L440.5 14.7M339.8 209.1L335.7 212.5M458.8 25.7L458.9 21.7M356.1 222.5L352.0 225.9M478.2 33.0L478.4 29.0M373.5 236.8L369.4 240.2M498.9 40.8L499.2 36.8M392.0 252.1L387.9 255.5M520.9 49.1L521.3 45.2M411.8 268.5L407.8 271.8M544.4 58.0L544.9 54.1M433.1 286.0L429.0 289.4M569.5 67.5L570.2 63.6M456.0 304.9L451.9 308.3M596.5 77.7L597.3 73.8M471.8 294.7L475.8 298.1M301.5 55.1L300.8 51.1M501.5 268.2L505.6 271.6M336.9 42.5L336.4 38.5M528.3 244.4L532.3 247.8M369.1 31.0L368.8 27.0M552.5 222.8L556.5 226.2M398.5 20.6L398.3 16.6M309.1 181.4L304.2 183.6M573.3 202.6L576.8 204.6M305.6 163.2L300.7 165.4M577.2 184.1L580.7 186.0M301.8 144.0L296.9 146.1M581.4 164.5L584.9 166.3M297.8 123.7L293.0 125.8M585.8 143.7L589.4 145.4M293.6 102.1L288.7 104.2M590.5 121.6L594.2 123.2M289.1 79.2L284.3 81.3M595.5 98.0L599.2 99.5" stroke="#505050" stroke-width="0.6" fill="none"/>
<text x="339.9" y="261.6" font-size="8.7" text-anchor="middle" fill="#333" transform="rotate(42 339.9 261.6)">Face width in mm</text>
<text x="552.3" y="271.5" font-size="8.7" text-anchor="middle" fill="#333" transform="rotate(-43 552.3 271.5)">Profile coordinate</text>
<text x="554.4" y="287.1" font-size="8.7" text-anchor="middle" fill="#333" transform="rotate(-43 554.4 287.1)">in mm</text>
<text x="261.4" y="142.8" font-size="8.7" text-anchor="middle" fill="#333" transform="rotate(75 261.4 142.8)">N / mm<tspan dy="-3.2" font-size="6.2">2</tspan></text></svg></body></html>
